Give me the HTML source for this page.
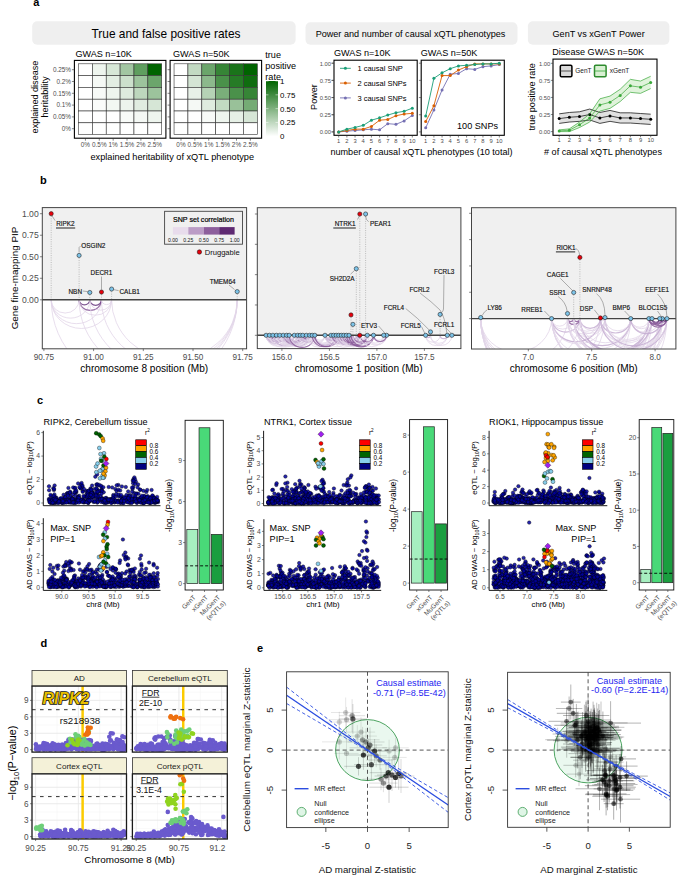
<!DOCTYPE html>
<html><head><meta charset="utf-8"><style>
html,body{margin:0;padding:0;background:#fff;}
svg{display:block;font-family:"Liberation Sans", sans-serif;}
</style></head><body>
<svg width="685" height="878" viewBox="0 0 685 878">
<rect width="685" height="878" fill="#fff"/>
<text x="33.20" y="6.30" font-size="11" font-weight="bold">a</text>
<rect x="32.20" y="21.20" width="263.40" height="23.60" fill="#efefef" stroke="none" stroke-width="1" rx="5"/>
<text x="166.00" y="37.60" font-size="11.9" text-anchor="middle">True and false positive rates</text>
<rect x="305.50" y="22.20" width="212.00" height="22.50" fill="#efefef" stroke="none" stroke-width="1" rx="5"/>
<text x="410.50" y="36.80" font-size="9.1" text-anchor="middle">Power and number of causal xQTL phenotypes</text>
<rect x="527.90" y="21.20" width="141.50" height="23.50" fill="#efefef" stroke="none" stroke-width="1" rx="5"/>
<text x="598.60" y="36.80" font-size="9.1" text-anchor="middle">GenT vs xGenT Power</text>
<rect x="78.50" y="63.80" width="13.87" height="11.80" fill="#ffffff" stroke="#333" stroke-width="0.6"/>
<rect x="92.37" y="63.80" width="13.87" height="11.80" fill="#eef5ee" stroke="#333" stroke-width="0.6"/>
<rect x="106.23" y="63.80" width="13.87" height="11.80" fill="#d7e7d7" stroke="#333" stroke-width="0.6"/>
<rect x="120.10" y="63.80" width="13.87" height="11.80" fill="#a2c6a2" stroke="#333" stroke-width="0.6"/>
<rect x="133.97" y="63.80" width="13.87" height="11.80" fill="#5f9e5f" stroke="#333" stroke-width="0.6"/>
<rect x="147.83" y="63.80" width="13.87" height="11.80" fill="#006400" stroke="#333" stroke-width="0.6"/>
<rect x="78.50" y="75.60" width="13.87" height="11.80" fill="#ffffff" stroke="#333" stroke-width="0.6"/>
<rect x="92.37" y="75.60" width="13.87" height="11.80" fill="#f5f9f5" stroke="#333" stroke-width="0.6"/>
<rect x="106.23" y="75.60" width="13.87" height="11.80" fill="#e3eee3" stroke="#333" stroke-width="0.6"/>
<rect x="120.10" y="75.60" width="13.87" height="11.80" fill="#cce0cc" stroke="#333" stroke-width="0.6"/>
<rect x="133.97" y="75.60" width="13.87" height="11.80" fill="#9cc39c" stroke="#333" stroke-width="0.6"/>
<rect x="147.83" y="75.60" width="13.87" height="11.80" fill="#6ba56b" stroke="#333" stroke-width="0.6"/>
<rect x="78.50" y="87.40" width="13.87" height="11.80" fill="#ffffff" stroke="#333" stroke-width="0.6"/>
<rect x="92.37" y="87.40" width="13.87" height="11.80" fill="#f7faf7" stroke="#333" stroke-width="0.6"/>
<rect x="106.23" y="87.40" width="13.87" height="11.80" fill="#eef5ee" stroke="#333" stroke-width="0.6"/>
<rect x="120.10" y="87.40" width="13.87" height="11.80" fill="#deebde" stroke="#333" stroke-width="0.6"/>
<rect x="133.97" y="87.40" width="13.87" height="11.80" fill="#bdd7bd" stroke="#333" stroke-width="0.6"/>
<rect x="147.83" y="87.40" width="13.87" height="11.80" fill="#9cc39c" stroke="#333" stroke-width="0.6"/>
<rect x="78.50" y="99.20" width="13.87" height="11.80" fill="#ffffff" stroke="#333" stroke-width="0.6"/>
<rect x="92.37" y="99.20" width="13.87" height="11.80" fill="#fafcfa" stroke="#333" stroke-width="0.6"/>
<rect x="106.23" y="99.20" width="13.87" height="11.80" fill="#f3f8f3" stroke="#333" stroke-width="0.6"/>
<rect x="120.10" y="99.20" width="13.87" height="11.80" fill="#edf4ed" stroke="#333" stroke-width="0.6"/>
<rect x="133.97" y="99.20" width="13.87" height="11.80" fill="#e0ece0" stroke="#333" stroke-width="0.6"/>
<rect x="147.83" y="99.20" width="13.87" height="11.80" fill="#d6e6d6" stroke="#333" stroke-width="0.6"/>
<rect x="78.50" y="111.00" width="13.87" height="11.80" fill="#ffffff" stroke="#333" stroke-width="0.6"/>
<rect x="92.37" y="111.00" width="13.87" height="11.80" fill="#ffffff" stroke="#333" stroke-width="0.6"/>
<rect x="106.23" y="111.00" width="13.87" height="11.80" fill="#fefefe" stroke="#333" stroke-width="0.6"/>
<rect x="120.10" y="111.00" width="13.87" height="11.80" fill="#f8fbf8" stroke="#333" stroke-width="0.6"/>
<rect x="133.97" y="111.00" width="13.87" height="11.80" fill="#f4f8f4" stroke="#333" stroke-width="0.6"/>
<rect x="147.83" y="111.00" width="13.87" height="11.80" fill="#eef5ee" stroke="#333" stroke-width="0.6"/>
<rect x="78.50" y="122.80" width="13.87" height="11.80" fill="#ffffff" stroke="#333" stroke-width="0.6"/>
<rect x="92.37" y="122.80" width="13.87" height="11.80" fill="#ffffff" stroke="#333" stroke-width="0.6"/>
<rect x="106.23" y="122.80" width="13.87" height="11.80" fill="#ffffff" stroke="#333" stroke-width="0.6"/>
<rect x="120.10" y="122.80" width="13.87" height="11.80" fill="#ffffff" stroke="#333" stroke-width="0.6"/>
<rect x="133.97" y="122.80" width="13.87" height="11.80" fill="#ffffff" stroke="#333" stroke-width="0.6"/>
<rect x="147.83" y="122.80" width="13.87" height="11.80" fill="#ffffff" stroke="#333" stroke-width="0.6"/>
<rect x="74.40" y="60.40" width="91.50" height="77.80" fill="none" stroke="#000" stroke-width="1.1"/>
<text x="75.40" y="56.60" font-size="9.1">GWAS n=10K</text>
<line x1="71.90" y1="69.70" x2="74.40" y2="69.70" stroke="#333" stroke-width="0.6"/>
<line x1="71.90" y1="81.50" x2="74.40" y2="81.50" stroke="#333" stroke-width="0.6"/>
<line x1="71.90" y1="93.30" x2="74.40" y2="93.30" stroke="#333" stroke-width="0.6"/>
<line x1="71.90" y1="105.10" x2="74.40" y2="105.10" stroke="#333" stroke-width="0.6"/>
<line x1="71.90" y1="116.90" x2="74.40" y2="116.90" stroke="#333" stroke-width="0.6"/>
<line x1="71.90" y1="128.70" x2="74.40" y2="128.70" stroke="#333" stroke-width="0.6"/>
<line x1="85.43" y1="138.20" x2="85.43" y2="140.70" stroke="#333" stroke-width="0.6"/>
<text x="85.43" y="146.80" font-size="6.4" text-anchor="middle" fill="#4d4d4d">0%</text>
<line x1="99.30" y1="138.20" x2="99.30" y2="140.70" stroke="#333" stroke-width="0.6"/>
<text x="99.30" y="146.80" font-size="6.4" text-anchor="middle" fill="#4d4d4d">0.5%</text>
<line x1="113.17" y1="138.20" x2="113.17" y2="140.70" stroke="#333" stroke-width="0.6"/>
<text x="113.17" y="146.80" font-size="6.4" text-anchor="middle" fill="#4d4d4d">1%</text>
<line x1="127.03" y1="138.20" x2="127.03" y2="140.70" stroke="#333" stroke-width="0.6"/>
<text x="127.03" y="146.80" font-size="6.4" text-anchor="middle" fill="#4d4d4d">1.5%</text>
<line x1="140.90" y1="138.20" x2="140.90" y2="140.70" stroke="#333" stroke-width="0.6"/>
<text x="140.90" y="146.80" font-size="6.4" text-anchor="middle" fill="#4d4d4d">2%</text>
<line x1="154.77" y1="138.20" x2="154.77" y2="140.70" stroke="#333" stroke-width="0.6"/>
<text x="154.77" y="146.80" font-size="6.4" text-anchor="middle" fill="#4d4d4d">2.5%</text>
<rect x="174.05" y="63.80" width="13.88" height="11.80" fill="#ffffff" stroke="#333" stroke-width="0.6"/>
<rect x="187.93" y="63.80" width="13.88" height="11.80" fill="#c2dac2" stroke="#333" stroke-width="0.6"/>
<rect x="201.80" y="63.80" width="13.88" height="11.80" fill="#6ba56b" stroke="#333" stroke-width="0.6"/>
<rect x="215.68" y="63.80" width="13.88" height="11.80" fill="#368536" stroke="#333" stroke-width="0.6"/>
<rect x="229.55" y="63.80" width="13.88" height="11.80" fill="#1a741a" stroke="#333" stroke-width="0.6"/>
<rect x="243.43" y="63.80" width="13.88" height="11.80" fill="#006400" stroke="#333" stroke-width="0.6"/>
<rect x="174.05" y="75.60" width="13.88" height="11.80" fill="#ffffff" stroke="#333" stroke-width="0.6"/>
<rect x="187.93" y="75.60" width="13.88" height="11.80" fill="#d4e5d4" stroke="#333" stroke-width="0.6"/>
<rect x="201.80" y="75.60" width="13.88" height="11.80" fill="#8cb98c" stroke="#333" stroke-width="0.6"/>
<rect x="215.68" y="75.60" width="13.88" height="11.80" fill="#4a914a" stroke="#333" stroke-width="0.6"/>
<rect x="229.55" y="75.60" width="13.88" height="11.80" fill="#267b26" stroke="#333" stroke-width="0.6"/>
<rect x="243.43" y="75.60" width="13.88" height="11.80" fill="#0f6d0f" stroke="#333" stroke-width="0.6"/>
<rect x="174.05" y="87.40" width="13.88" height="11.80" fill="#ffffff" stroke="#333" stroke-width="0.6"/>
<rect x="187.93" y="87.40" width="13.88" height="11.80" fill="#e8f1e8" stroke="#333" stroke-width="0.6"/>
<rect x="201.80" y="87.40" width="13.88" height="11.80" fill="#b5d2b5" stroke="#333" stroke-width="0.6"/>
<rect x="215.68" y="87.40" width="13.88" height="11.80" fill="#7aae7a" stroke="#333" stroke-width="0.6"/>
<rect x="229.55" y="87.40" width="13.88" height="11.80" fill="#4a914a" stroke="#333" stroke-width="0.6"/>
<rect x="243.43" y="87.40" width="13.88" height="11.80" fill="#368536" stroke="#333" stroke-width="0.6"/>
<rect x="174.05" y="99.20" width="13.88" height="11.80" fill="#ffffff" stroke="#333" stroke-width="0.6"/>
<rect x="187.93" y="99.20" width="13.88" height="11.80" fill="#f5f9f5" stroke="#333" stroke-width="0.6"/>
<rect x="201.80" y="99.20" width="13.88" height="11.80" fill="#dfecdf" stroke="#333" stroke-width="0.6"/>
<rect x="215.68" y="99.20" width="13.88" height="11.80" fill="#c2dac2" stroke="#333" stroke-width="0.6"/>
<rect x="229.55" y="99.20" width="13.88" height="11.80" fill="#99c199" stroke="#333" stroke-width="0.6"/>
<rect x="243.43" y="99.20" width="13.88" height="11.80" fill="#75ab75" stroke="#333" stroke-width="0.6"/>
<rect x="174.05" y="111.00" width="13.88" height="11.80" fill="#ffffff" stroke="#333" stroke-width="0.6"/>
<rect x="187.93" y="111.00" width="13.88" height="11.80" fill="#fefefe" stroke="#333" stroke-width="0.6"/>
<rect x="201.80" y="111.00" width="13.88" height="11.80" fill="#f7faf7" stroke="#333" stroke-width="0.6"/>
<rect x="215.68" y="111.00" width="13.88" height="11.80" fill="#eef5ee" stroke="#333" stroke-width="0.6"/>
<rect x="229.55" y="111.00" width="13.88" height="11.80" fill="#e6f0e6" stroke="#333" stroke-width="0.6"/>
<rect x="243.43" y="111.00" width="13.88" height="11.80" fill="#d6e6d6" stroke="#333" stroke-width="0.6"/>
<rect x="174.05" y="122.80" width="13.88" height="11.80" fill="#ffffff" stroke="#333" stroke-width="0.6"/>
<rect x="187.93" y="122.80" width="13.88" height="11.80" fill="#ffffff" stroke="#333" stroke-width="0.6"/>
<rect x="201.80" y="122.80" width="13.88" height="11.80" fill="#ffffff" stroke="#333" stroke-width="0.6"/>
<rect x="215.68" y="122.80" width="13.88" height="11.80" fill="#ffffff" stroke="#333" stroke-width="0.6"/>
<rect x="229.55" y="122.80" width="13.88" height="11.80" fill="#ffffff" stroke="#333" stroke-width="0.6"/>
<rect x="243.43" y="122.80" width="13.88" height="11.80" fill="#ffffff" stroke="#333" stroke-width="0.6"/>
<rect x="170.10" y="60.40" width="91.50" height="77.80" fill="none" stroke="#000" stroke-width="1.1"/>
<text x="173.00" y="56.60" font-size="9.1">GWAS n=50K</text>
<line x1="167.60" y1="69.70" x2="170.10" y2="69.70" stroke="#333" stroke-width="0.6"/>
<line x1="167.60" y1="81.50" x2="170.10" y2="81.50" stroke="#333" stroke-width="0.6"/>
<line x1="167.60" y1="93.30" x2="170.10" y2="93.30" stroke="#333" stroke-width="0.6"/>
<line x1="167.60" y1="105.10" x2="170.10" y2="105.10" stroke="#333" stroke-width="0.6"/>
<line x1="167.60" y1="116.90" x2="170.10" y2="116.90" stroke="#333" stroke-width="0.6"/>
<line x1="167.60" y1="128.70" x2="170.10" y2="128.70" stroke="#333" stroke-width="0.6"/>
<line x1="180.99" y1="138.20" x2="180.99" y2="140.70" stroke="#333" stroke-width="0.6"/>
<text x="180.99" y="146.80" font-size="6.4" text-anchor="middle" fill="#4d4d4d">0%</text>
<line x1="194.86" y1="138.20" x2="194.86" y2="140.70" stroke="#333" stroke-width="0.6"/>
<text x="194.86" y="146.80" font-size="6.4" text-anchor="middle" fill="#4d4d4d">0.5%</text>
<line x1="208.74" y1="138.20" x2="208.74" y2="140.70" stroke="#333" stroke-width="0.6"/>
<text x="208.74" y="146.80" font-size="6.4" text-anchor="middle" fill="#4d4d4d">1%</text>
<line x1="222.61" y1="138.20" x2="222.61" y2="140.70" stroke="#333" stroke-width="0.6"/>
<text x="222.61" y="146.80" font-size="6.4" text-anchor="middle" fill="#4d4d4d">1.5%</text>
<line x1="236.49" y1="138.20" x2="236.49" y2="140.70" stroke="#333" stroke-width="0.6"/>
<text x="236.49" y="146.80" font-size="6.4" text-anchor="middle" fill="#4d4d4d">2%</text>
<line x1="250.36" y1="138.20" x2="250.36" y2="140.70" stroke="#333" stroke-width="0.6"/>
<text x="250.36" y="146.80" font-size="6.4" text-anchor="middle" fill="#4d4d4d">2.5%</text>
<text x="71.00" y="72.00" font-size="6.4" text-anchor="end" fill="#4d4d4d">0.25%</text>
<text x="71.00" y="83.80" font-size="6.4" text-anchor="end" fill="#4d4d4d">0.2%</text>
<text x="71.00" y="95.60" font-size="6.4" text-anchor="end" fill="#4d4d4d">0.15%</text>
<text x="71.00" y="107.40" font-size="6.4" text-anchor="end" fill="#4d4d4d">0.1%</text>
<text x="71.00" y="119.20" font-size="6.4" text-anchor="end" fill="#4d4d4d">0.05%</text>
<text x="71.00" y="131.00" font-size="6.4" text-anchor="end" fill="#4d4d4d">0%</text>
<text x="37.70" y="97.00" font-size="9.1" text-anchor="middle" transform="rotate(-90 37.70 97.00)">explained disease</text>
<text x="48.20" y="97.00" font-size="9.1" text-anchor="middle" transform="rotate(-90 48.20 97.00)">heritability</text>
<text x="172.30" y="159.60" font-size="9.2" text-anchor="middle">explained heritability of xQTL phenotype</text>
<text x="265.30" y="58.00" font-size="9.1">true</text>
<text x="265.30" y="68.80" font-size="9.1">positive</text>
<text x="265.30" y="79.50" font-size="9.1">rate</text>
<defs><linearGradient id="tpr" x1="0" y1="1" x2="0" y2="0"><stop offset="0" stop-color="#fff"/><stop offset="1" stop-color="#006400"/></linearGradient></defs>
<rect x="266.00" y="81.00" width="12.00" height="55.30" fill="url(#tpr)" stroke="none" stroke-width="1"/>
<line x1="266.00" y1="136.30" x2="268.50" y2="136.30" stroke="#fff" stroke-width="0.5"/>
<line x1="275.50" y1="136.30" x2="278.00" y2="136.30" stroke="#fff" stroke-width="0.5"/>
<text x="280.00" y="139.30" font-size="7.9">0</text>
<line x1="266.00" y1="122.48" x2="268.50" y2="122.48" stroke="#fff" stroke-width="0.5"/>
<line x1="275.50" y1="122.48" x2="278.00" y2="122.48" stroke="#fff" stroke-width="0.5"/>
<text x="280.00" y="125.48" font-size="7.9">0.25</text>
<line x1="266.00" y1="108.65" x2="268.50" y2="108.65" stroke="#fff" stroke-width="0.5"/>
<line x1="275.50" y1="108.65" x2="278.00" y2="108.65" stroke="#fff" stroke-width="0.5"/>
<text x="280.00" y="111.65" font-size="7.9">0.50</text>
<line x1="266.00" y1="94.83" x2="268.50" y2="94.83" stroke="#fff" stroke-width="0.5"/>
<line x1="275.50" y1="94.83" x2="278.00" y2="94.83" stroke="#fff" stroke-width="0.5"/>
<text x="280.00" y="97.83" font-size="7.9">0.75</text>
<line x1="266.00" y1="81.00" x2="268.50" y2="81.00" stroke="#fff" stroke-width="0.5"/>
<line x1="275.50" y1="81.00" x2="278.00" y2="81.00" stroke="#fff" stroke-width="0.5"/>
<text x="280.00" y="84.00" font-size="7.9">1</text>
<polyline points="338.70,131.90 346.88,131.21 355.06,130.53 363.23,129.84 371.41,129.15 379.59,129.84 387.77,123.66 395.94,124.34 404.12,120.91 412.30,115.41" fill="none" stroke="#7570b3" stroke-width="0.9"/>
<circle cx="338.70" cy="131.90" r="1.5" fill="#7570b3" stroke="none" stroke-width="0.5"/>
<circle cx="346.88" cy="131.21" r="1.5" fill="#7570b3" stroke="none" stroke-width="0.5"/>
<circle cx="355.06" cy="130.53" r="1.5" fill="#7570b3" stroke="none" stroke-width="0.5"/>
<circle cx="363.23" cy="129.84" r="1.5" fill="#7570b3" stroke="none" stroke-width="0.5"/>
<circle cx="371.41" cy="129.15" r="1.5" fill="#7570b3" stroke="none" stroke-width="0.5"/>
<circle cx="379.59" cy="129.84" r="1.5" fill="#7570b3" stroke="none" stroke-width="0.5"/>
<circle cx="387.77" cy="123.66" r="1.5" fill="#7570b3" stroke="none" stroke-width="0.5"/>
<circle cx="395.94" cy="124.34" r="1.5" fill="#7570b3" stroke="none" stroke-width="0.5"/>
<circle cx="404.12" cy="120.91" r="1.5" fill="#7570b3" stroke="none" stroke-width="0.5"/>
<circle cx="412.30" cy="115.41" r="1.5" fill="#7570b3" stroke="none" stroke-width="0.5"/>
<polyline points="338.70,131.90 346.88,130.53 355.06,129.15 363.23,129.15 371.41,126.40 379.59,120.22 387.77,119.53 395.94,115.76 404.12,114.04 412.30,113.35" fill="none" stroke="#d95f02" stroke-width="0.9"/>
<circle cx="338.70" cy="131.90" r="1.5" fill="#d95f02" stroke="none" stroke-width="0.5"/>
<circle cx="346.88" cy="130.53" r="1.5" fill="#d95f02" stroke="none" stroke-width="0.5"/>
<circle cx="355.06" cy="129.15" r="1.5" fill="#d95f02" stroke="none" stroke-width="0.5"/>
<circle cx="363.23" cy="129.15" r="1.5" fill="#d95f02" stroke="none" stroke-width="0.5"/>
<circle cx="371.41" cy="126.40" r="1.5" fill="#d95f02" stroke="none" stroke-width="0.5"/>
<circle cx="379.59" cy="120.22" r="1.5" fill="#d95f02" stroke="none" stroke-width="0.5"/>
<circle cx="387.77" cy="119.53" r="1.5" fill="#d95f02" stroke="none" stroke-width="0.5"/>
<circle cx="395.94" cy="115.76" r="1.5" fill="#d95f02" stroke="none" stroke-width="0.5"/>
<circle cx="404.12" cy="114.04" r="1.5" fill="#d95f02" stroke="none" stroke-width="0.5"/>
<circle cx="412.30" cy="113.35" r="1.5" fill="#d95f02" stroke="none" stroke-width="0.5"/>
<polyline points="338.70,131.90 346.88,129.15 355.06,127.43 363.23,125.37 371.41,120.22 379.59,117.82 387.77,115.07 395.94,112.66 404.12,111.29 412.30,108.20" fill="none" stroke="#1b9e77" stroke-width="0.9"/>
<circle cx="338.70" cy="131.90" r="1.5" fill="#1b9e77" stroke="none" stroke-width="0.5"/>
<circle cx="346.88" cy="129.15" r="1.5" fill="#1b9e77" stroke="none" stroke-width="0.5"/>
<circle cx="355.06" cy="127.43" r="1.5" fill="#1b9e77" stroke="none" stroke-width="0.5"/>
<circle cx="363.23" cy="125.37" r="1.5" fill="#1b9e77" stroke="none" stroke-width="0.5"/>
<circle cx="371.41" cy="120.22" r="1.5" fill="#1b9e77" stroke="none" stroke-width="0.5"/>
<circle cx="379.59" cy="117.82" r="1.5" fill="#1b9e77" stroke="none" stroke-width="0.5"/>
<circle cx="387.77" cy="115.07" r="1.5" fill="#1b9e77" stroke="none" stroke-width="0.5"/>
<circle cx="395.94" cy="112.66" r="1.5" fill="#1b9e77" stroke="none" stroke-width="0.5"/>
<circle cx="404.12" cy="111.29" r="1.5" fill="#1b9e77" stroke="none" stroke-width="0.5"/>
<circle cx="412.30" cy="108.20" r="1.5" fill="#1b9e77" stroke="none" stroke-width="0.5"/>
<rect x="334.00" y="60.20" width="83.20" height="75.10" fill="none" stroke="#000" stroke-width="1.1"/>
<text x="334.00" y="55.80" font-size="9.1">GWAS n=10K</text>
<line x1="331.70" y1="131.90" x2="334.00" y2="131.90" stroke="#333" stroke-width="0.6"/>
<line x1="331.70" y1="114.73" x2="334.00" y2="114.73" stroke="#333" stroke-width="0.6"/>
<line x1="331.70" y1="97.55" x2="334.00" y2="97.55" stroke="#333" stroke-width="0.6"/>
<line x1="331.70" y1="80.38" x2="334.00" y2="80.38" stroke="#333" stroke-width="0.6"/>
<line x1="331.70" y1="63.20" x2="334.00" y2="63.20" stroke="#333" stroke-width="0.6"/>
<line x1="338.70" y1="135.50" x2="338.70" y2="137.50" stroke="#333" stroke-width="0.6"/>
<text x="338.70" y="142.50" font-size="5.8" text-anchor="middle" fill="#4d4d4d">1</text>
<line x1="346.88" y1="135.50" x2="346.88" y2="137.50" stroke="#333" stroke-width="0.6"/>
<text x="346.88" y="142.50" font-size="5.8" text-anchor="middle" fill="#4d4d4d">2</text>
<line x1="355.06" y1="135.50" x2="355.06" y2="137.50" stroke="#333" stroke-width="0.6"/>
<text x="355.06" y="142.50" font-size="5.8" text-anchor="middle" fill="#4d4d4d">3</text>
<line x1="363.23" y1="135.50" x2="363.23" y2="137.50" stroke="#333" stroke-width="0.6"/>
<text x="363.23" y="142.50" font-size="5.8" text-anchor="middle" fill="#4d4d4d">4</text>
<line x1="371.41" y1="135.50" x2="371.41" y2="137.50" stroke="#333" stroke-width="0.6"/>
<text x="371.41" y="142.50" font-size="5.8" text-anchor="middle" fill="#4d4d4d">5</text>
<line x1="379.59" y1="135.50" x2="379.59" y2="137.50" stroke="#333" stroke-width="0.6"/>
<text x="379.59" y="142.50" font-size="5.8" text-anchor="middle" fill="#4d4d4d">6</text>
<line x1="387.77" y1="135.50" x2="387.77" y2="137.50" stroke="#333" stroke-width="0.6"/>
<text x="387.77" y="142.50" font-size="5.8" text-anchor="middle" fill="#4d4d4d">7</text>
<line x1="395.94" y1="135.50" x2="395.94" y2="137.50" stroke="#333" stroke-width="0.6"/>
<text x="395.94" y="142.50" font-size="5.8" text-anchor="middle" fill="#4d4d4d">8</text>
<line x1="404.12" y1="135.50" x2="404.12" y2="137.50" stroke="#333" stroke-width="0.6"/>
<text x="404.12" y="142.50" font-size="5.8" text-anchor="middle" fill="#4d4d4d">9</text>
<line x1="412.30" y1="135.50" x2="412.30" y2="137.50" stroke="#333" stroke-width="0.6"/>
<text x="412.30" y="142.50" font-size="5.8" text-anchor="middle" fill="#4d4d4d">10</text>
<polyline points="425.70,127.78 433.88,109.92 442.06,89.99 450.23,74.19 458.41,73.50 466.59,68.70 474.77,69.38 482.94,66.64 491.12,65.95 499.30,64.57" fill="none" stroke="#7570b3" stroke-width="0.9"/>
<circle cx="425.70" cy="127.78" r="1.5" fill="#7570b3" stroke="none" stroke-width="0.5"/>
<circle cx="433.88" cy="109.92" r="1.5" fill="#7570b3" stroke="none" stroke-width="0.5"/>
<circle cx="442.06" cy="89.99" r="1.5" fill="#7570b3" stroke="none" stroke-width="0.5"/>
<circle cx="450.23" cy="74.19" r="1.5" fill="#7570b3" stroke="none" stroke-width="0.5"/>
<circle cx="458.41" cy="73.50" r="1.5" fill="#7570b3" stroke="none" stroke-width="0.5"/>
<circle cx="466.59" cy="68.70" r="1.5" fill="#7570b3" stroke="none" stroke-width="0.5"/>
<circle cx="474.77" cy="69.38" r="1.5" fill="#7570b3" stroke="none" stroke-width="0.5"/>
<circle cx="482.94" cy="66.64" r="1.5" fill="#7570b3" stroke="none" stroke-width="0.5"/>
<circle cx="491.12" cy="65.95" r="1.5" fill="#7570b3" stroke="none" stroke-width="0.5"/>
<circle cx="499.30" cy="64.57" r="1.5" fill="#7570b3" stroke="none" stroke-width="0.5"/>
<polyline points="425.70,121.59 433.88,105.79 442.06,75.57 450.23,75.57 458.41,70.07 466.59,66.64 474.77,63.89 482.94,63.89 491.12,63.89 499.30,63.89" fill="none" stroke="#d95f02" stroke-width="0.9"/>
<circle cx="425.70" cy="121.59" r="1.5" fill="#d95f02" stroke="none" stroke-width="0.5"/>
<circle cx="433.88" cy="105.79" r="1.5" fill="#d95f02" stroke="none" stroke-width="0.5"/>
<circle cx="442.06" cy="75.57" r="1.5" fill="#d95f02" stroke="none" stroke-width="0.5"/>
<circle cx="450.23" cy="75.57" r="1.5" fill="#d95f02" stroke="none" stroke-width="0.5"/>
<circle cx="458.41" cy="70.07" r="1.5" fill="#d95f02" stroke="none" stroke-width="0.5"/>
<circle cx="466.59" cy="66.64" r="1.5" fill="#d95f02" stroke="none" stroke-width="0.5"/>
<circle cx="474.77" cy="63.89" r="1.5" fill="#d95f02" stroke="none" stroke-width="0.5"/>
<circle cx="482.94" cy="63.89" r="1.5" fill="#d95f02" stroke="none" stroke-width="0.5"/>
<circle cx="491.12" cy="63.89" r="1.5" fill="#d95f02" stroke="none" stroke-width="0.5"/>
<circle cx="499.30" cy="63.89" r="1.5" fill="#d95f02" stroke="none" stroke-width="0.5"/>
<polyline points="425.70,116.10 433.88,78.31 442.06,72.82 450.23,68.70 458.41,65.95 466.59,65.26 474.77,64.57 482.94,63.89 491.12,63.89 499.30,63.20" fill="none" stroke="#1b9e77" stroke-width="0.9"/>
<circle cx="425.70" cy="116.10" r="1.5" fill="#1b9e77" stroke="none" stroke-width="0.5"/>
<circle cx="433.88" cy="78.31" r="1.5" fill="#1b9e77" stroke="none" stroke-width="0.5"/>
<circle cx="442.06" cy="72.82" r="1.5" fill="#1b9e77" stroke="none" stroke-width="0.5"/>
<circle cx="450.23" cy="68.70" r="1.5" fill="#1b9e77" stroke="none" stroke-width="0.5"/>
<circle cx="458.41" cy="65.95" r="1.5" fill="#1b9e77" stroke="none" stroke-width="0.5"/>
<circle cx="466.59" cy="65.26" r="1.5" fill="#1b9e77" stroke="none" stroke-width="0.5"/>
<circle cx="474.77" cy="64.57" r="1.5" fill="#1b9e77" stroke="none" stroke-width="0.5"/>
<circle cx="482.94" cy="63.89" r="1.5" fill="#1b9e77" stroke="none" stroke-width="0.5"/>
<circle cx="491.12" cy="63.89" r="1.5" fill="#1b9e77" stroke="none" stroke-width="0.5"/>
<circle cx="499.30" cy="63.20" r="1.5" fill="#1b9e77" stroke="none" stroke-width="0.5"/>
<rect x="421.20" y="60.20" width="83.10" height="75.10" fill="none" stroke="#000" stroke-width="1.1"/>
<text x="420.80" y="55.80" font-size="9.1">GWAS n=50K</text>
<line x1="418.90" y1="131.90" x2="421.20" y2="131.90" stroke="#333" stroke-width="0.6"/>
<line x1="418.90" y1="114.73" x2="421.20" y2="114.73" stroke="#333" stroke-width="0.6"/>
<line x1="418.90" y1="97.55" x2="421.20" y2="97.55" stroke="#333" stroke-width="0.6"/>
<line x1="418.90" y1="80.38" x2="421.20" y2="80.38" stroke="#333" stroke-width="0.6"/>
<line x1="418.90" y1="63.20" x2="421.20" y2="63.20" stroke="#333" stroke-width="0.6"/>
<line x1="425.70" y1="135.50" x2="425.70" y2="137.50" stroke="#333" stroke-width="0.6"/>
<text x="425.70" y="142.50" font-size="5.8" text-anchor="middle" fill="#4d4d4d">1</text>
<line x1="433.88" y1="135.50" x2="433.88" y2="137.50" stroke="#333" stroke-width="0.6"/>
<text x="433.88" y="142.50" font-size="5.8" text-anchor="middle" fill="#4d4d4d">2</text>
<line x1="442.06" y1="135.50" x2="442.06" y2="137.50" stroke="#333" stroke-width="0.6"/>
<text x="442.06" y="142.50" font-size="5.8" text-anchor="middle" fill="#4d4d4d">3</text>
<line x1="450.23" y1="135.50" x2="450.23" y2="137.50" stroke="#333" stroke-width="0.6"/>
<text x="450.23" y="142.50" font-size="5.8" text-anchor="middle" fill="#4d4d4d">4</text>
<line x1="458.41" y1="135.50" x2="458.41" y2="137.50" stroke="#333" stroke-width="0.6"/>
<text x="458.41" y="142.50" font-size="5.8" text-anchor="middle" fill="#4d4d4d">5</text>
<line x1="466.59" y1="135.50" x2="466.59" y2="137.50" stroke="#333" stroke-width="0.6"/>
<text x="466.59" y="142.50" font-size="5.8" text-anchor="middle" fill="#4d4d4d">6</text>
<line x1="474.77" y1="135.50" x2="474.77" y2="137.50" stroke="#333" stroke-width="0.6"/>
<text x="474.77" y="142.50" font-size="5.8" text-anchor="middle" fill="#4d4d4d">7</text>
<line x1="482.94" y1="135.50" x2="482.94" y2="137.50" stroke="#333" stroke-width="0.6"/>
<text x="482.94" y="142.50" font-size="5.8" text-anchor="middle" fill="#4d4d4d">8</text>
<line x1="491.12" y1="135.50" x2="491.12" y2="137.50" stroke="#333" stroke-width="0.6"/>
<text x="491.12" y="142.50" font-size="5.8" text-anchor="middle" fill="#4d4d4d">9</text>
<line x1="499.30" y1="135.50" x2="499.30" y2="137.50" stroke="#333" stroke-width="0.6"/>
<text x="499.30" y="142.50" font-size="5.8" text-anchor="middle" fill="#4d4d4d">10</text>
<line x1="331.50" y1="131.90" x2="333.80" y2="131.90" stroke="#333" stroke-width="0.6"/>
<text x="331.00" y="134.40" font-size="5.8" text-anchor="end" fill="#4d4d4d">0.00</text>
<line x1="331.50" y1="114.73" x2="333.80" y2="114.73" stroke="#333" stroke-width="0.6"/>
<text x="331.00" y="117.23" font-size="5.8" text-anchor="end" fill="#4d4d4d">0.25</text>
<line x1="331.50" y1="97.55" x2="333.80" y2="97.55" stroke="#333" stroke-width="0.6"/>
<text x="331.00" y="100.05" font-size="5.8" text-anchor="end" fill="#4d4d4d">0.50</text>
<line x1="331.50" y1="80.38" x2="333.80" y2="80.38" stroke="#333" stroke-width="0.6"/>
<text x="331.00" y="82.88" font-size="5.8" text-anchor="end" fill="#4d4d4d">0.75</text>
<line x1="331.50" y1="63.20" x2="333.80" y2="63.20" stroke="#333" stroke-width="0.6"/>
<text x="331.00" y="65.70" font-size="5.8" text-anchor="end" fill="#4d4d4d">1.00</text>
<text x="316.80" y="97.00" font-size="9.1" text-anchor="middle" transform="rotate(-90 316.80 97.00)">Power</text>
<text x="421.50" y="155.30" font-size="9.1" text-anchor="middle">number of causal xQTL phenotypes (10 total)</text>
<line x1="340.00" y1="68.30" x2="350.80" y2="68.30" stroke="#1b9e77" stroke-width="0.9"/>
<circle cx="345.40" cy="68.30" r="1.5" fill="#1b9e77" stroke="none" stroke-width="0.5"/>
<text x="357.40" y="71.30" font-size="7.5">1 causal SNP</text>
<line x1="340.00" y1="83.10" x2="350.80" y2="83.10" stroke="#d95f02" stroke-width="0.9"/>
<circle cx="345.40" cy="83.10" r="1.5" fill="#d95f02" stroke="none" stroke-width="0.5"/>
<text x="357.40" y="86.10" font-size="7.5">2 causal SNPs</text>
<line x1="340.00" y1="97.90" x2="350.80" y2="97.90" stroke="#7570b3" stroke-width="0.9"/>
<circle cx="345.40" cy="97.90" r="1.5" fill="#7570b3" stroke="none" stroke-width="0.5"/>
<text x="357.40" y="100.90" font-size="7.5">3 causal SNPs</text>
<text x="498.00" y="128.80" font-size="9.1" text-anchor="end">100 SNPs</text>
<path d="M559.20,113.84 L569.37,112.48 L579.53,111.79 L589.70,109.06 L599.87,112.48 L610.03,110.43 L620.20,112.82 L630.37,112.82 L640.53,113.50 L650.70,114.18 L650.70,124.43 L640.53,123.75 L630.37,123.06 L620.20,123.06 L610.03,121.35 L599.87,123.40 L589.70,119.99 L579.53,121.35 L569.37,122.04 L559.20,123.40Z" fill="#d9d9d9" stroke="none" stroke-width="1" fill-opacity="0.8"/>
<path d="M559.20,129.89 L569.37,128.87 L579.53,122.04 L589.70,113.84 L599.87,98.82 L610.03,96.08 L620.20,89.25 L630.37,79.35 L640.53,81.06 L650.70,76.28 L650.70,88.57 L640.53,93.35 L630.37,92.33 L620.20,101.55 L610.03,108.38 L599.87,111.11 L589.70,122.04 L579.53,127.50 L569.37,131.60 L559.20,131.60Z" fill="#d8f0d2" stroke="none" stroke-width="1" fill-opacity="0.8"/>
<polyline points="559.20,113.84 569.37,112.48 579.53,111.79 589.70,109.06 599.87,112.48 610.03,110.43 620.20,112.82 630.37,112.82 640.53,113.50 650.70,114.18" fill="none" stroke="#000" stroke-width="0.7"/>
<polyline points="559.20,123.40 569.37,122.04 579.53,121.35 589.70,119.99 599.87,123.40 610.03,121.35 620.20,123.06 630.37,123.06 640.53,123.75 650.70,124.43" fill="none" stroke="#000" stroke-width="0.7"/>
<polyline points="559.20,118.62 569.37,117.26 579.53,116.57 589.70,114.52 599.87,117.94 610.03,115.89 620.20,117.94 630.37,117.94 640.53,118.62 650.70,119.31" fill="none" stroke="#000" stroke-width="0.7"/>
<circle cx="559.20" cy="118.62" r="1.5" fill="#000" stroke="none" stroke-width="0.5"/>
<circle cx="569.37" cy="117.26" r="1.5" fill="#000" stroke="none" stroke-width="0.5"/>
<circle cx="579.53" cy="116.57" r="1.5" fill="#000" stroke="none" stroke-width="0.5"/>
<circle cx="589.70" cy="114.52" r="1.5" fill="#000" stroke="none" stroke-width="0.5"/>
<circle cx="599.87" cy="117.94" r="1.5" fill="#000" stroke="none" stroke-width="0.5"/>
<circle cx="610.03" cy="115.89" r="1.5" fill="#000" stroke="none" stroke-width="0.5"/>
<circle cx="620.20" cy="117.94" r="1.5" fill="#000" stroke="none" stroke-width="0.5"/>
<circle cx="630.37" cy="117.94" r="1.5" fill="#000" stroke="none" stroke-width="0.5"/>
<circle cx="640.53" cy="118.62" r="1.5" fill="#000" stroke="none" stroke-width="0.5"/>
<circle cx="650.70" cy="119.31" r="1.5" fill="#000" stroke="none" stroke-width="0.5"/>
<polyline points="559.20,129.89 569.37,128.87 579.53,122.04 589.70,113.84 599.87,98.82 610.03,96.08 620.20,89.25 630.37,79.35 640.53,81.06 650.70,76.28" fill="none" stroke="#3aa83a" stroke-width="0.7"/>
<polyline points="559.20,131.60 569.37,131.60 579.53,127.50 589.70,122.04 599.87,111.11 610.03,108.38 620.20,101.55 630.37,92.33 640.53,93.35 650.70,88.57" fill="none" stroke="#3aa83a" stroke-width="0.7"/>
<polyline points="559.20,130.92 569.37,130.23 579.53,124.77 589.70,117.94 599.87,104.96 610.03,102.23 620.20,95.40 630.37,85.84 640.53,87.20 650.70,82.42" fill="none" stroke="#3aa83a" stroke-width="0.7"/>
<circle cx="559.20" cy="130.92" r="1.5" fill="#3aa83a" stroke="none" stroke-width="0.5"/>
<circle cx="569.37" cy="130.23" r="1.5" fill="#3aa83a" stroke="none" stroke-width="0.5"/>
<circle cx="579.53" cy="124.77" r="1.5" fill="#3aa83a" stroke="none" stroke-width="0.5"/>
<circle cx="589.70" cy="117.94" r="1.5" fill="#3aa83a" stroke="none" stroke-width="0.5"/>
<circle cx="599.87" cy="104.96" r="1.5" fill="#3aa83a" stroke="none" stroke-width="0.5"/>
<circle cx="610.03" cy="102.23" r="1.5" fill="#3aa83a" stroke="none" stroke-width="0.5"/>
<circle cx="620.20" cy="95.40" r="1.5" fill="#3aa83a" stroke="none" stroke-width="0.5"/>
<circle cx="630.37" cy="85.84" r="1.5" fill="#3aa83a" stroke="none" stroke-width="0.5"/>
<circle cx="640.53" cy="87.20" r="1.5" fill="#3aa83a" stroke="none" stroke-width="0.5"/>
<circle cx="650.70" cy="82.42" r="1.5" fill="#3aa83a" stroke="none" stroke-width="0.5"/>
<rect x="553.00" y="59.10" width="104.00" height="76.20" fill="none" stroke="#000" stroke-width="1.1"/>
<text x="552.20" y="55.00" font-size="9.1">Disease GWAS n=50K</text>
<line x1="559.20" y1="135.30" x2="559.20" y2="137.30" stroke="#333" stroke-width="0.6"/>
<text x="559.20" y="142.40" font-size="5.8" text-anchor="middle" fill="#4d4d4d">1</text>
<line x1="569.37" y1="135.30" x2="569.37" y2="137.30" stroke="#333" stroke-width="0.6"/>
<text x="569.37" y="142.40" font-size="5.8" text-anchor="middle" fill="#4d4d4d">2</text>
<line x1="579.53" y1="135.30" x2="579.53" y2="137.30" stroke="#333" stroke-width="0.6"/>
<text x="579.53" y="142.40" font-size="5.8" text-anchor="middle" fill="#4d4d4d">3</text>
<line x1="589.70" y1="135.30" x2="589.70" y2="137.30" stroke="#333" stroke-width="0.6"/>
<text x="589.70" y="142.40" font-size="5.8" text-anchor="middle" fill="#4d4d4d">4</text>
<line x1="599.87" y1="135.30" x2="599.87" y2="137.30" stroke="#333" stroke-width="0.6"/>
<text x="599.87" y="142.40" font-size="5.8" text-anchor="middle" fill="#4d4d4d">5</text>
<line x1="610.03" y1="135.30" x2="610.03" y2="137.30" stroke="#333" stroke-width="0.6"/>
<text x="610.03" y="142.40" font-size="5.8" text-anchor="middle" fill="#4d4d4d">6</text>
<line x1="620.20" y1="135.30" x2="620.20" y2="137.30" stroke="#333" stroke-width="0.6"/>
<text x="620.20" y="142.40" font-size="5.8" text-anchor="middle" fill="#4d4d4d">7</text>
<line x1="630.37" y1="135.30" x2="630.37" y2="137.30" stroke="#333" stroke-width="0.6"/>
<text x="630.37" y="142.40" font-size="5.8" text-anchor="middle" fill="#4d4d4d">8</text>
<line x1="640.53" y1="135.30" x2="640.53" y2="137.30" stroke="#333" stroke-width="0.6"/>
<text x="640.53" y="142.40" font-size="5.8" text-anchor="middle" fill="#4d4d4d">9</text>
<line x1="650.70" y1="135.30" x2="650.70" y2="137.30" stroke="#333" stroke-width="0.6"/>
<text x="650.70" y="142.40" font-size="5.8" text-anchor="middle" fill="#4d4d4d">10</text>
<line x1="550.80" y1="131.60" x2="553.00" y2="131.60" stroke="#333" stroke-width="0.6"/>
<text x="550.30" y="134.40" font-size="5.8" text-anchor="end" fill="#4d4d4d">0.00</text>
<line x1="550.80" y1="114.52" x2="553.00" y2="114.52" stroke="#333" stroke-width="0.6"/>
<text x="550.30" y="117.32" font-size="5.8" text-anchor="end" fill="#4d4d4d">0.25</text>
<line x1="550.80" y1="97.45" x2="553.00" y2="97.45" stroke="#333" stroke-width="0.6"/>
<text x="550.30" y="100.25" font-size="5.8" text-anchor="end" fill="#4d4d4d">0.50</text>
<line x1="550.80" y1="80.38" x2="553.00" y2="80.38" stroke="#333" stroke-width="0.6"/>
<text x="550.30" y="83.17" font-size="5.8" text-anchor="end" fill="#4d4d4d">0.75</text>
<line x1="550.80" y1="63.30" x2="553.00" y2="63.30" stroke="#333" stroke-width="0.6"/>
<text x="550.30" y="66.10" font-size="5.8" text-anchor="end" fill="#4d4d4d">1.00</text>
<text x="535.00" y="96.80" font-size="9.1" text-anchor="middle" transform="rotate(-90 535.00 96.80)">true positive rate</text>
<text x="603.00" y="154.60" font-size="9.1" text-anchor="middle"># of causal xQTL phenotypes</text>
<rect x="560.30" y="65.20" width="11.60" height="11.60" fill="#d9d9d9" stroke="#000" stroke-width="1.5" rx="1.2"/>
<line x1="560.30" y1="71.00" x2="571.90" y2="71.00" stroke="#333" stroke-width="0.8"/>
<text x="575.30" y="73.40" font-size="6.5" fill="#1a1a1a">GenT</text>
<rect x="594.50" y="65.20" width="11.60" height="11.60" fill="#d8f0d2" stroke="#2e8b2e" stroke-width="1.5" rx="1.2"/>
<line x1="594.50" y1="71.00" x2="606.10" y2="71.00" stroke="#3aa83a" stroke-width="0.8"/>
<text x="609.80" y="73.40" font-size="6.5" fill="#1a1a1a">xGenT</text>
<text x="40.00" y="184.00" font-size="11" font-weight="bold">b</text>
<rect x="42.30" y="207.60" width="204.30" height="92.20" fill="#f0f0f0" stroke="none" stroke-width="1"/>
<clipPath id="cb1"><rect x="42.3" y="299.8" width="204.3" height="49.0"/></clipPath>
<g clip-path="url(#cb1)" fill="none">
<path d="M51.20,299.80 A13.95,13.25 0 0 0 79.10,299.80" stroke="#e2d6e8" stroke-width="1.0" stroke-opacity="0.8"/>
<path d="M51.20,299.80 A19.30,18.33 0 0 0 89.80,299.80" stroke="#e2d6e8" stroke-width="1.0" stroke-opacity="0.8"/>
<path d="M51.20,299.80 A25.15,23.89 0 0 0 101.50,299.80" stroke="#e2d6e8" stroke-width="1.0" stroke-opacity="0.8"/>
<path d="M51.20,299.80 A30.20,28.69 0 0 0 111.60,299.80" stroke="#e2d6e8" stroke-width="1.0" stroke-opacity="0.8"/>
<path d="M51.20,299.80 A93.00,88.35 0 0 0 237.20,299.80" stroke="#e2d6e8" stroke-width="1.0" stroke-opacity="0.8"/>
<path d="M79.10,299.80 A5.35,5.08 0 0 0 89.80,299.80" stroke="#6a3a80" stroke-width="1.2" stroke-opacity="0.85"/>
<path d="M79.10,299.80 A11.20,10.64 0 0 0 101.50,299.80" stroke="#8a5a9a" stroke-width="1.2" stroke-opacity="0.85"/>
<path d="M79.10,299.80 A16.25,15.44 0 0 0 111.60,299.80" stroke="#e2d6e8" stroke-width="1.0" stroke-opacity="0.8"/>
<path d="M79.10,299.80 A79.05,75.10 0 0 0 237.20,299.80" stroke="#e2d6e8" stroke-width="1.0" stroke-opacity="0.8"/>
<path d="M89.80,299.80 A5.85,5.56 0 0 0 101.50,299.80" stroke="#6a3a80" stroke-width="1.2" stroke-opacity="0.85"/>
<path d="M89.80,299.80 A10.90,10.35 0 0 0 111.60,299.80" stroke="#e2d6e8" stroke-width="1.0" stroke-opacity="0.8"/>
<path d="M89.80,299.80 A73.70,70.01 0 0 0 237.20,299.80" stroke="#e2d6e8" stroke-width="1.0" stroke-opacity="0.8"/>
<path d="M101.50,299.80 A5.05,4.80 0 0 0 111.60,299.80" stroke="#e2d6e8" stroke-width="1.0" stroke-opacity="0.8"/>
<path d="M101.50,299.80 A67.85,64.46 0 0 0 237.20,299.80" stroke="#e2d6e8" stroke-width="1.0" stroke-opacity="0.8"/>
<path d="M111.60,299.80 A62.80,59.66 0 0 0 237.20,299.80" stroke="#e2d6e8" stroke-width="1.0" stroke-opacity="0.8"/>
</g>
<line x1="51.20" y1="213.70" x2="51.20" y2="299.80" stroke="#999" stroke-width="0.6" stroke-dasharray="1,1.3"/>
<line x1="79.10" y1="255.46" x2="79.10" y2="299.80" stroke="#999" stroke-width="0.6" stroke-dasharray="1,1.3"/>
<line x1="89.80" y1="292.48" x2="89.80" y2="299.80" stroke="#999" stroke-width="0.6" stroke-dasharray="1,1.3"/>
<line x1="101.50" y1="292.05" x2="101.50" y2="299.80" stroke="#999" stroke-width="0.6" stroke-dasharray="1,1.3"/>
<line x1="111.60" y1="289.04" x2="111.60" y2="299.80" stroke="#999" stroke-width="0.6" stroke-dasharray="1,1.3"/>
<line x1="237.20" y1="291.62" x2="237.20" y2="299.80" stroke="#999" stroke-width="0.6" stroke-dasharray="1,1.3"/>
<line x1="42.30" y1="299.80" x2="246.60" y2="299.80" stroke="#444" stroke-width="1.4"/>
<path d="M51.8,215.5 L55,220.5" fill="none" stroke="#666" stroke-width="0.5"/>
<text x="56.20" y="225.80" font-size="6.4" fill="#111" stroke="#111" stroke-width="0.15">RIPK2</text>
<line x1="56.00" y1="228.00" x2="75.20" y2="228.00" stroke="#222" stroke-width="1.0"/>
<path d="M79.1,252.5 L79.1,247.5 L80.6,246" fill="none" stroke="#666" stroke-width="0.5"/>
<text x="81.20" y="247.70" font-size="6.4" fill="#111" stroke="#111" stroke-width="0.15">OSGIN2</text>
<path d="M82.8,291 L87.6,291.6" fill="none" stroke="#666" stroke-width="0.5"/>
<text x="82.00" y="293.60" font-size="6.4" text-anchor="end" fill="#111" stroke="#111" stroke-width="0.15">NBN</text>
<path d="M101.5,276.5 L101.5,289.6" fill="none" stroke="#666" stroke-width="0.5"/>
<text x="101.40" y="275.20" font-size="6.4" text-anchor="middle" fill="#111" stroke="#111" stroke-width="0.15">DECR1</text>
<path d="M113.6,289.6 L118.6,290.6" fill="none" stroke="#666" stroke-width="0.5"/>
<text x="119.50" y="293.60" font-size="6.4" fill="#111" stroke="#111" stroke-width="0.15">CALB1</text>
<path d="M229,285 L234.5,289.5" fill="none" stroke="#666" stroke-width="0.5"/>
<text x="222.60" y="284.40" font-size="6.4" text-anchor="middle" fill="#111" stroke="#111" stroke-width="0.15">TMEM64</text>
<circle cx="51.20" cy="213.70" r="2.1" fill="#e8000b" stroke="#1a1a1a" stroke-width="0.55"/>
<circle cx="79.10" cy="255.46" r="2.1" fill="#7cc3e8" stroke="#1a1a1a" stroke-width="0.55"/>
<circle cx="89.80" cy="292.48" r="2.1" fill="#7cc3e8" stroke="#1a1a1a" stroke-width="0.55"/>
<circle cx="101.50" cy="292.05" r="2.1" fill="#e8000b" stroke="#1a1a1a" stroke-width="0.55"/>
<circle cx="111.60" cy="289.04" r="2.1" fill="#7cc3e8" stroke="#1a1a1a" stroke-width="0.55"/>
<circle cx="237.20" cy="291.62" r="2.1" fill="#7cc3e8" stroke="#1a1a1a" stroke-width="0.55"/>
<rect x="42.30" y="207.60" width="204.30" height="141.20" fill="none" stroke="#444" stroke-width="1"/>
<line x1="39.90" y1="299.80" x2="42.30" y2="299.80" stroke="#333" stroke-width="0.6"/>
<text x="38.70" y="302.80" font-size="8.6" text-anchor="end" fill="#4d4d4d">0.00</text>
<line x1="39.90" y1="278.27" x2="42.30" y2="278.27" stroke="#333" stroke-width="0.6"/>
<text x="38.70" y="281.27" font-size="8.6" text-anchor="end" fill="#4d4d4d">0.25</text>
<line x1="39.90" y1="256.75" x2="42.30" y2="256.75" stroke="#333" stroke-width="0.6"/>
<text x="38.70" y="259.75" font-size="8.6" text-anchor="end" fill="#4d4d4d">0.50</text>
<line x1="39.90" y1="235.22" x2="42.30" y2="235.22" stroke="#333" stroke-width="0.6"/>
<text x="38.70" y="238.22" font-size="8.6" text-anchor="end" fill="#4d4d4d">0.75</text>
<line x1="39.90" y1="213.70" x2="42.30" y2="213.70" stroke="#333" stroke-width="0.6"/>
<text x="38.70" y="216.70" font-size="8.6" text-anchor="end" fill="#4d4d4d">1.00</text>
<line x1="43.90" y1="348.80" x2="43.90" y2="351.10" stroke="#333" stroke-width="0.6"/>
<text x="43.90" y="360.40" font-size="8.2" text-anchor="middle" fill="#4d4d4d">90.75</text>
<line x1="93.60" y1="348.80" x2="93.60" y2="351.10" stroke="#333" stroke-width="0.6"/>
<text x="93.60" y="360.40" font-size="8.2" text-anchor="middle" fill="#4d4d4d">91.00</text>
<line x1="143.30" y1="348.80" x2="143.30" y2="351.10" stroke="#333" stroke-width="0.6"/>
<text x="143.30" y="360.40" font-size="8.2" text-anchor="middle" fill="#4d4d4d">91.25</text>
<line x1="193.00" y1="348.80" x2="193.00" y2="351.10" stroke="#333" stroke-width="0.6"/>
<text x="193.00" y="360.40" font-size="8.2" text-anchor="middle" fill="#4d4d4d">91.50</text>
<line x1="242.70" y1="348.80" x2="242.70" y2="351.10" stroke="#333" stroke-width="0.6"/>
<text x="242.70" y="360.40" font-size="8.2" text-anchor="middle" fill="#4d4d4d">91.75</text>
<text x="144.20" y="371.80" font-size="10.1" text-anchor="middle">chromosome 8 position (Mb)</text>
<text x="17.80" y="278.00" font-size="9.9" text-anchor="middle" transform="rotate(-90 17.80 278.00)">Gene fine-mapping PIP</text>
<rect x="164.60" y="211.30" width="77.90" height="32.90" fill="#f0f0f0" stroke="#444" stroke-width="0.9"/>
<text x="203.50" y="222.00" font-size="7.1" text-anchor="middle" stroke="#000" stroke-width="0.2">SNP set correlation</text>
<rect x="172.90" y="227.10" width="15.43" height="7.50" fill="#e8dcec" stroke="none" stroke-width="1"/>
<rect x="188.33" y="227.10" width="15.43" height="7.50" fill="#bb9cc6" stroke="none" stroke-width="1"/>
<rect x="203.76" y="227.10" width="15.43" height="7.50" fill="#8d5f9c" stroke="none" stroke-width="1"/>
<rect x="219.19" y="227.10" width="15.43" height="7.50" fill="#5e2a72" stroke="none" stroke-width="1"/>
<text x="172.90" y="241.60" font-size="5.1" text-anchor="middle" fill="#111">0.00</text>
<text x="188.33" y="241.60" font-size="5.1" text-anchor="middle" fill="#111">0.25</text>
<text x="203.76" y="241.60" font-size="5.1" text-anchor="middle" fill="#111">0.50</text>
<text x="219.19" y="241.60" font-size="5.1" text-anchor="middle" fill="#111">0.75</text>
<text x="234.62" y="241.60" font-size="5.1" text-anchor="middle" fill="#111">1.00</text>
<circle cx="199.40" cy="252.00" r="2.2" fill="#e8000b" stroke="#1a1a1a" stroke-width="0.55"/>
<text x="204.70" y="254.70" font-size="7.6" fill="#111">Druggable</text>
<rect x="257.30" y="207.70" width="203.60" height="127.60" fill="#f0f0f0" stroke="none" stroke-width="1"/>
<clipPath id="cb2"><rect x="257.3" y="335.3" width="203.59999999999997" height="13.300000000000011"/></clipPath>
<g clip-path="url(#cb2)" fill="none">
<path d="M266.10,335.30 A1.70,1.61 0 0 0 269.50,335.30" stroke="#e2d6e8" stroke-width="1.0" stroke-opacity="0.8"/>
<path d="M266.10,335.30 A3.40,3.23 0 0 0 272.90,335.30" stroke="#e2d6e8" stroke-width="1.0" stroke-opacity="0.8"/>
<path d="M266.10,335.30 A5.15,4.89 0 0 0 276.40,335.30" stroke="#c6aed2" stroke-width="1.2" stroke-opacity="0.85"/>
<path d="M266.10,335.30 A6.85,6.51 0 0 0 279.80,335.30" stroke="#c6aed2" stroke-width="1.2" stroke-opacity="0.85"/>
<path d="M266.10,335.30 A8.55,8.12 0 0 0 283.20,335.30" stroke="#c6aed2" stroke-width="1.2" stroke-opacity="0.85"/>
<path d="M266.10,335.30 A10.25,9.74 0 0 0 286.60,335.30" stroke="#e2d6e8" stroke-width="1.0" stroke-opacity="0.8"/>
<path d="M266.10,335.30 A11.55,10.97 0 0 0 289.20,335.30" stroke="#e2d6e8" stroke-width="1.0" stroke-opacity="0.8"/>
<path d="M269.50,335.30 A1.70,1.61 0 0 0 272.90,335.30" stroke="#c6aed2" stroke-width="1.2" stroke-opacity="0.85"/>
<path d="M269.50,335.30 A3.45,3.28 0 0 0 276.40,335.30" stroke="#8a5a9a" stroke-width="1.2" stroke-opacity="0.85"/>
<path d="M269.50,335.30 A5.15,4.89 0 0 0 279.80,335.30" stroke="#e2d6e8" stroke-width="1.0" stroke-opacity="0.8"/>
<path d="M269.50,335.30 A6.85,6.51 0 0 0 283.20,335.30" stroke="#c6aed2" stroke-width="1.2" stroke-opacity="0.85"/>
<path d="M269.50,335.30 A9.85,9.36 0 0 0 289.20,335.30" stroke="#e2d6e8" stroke-width="1.0" stroke-opacity="0.8"/>
<path d="M269.50,335.30 A12.40,11.78 0 0 0 294.30,335.30" stroke="#e2d6e8" stroke-width="1.0" stroke-opacity="0.8"/>
<path d="M272.90,335.30 A1.75,1.66 0 0 0 276.40,335.30" stroke="#8a5a9a" stroke-width="1.2" stroke-opacity="0.85"/>
<path d="M272.90,335.30 A3.45,3.28 0 0 0 279.80,335.30" stroke="#e2d6e8" stroke-width="1.0" stroke-opacity="0.8"/>
<path d="M272.90,335.30 A5.15,4.89 0 0 0 283.20,335.30" stroke="#e2d6e8" stroke-width="1.0" stroke-opacity="0.8"/>
<path d="M272.90,335.30 A6.85,6.51 0 0 0 286.60,335.30" stroke="#c6aed2" stroke-width="1.2" stroke-opacity="0.85"/>
<path d="M272.90,335.30 A10.70,10.17 0 0 0 294.30,335.30" stroke="#c6aed2" stroke-width="1.2" stroke-opacity="0.85"/>
<path d="M272.90,335.30 A12.40,11.78 0 0 0 297.70,335.30" stroke="#e2d6e8" stroke-width="1.0" stroke-opacity="0.8"/>
<path d="M276.40,335.30 A1.70,1.62 0 0 0 279.80,335.30" stroke="#c6aed2" stroke-width="1.2" stroke-opacity="0.85"/>
<path d="M276.40,335.30 A3.40,3.23 0 0 0 283.20,335.30" stroke="#c6aed2" stroke-width="1.2" stroke-opacity="0.85"/>
<path d="M276.40,335.30 A5.10,4.85 0 0 0 286.60,335.30" stroke="#e2d6e8" stroke-width="1.0" stroke-opacity="0.8"/>
<path d="M276.40,335.30 A6.40,6.08 0 0 0 289.20,335.30" stroke="#c6aed2" stroke-width="1.2" stroke-opacity="0.85"/>
<path d="M276.40,335.30 A8.95,8.50 0 0 0 294.30,335.30" stroke="#e2d6e8" stroke-width="1.0" stroke-opacity="0.8"/>
<path d="M276.40,335.30 A10.65,10.12 0 0 0 297.70,335.30" stroke="#e2d6e8" stroke-width="1.0" stroke-opacity="0.8"/>
<path d="M276.40,335.30 A11.95,11.35 0 0 0 300.30,335.30" stroke="#e2d6e8" stroke-width="1.0" stroke-opacity="0.8"/>
<path d="M279.80,335.30 A3.40,3.23 0 0 0 286.60,335.30" stroke="#e2d6e8" stroke-width="1.0" stroke-opacity="0.8"/>
<path d="M279.80,335.30 A4.70,4.46 0 0 0 289.20,335.30" stroke="#e2d6e8" stroke-width="1.0" stroke-opacity="0.8"/>
<path d="M279.80,335.30 A7.25,6.89 0 0 0 294.30,335.30" stroke="#e2d6e8" stroke-width="1.0" stroke-opacity="0.8"/>
<path d="M279.80,335.30 A8.95,8.50 0 0 0 297.70,335.30" stroke="#e2d6e8" stroke-width="1.0" stroke-opacity="0.8"/>
<path d="M279.80,335.30 A10.25,9.74 0 0 0 300.30,335.30" stroke="#e2d6e8" stroke-width="1.0" stroke-opacity="0.8"/>
<path d="M279.80,335.30 A11.50,10.92 0 0 0 302.80,335.30" stroke="#e2d6e8" stroke-width="1.0" stroke-opacity="0.8"/>
<path d="M283.20,335.30 A1.70,1.62 0 0 0 286.60,335.30" stroke="#e2d6e8" stroke-width="1.0" stroke-opacity="0.8"/>
<path d="M283.20,335.30 A3.00,2.85 0 0 0 289.20,335.30" stroke="#e2d6e8" stroke-width="1.0" stroke-opacity="0.8"/>
<path d="M283.20,335.30 A5.55,5.27 0 0 0 294.30,335.30" stroke="#c6aed2" stroke-width="1.2" stroke-opacity="0.85"/>
<path d="M283.20,335.30 A7.25,6.89 0 0 0 297.70,335.30" stroke="#c6aed2" stroke-width="1.2" stroke-opacity="0.85"/>
<path d="M283.20,335.30 A8.55,8.12 0 0 0 300.30,335.30" stroke="#8a5a9a" stroke-width="1.2" stroke-opacity="0.85"/>
<path d="M283.20,335.30 A9.80,9.31 0 0 0 302.80,335.30" stroke="#c6aed2" stroke-width="1.2" stroke-opacity="0.85"/>
<path d="M283.20,335.30 A11.55,10.97 0 0 0 306.30,335.30" stroke="#e2d6e8" stroke-width="1.0" stroke-opacity="0.8"/>
<path d="M286.60,335.30 A1.30,1.23 0 0 0 289.20,335.30" stroke="#e2d6e8" stroke-width="1.0" stroke-opacity="0.8"/>
<path d="M286.60,335.30 A3.85,3.66 0 0 0 294.30,335.30" stroke="#e2d6e8" stroke-width="1.0" stroke-opacity="0.8"/>
<path d="M286.60,335.30 A6.85,6.51 0 0 0 300.30,335.30" stroke="#c6aed2" stroke-width="1.2" stroke-opacity="0.85"/>
<path d="M286.60,335.30 A8.10,7.69 0 0 0 302.80,335.30" stroke="#c6aed2" stroke-width="1.2" stroke-opacity="0.85"/>
<path d="M286.60,335.30 A9.85,9.36 0 0 0 306.30,335.30" stroke="#c6aed2" stroke-width="1.2" stroke-opacity="0.85"/>
<path d="M286.60,335.30 A11.55,10.97 0 0 0 309.70,335.30" stroke="#c6aed2" stroke-width="1.2" stroke-opacity="0.85"/>
<path d="M289.20,335.30 A2.55,2.42 0 0 0 294.30,335.30" stroke="#e2d6e8" stroke-width="1.0" stroke-opacity="0.8"/>
<path d="M289.20,335.30 A5.55,5.27 0 0 0 300.30,335.30" stroke="#e2d6e8" stroke-width="1.0" stroke-opacity="0.8"/>
<path d="M289.20,335.30 A6.80,6.46 0 0 0 302.80,335.30" stroke="#c6aed2" stroke-width="1.2" stroke-opacity="0.85"/>
<path d="M289.20,335.30 A8.55,8.12 0 0 0 306.30,335.30" stroke="#e2d6e8" stroke-width="1.0" stroke-opacity="0.8"/>
<path d="M289.20,335.30 A10.25,9.74 0 0 0 309.70,335.30" stroke="#e2d6e8" stroke-width="1.0" stroke-opacity="0.8"/>
<path d="M289.20,335.30 A11.50,10.92 0 0 0 312.20,335.30" stroke="#e2d6e8" stroke-width="1.0" stroke-opacity="0.8"/>
<path d="M289.20,335.30 A12.80,12.16 0 0 0 314.80,335.30" stroke="#8a5a9a" stroke-width="1.2" stroke-opacity="0.85"/>
<path d="M294.30,335.30 A1.70,1.61 0 0 0 297.70,335.30" stroke="#e2d6e8" stroke-width="1.0" stroke-opacity="0.8"/>
<path d="M294.30,335.30 A3.00,2.85 0 0 0 300.30,335.30" stroke="#c6aed2" stroke-width="1.2" stroke-opacity="0.85"/>
<path d="M294.30,335.30 A4.25,4.04 0 0 0 302.80,335.30" stroke="#e2d6e8" stroke-width="1.0" stroke-opacity="0.8"/>
<path d="M294.30,335.30 A8.95,8.50 0 0 0 312.20,335.30" stroke="#e2d6e8" stroke-width="1.0" stroke-opacity="0.8"/>
<path d="M297.70,335.30 A1.30,1.24 0 0 0 300.30,335.30" stroke="#e2d6e8" stroke-width="1.0" stroke-opacity="0.8"/>
<path d="M297.70,335.30 A4.30,4.09 0 0 0 306.30,335.30" stroke="#e2d6e8" stroke-width="1.0" stroke-opacity="0.8"/>
<path d="M297.70,335.30 A6.00,5.70 0 0 0 309.70,335.30" stroke="#c6aed2" stroke-width="1.2" stroke-opacity="0.85"/>
<path d="M297.70,335.30 A7.25,6.89 0 0 0 312.20,335.30" stroke="#e2d6e8" stroke-width="1.0" stroke-opacity="0.8"/>
<path d="M300.30,335.30 A1.25,1.19 0 0 0 302.80,335.30" stroke="#e2d6e8" stroke-width="1.0" stroke-opacity="0.8"/>
<path d="M300.30,335.30 A3.00,2.85 0 0 0 306.30,335.30" stroke="#e2d6e8" stroke-width="1.0" stroke-opacity="0.8"/>
<path d="M300.30,335.30 A4.70,4.46 0 0 0 309.70,335.30" stroke="#c6aed2" stroke-width="1.2" stroke-opacity="0.85"/>
<path d="M300.30,335.30 A5.95,5.65 0 0 0 312.20,335.30" stroke="#e2d6e8" stroke-width="1.0" stroke-opacity="0.8"/>
<path d="M300.30,335.30 A7.25,6.89 0 0 0 314.80,335.30" stroke="#c6aed2" stroke-width="1.2" stroke-opacity="0.85"/>
<path d="M302.80,335.30 A1.75,1.66 0 0 0 306.30,335.30" stroke="#c6aed2" stroke-width="1.2" stroke-opacity="0.85"/>
<path d="M302.80,335.30 A3.45,3.28 0 0 0 309.70,335.30" stroke="#8a5a9a" stroke-width="1.2" stroke-opacity="0.85"/>
<path d="M306.30,335.30 A1.70,1.61 0 0 0 309.70,335.30" stroke="#e2d6e8" stroke-width="1.0" stroke-opacity="0.8"/>
<path d="M306.30,335.30 A2.95,2.80 0 0 0 312.20,335.30" stroke="#e2d6e8" stroke-width="1.0" stroke-opacity="0.8"/>
<path d="M306.30,335.30 A4.25,4.04 0 0 0 314.80,335.30" stroke="#e2d6e8" stroke-width="1.0" stroke-opacity="0.8"/>
<path d="M306.30,335.30 A9.35,8.88 0 0 0 325.00,335.30" stroke="#e2d6e8" stroke-width="1.0" stroke-opacity="0.8"/>
<path d="M306.30,335.30 A12.35,11.73 0 0 0 331.00,335.30" stroke="#e2d6e8" stroke-width="1.0" stroke-opacity="0.8"/>
<path d="M309.70,335.30 A1.25,1.19 0 0 0 312.20,335.30" stroke="#e2d6e8" stroke-width="1.0" stroke-opacity="0.8"/>
<path d="M309.70,335.30 A2.55,2.42 0 0 0 314.80,335.30" stroke="#c6aed2" stroke-width="1.2" stroke-opacity="0.85"/>
<path d="M309.70,335.30 A7.65,7.27 0 0 0 325.00,335.30" stroke="#e2d6e8" stroke-width="1.0" stroke-opacity="0.8"/>
<path d="M309.70,335.30 A11.95,11.35 0 0 0 333.60,335.30" stroke="#e2d6e8" stroke-width="1.0" stroke-opacity="0.8"/>
<path d="M312.20,335.30 A6.40,6.08 0 0 0 325.00,335.30" stroke="#e2d6e8" stroke-width="1.0" stroke-opacity="0.8"/>
<path d="M312.20,335.30 A9.40,8.93 0 0 0 331.00,335.30" stroke="#e2d6e8" stroke-width="1.0" stroke-opacity="0.8"/>
<path d="M312.20,335.30 A10.70,10.17 0 0 0 333.60,335.30" stroke="#e2d6e8" stroke-width="1.0" stroke-opacity="0.8"/>
<path d="M312.20,335.30 A12.00,11.40 0 0 0 336.20,335.30" stroke="#8a5a9a" stroke-width="1.2" stroke-opacity="0.85"/>
<path d="M314.80,335.30 A5.10,4.84 0 0 0 325.00,335.30" stroke="#e2d6e8" stroke-width="1.0" stroke-opacity="0.8"/>
<path d="M314.80,335.30 A8.10,7.69 0 0 0 331.00,335.30" stroke="#e2d6e8" stroke-width="1.0" stroke-opacity="0.8"/>
<path d="M314.80,335.30 A9.40,8.93 0 0 0 333.60,335.30" stroke="#e2d6e8" stroke-width="1.0" stroke-opacity="0.8"/>
<path d="M314.80,335.30 A10.70,10.16 0 0 0 336.20,335.30" stroke="#c6aed2" stroke-width="1.2" stroke-opacity="0.85"/>
<path d="M314.80,335.30 A11.95,11.35 0 0 0 338.70,335.30" stroke="#8a5a9a" stroke-width="1.2" stroke-opacity="0.85"/>
<path d="M325.00,335.30 A3.00,2.85 0 0 0 331.00,335.30" stroke="#c6aed2" stroke-width="1.2" stroke-opacity="0.85"/>
<path d="M325.00,335.30 A4.30,4.09 0 0 0 333.60,335.30" stroke="#c6aed2" stroke-width="1.2" stroke-opacity="0.85"/>
<path d="M325.00,335.30 A5.60,5.32 0 0 0 336.20,335.30" stroke="#c6aed2" stroke-width="1.2" stroke-opacity="0.85"/>
<path d="M325.00,335.30 A6.85,6.51 0 0 0 338.70,335.30" stroke="#e2d6e8" stroke-width="1.0" stroke-opacity="0.8"/>
<path d="M325.00,335.30 A9.40,8.93 0 0 0 343.80,335.30" stroke="#c6aed2" stroke-width="1.2" stroke-opacity="0.85"/>
<path d="M325.00,335.30 A12.00,11.40 0 0 0 349.00,335.30" stroke="#e2d6e8" stroke-width="1.0" stroke-opacity="0.8"/>
<path d="M331.00,335.30 A1.30,1.24 0 0 0 333.60,335.30" stroke="#e2d6e8" stroke-width="1.0" stroke-opacity="0.8"/>
<path d="M331.00,335.30 A2.60,2.47 0 0 0 336.20,335.30" stroke="#e2d6e8" stroke-width="1.0" stroke-opacity="0.8"/>
<path d="M331.00,335.30 A3.85,3.66 0 0 0 338.70,335.30" stroke="#8a5a9a" stroke-width="1.2" stroke-opacity="0.85"/>
<path d="M331.00,335.30 A5.15,4.89 0 0 0 341.30,335.30" stroke="#c6aed2" stroke-width="1.2" stroke-opacity="0.85"/>
<path d="M331.00,335.30 A6.40,6.08 0 0 0 343.80,335.30" stroke="#8a5a9a" stroke-width="1.2" stroke-opacity="0.85"/>
<path d="M331.00,335.30 A10.00,9.50 0 0 0 351.00,335.30" stroke="#e2d6e8" stroke-width="1.0" stroke-opacity="0.8"/>
<path d="M331.00,335.30 A12.65,12.02 0 0 0 356.30,335.30" stroke="#e2d6e8" stroke-width="1.0" stroke-opacity="0.8"/>
<path d="M333.60,335.30 A1.30,1.23 0 0 0 336.20,335.30" stroke="#e2d6e8" stroke-width="1.0" stroke-opacity="0.8"/>
<path d="M333.60,335.30 A2.55,2.42 0 0 0 338.70,335.30" stroke="#e2d6e8" stroke-width="1.0" stroke-opacity="0.8"/>
<path d="M333.60,335.30 A6.40,6.08 0 0 0 346.40,335.30" stroke="#e2d6e8" stroke-width="1.0" stroke-opacity="0.8"/>
<path d="M333.60,335.30 A7.70,7.31 0 0 0 349.00,335.30" stroke="#e2d6e8" stroke-width="1.0" stroke-opacity="0.8"/>
<path d="M333.60,335.30 A8.70,8.26 0 0 0 351.00,335.30" stroke="#c6aed2" stroke-width="1.2" stroke-opacity="0.85"/>
<path d="M336.20,335.30 A1.25,1.19 0 0 0 338.70,335.30" stroke="#e2d6e8" stroke-width="1.0" stroke-opacity="0.8"/>
<path d="M336.20,335.30 A2.55,2.42 0 0 0 341.30,335.30" stroke="#e2d6e8" stroke-width="1.0" stroke-opacity="0.8"/>
<path d="M336.20,335.30 A3.80,3.61 0 0 0 343.80,335.30" stroke="#e2d6e8" stroke-width="1.0" stroke-opacity="0.8"/>
<path d="M336.20,335.30 A5.10,4.84 0 0 0 346.40,335.30" stroke="#c6aed2" stroke-width="1.2" stroke-opacity="0.85"/>
<path d="M336.20,335.30 A7.40,7.03 0 0 0 351.00,335.30" stroke="#c6aed2" stroke-width="1.2" stroke-opacity="0.85"/>
<path d="M336.20,335.30 A8.35,7.93 0 0 0 352.90,335.30" stroke="#c6aed2" stroke-width="1.2" stroke-opacity="0.85"/>
<path d="M336.20,335.30 A10.05,9.55 0 0 0 356.30,335.30" stroke="#c6aed2" stroke-width="1.2" stroke-opacity="0.85"/>
<path d="M336.20,335.30 A11.80,11.21 0 0 0 359.80,335.30" stroke="#e2d6e8" stroke-width="1.0" stroke-opacity="0.8"/>
<path d="M338.70,335.30 A3.85,3.66 0 0 0 346.40,335.30" stroke="#e2d6e8" stroke-width="1.0" stroke-opacity="0.8"/>
<path d="M338.70,335.30 A5.15,4.89 0 0 0 349.00,335.30" stroke="#c6aed2" stroke-width="1.2" stroke-opacity="0.85"/>
<path d="M338.70,335.30 A6.15,5.84 0 0 0 351.00,335.30" stroke="#8a5a9a" stroke-width="1.2" stroke-opacity="0.85"/>
<path d="M338.70,335.30 A8.80,8.36 0 0 0 356.30,335.30" stroke="#e2d6e8" stroke-width="1.0" stroke-opacity="0.8"/>
<path d="M338.70,335.30 A10.55,10.02 0 0 0 359.80,335.30" stroke="#e2d6e8" stroke-width="1.0" stroke-opacity="0.8"/>
<path d="M341.30,335.30 A1.25,1.19 0 0 0 343.80,335.30" stroke="#e2d6e8" stroke-width="1.0" stroke-opacity="0.8"/>
<path d="M341.30,335.30 A3.85,3.66 0 0 0 349.00,335.30" stroke="#c6aed2" stroke-width="1.2" stroke-opacity="0.85"/>
<path d="M341.30,335.30 A7.50,7.12 0 0 0 356.30,335.30" stroke="#8a5a9a" stroke-width="1.2" stroke-opacity="0.85"/>
<path d="M341.30,335.30 A9.25,8.79 0 0 0 359.80,335.30" stroke="#e2d6e8" stroke-width="1.0" stroke-opacity="0.8"/>
<path d="M341.30,335.30 A12.15,11.54 0 0 0 365.60,335.30" stroke="#e2d6e8" stroke-width="1.0" stroke-opacity="0.8"/>
<path d="M343.80,335.30 A1.30,1.23 0 0 0 346.40,335.30" stroke="#c6aed2" stroke-width="1.2" stroke-opacity="0.85"/>
<path d="M343.80,335.30 A2.60,2.47 0 0 0 349.00,335.30" stroke="#e2d6e8" stroke-width="1.0" stroke-opacity="0.8"/>
<path d="M343.80,335.30 A4.55,4.32 0 0 0 352.90,335.30" stroke="#e2d6e8" stroke-width="1.0" stroke-opacity="0.8"/>
<path d="M343.80,335.30 A6.25,5.94 0 0 0 356.30,335.30" stroke="#e2d6e8" stroke-width="1.0" stroke-opacity="0.8"/>
<path d="M343.80,335.30 A8.00,7.60 0 0 0 359.80,335.30" stroke="#8a5a9a" stroke-width="1.2" stroke-opacity="0.85"/>
<path d="M343.80,335.30 A10.90,10.36 0 0 0 365.60,335.30" stroke="#8a5a9a" stroke-width="1.2" stroke-opacity="0.85"/>
<path d="M343.80,335.30 A11.75,11.16 0 0 0 367.30,335.30" stroke="#e2d6e8" stroke-width="1.0" stroke-opacity="0.8"/>
<path d="M346.40,335.30 A1.30,1.24 0 0 0 349.00,335.30" stroke="#c6aed2" stroke-width="1.2" stroke-opacity="0.85"/>
<path d="M346.40,335.30 A2.30,2.19 0 0 0 351.00,335.30" stroke="#c6aed2" stroke-width="1.2" stroke-opacity="0.85"/>
<path d="M346.40,335.30 A3.25,3.09 0 0 0 352.90,335.30" stroke="#c6aed2" stroke-width="1.2" stroke-opacity="0.85"/>
<path d="M346.40,335.30 A4.95,4.70 0 0 0 356.30,335.30" stroke="#e2d6e8" stroke-width="1.0" stroke-opacity="0.8"/>
<path d="M346.40,335.30 A6.70,6.37 0 0 0 359.80,335.30" stroke="#c6aed2" stroke-width="1.2" stroke-opacity="0.85"/>
<path d="M346.40,335.30 A9.60,9.12 0 0 0 365.60,335.30" stroke="#e2d6e8" stroke-width="1.0" stroke-opacity="0.8"/>
<path d="M346.40,335.30 A10.45,9.93 0 0 0 367.30,335.30" stroke="#8a5a9a" stroke-width="1.2" stroke-opacity="0.85"/>
<path d="M349.00,335.30 A1.95,1.85 0 0 0 352.90,335.30" stroke="#c6aed2" stroke-width="1.2" stroke-opacity="0.85"/>
<path d="M349.00,335.30 A3.65,3.47 0 0 0 356.30,335.30" stroke="#e2d6e8" stroke-width="1.0" stroke-opacity="0.8"/>
<path d="M349.00,335.30 A5.40,5.13 0 0 0 359.80,335.30" stroke="#e2d6e8" stroke-width="1.0" stroke-opacity="0.8"/>
<path d="M349.00,335.30 A12.25,11.64 0 0 0 373.50,335.30" stroke="#8a5a9a" stroke-width="1.2" stroke-opacity="0.85"/>
<path d="M351.00,335.30 A2.65,2.52 0 0 0 356.30,335.30" stroke="#e2d6e8" stroke-width="1.0" stroke-opacity="0.8"/>
<path d="M351.00,335.30 A4.40,4.18 0 0 0 359.80,335.30" stroke="#e2d6e8" stroke-width="1.0" stroke-opacity="0.8"/>
<path d="M351.00,335.30 A7.30,6.94 0 0 0 365.60,335.30" stroke="#e2d6e8" stroke-width="1.0" stroke-opacity="0.8"/>
<path d="M351.00,335.30 A8.15,7.74 0 0 0 367.30,335.30" stroke="#c6aed2" stroke-width="1.2" stroke-opacity="0.85"/>
<path d="M351.00,335.30 A11.25,10.69 0 0 0 373.50,335.30" stroke="#8a5a9a" stroke-width="1.2" stroke-opacity="0.85"/>
<path d="M352.90,335.30 A6.35,6.03 0 0 0 365.60,335.30" stroke="#e2d6e8" stroke-width="1.0" stroke-opacity="0.8"/>
<path d="M352.90,335.30 A7.20,6.84 0 0 0 367.30,335.30" stroke="#8a5a9a" stroke-width="1.2" stroke-opacity="0.85"/>
<path d="M352.90,335.30 A10.30,9.79 0 0 0 373.50,335.30" stroke="#e2d6e8" stroke-width="1.0" stroke-opacity="0.8"/>
<path d="M356.30,335.30 A1.75,1.66 0 0 0 359.80,335.30" stroke="#8a5a9a" stroke-width="1.2" stroke-opacity="0.85"/>
<path d="M356.30,335.30 A5.50,5.22 0 0 0 367.30,335.30" stroke="#e2d6e8" stroke-width="1.0" stroke-opacity="0.8"/>
<path d="M356.30,335.30 A8.60,8.17 0 0 0 373.50,335.30" stroke="#c6aed2" stroke-width="1.2" stroke-opacity="0.85"/>
<path d="M359.80,335.30 A2.90,2.76 0 0 0 365.60,335.30" stroke="#e2d6e8" stroke-width="1.0" stroke-opacity="0.8"/>
<path d="M359.80,335.30 A3.75,3.56 0 0 0 367.30,335.30" stroke="#e2d6e8" stroke-width="1.0" stroke-opacity="0.8"/>
<path d="M359.80,335.30 A6.85,6.51 0 0 0 373.50,335.30" stroke="#8a5a9a" stroke-width="1.2" stroke-opacity="0.85"/>
<path d="M359.80,335.30 A11.95,11.35 0 0 0 383.70,335.30" stroke="#e2d6e8" stroke-width="1.0" stroke-opacity="0.8"/>
<path d="M365.60,335.30 A0.85,0.81 0 0 0 367.30,335.30" stroke="#e2d6e8" stroke-width="1.0" stroke-opacity="0.8"/>
<path d="M365.60,335.30 A10.50,9.97 0 0 0 386.60,335.30" stroke="#e2d6e8" stroke-width="1.0" stroke-opacity="0.8"/>
<path d="M367.30,335.30 A3.10,2.94 0 0 0 373.50,335.30" stroke="#e2d6e8" stroke-width="1.0" stroke-opacity="0.8"/>
<path d="M367.30,335.30 A8.20,7.79 0 0 0 383.70,335.30" stroke="#e2d6e8" stroke-width="1.0" stroke-opacity="0.8"/>
<path d="M367.30,335.30 A9.65,9.17 0 0 0 386.60,335.30" stroke="#e2d6e8" stroke-width="1.0" stroke-opacity="0.8"/>
<path d="M373.50,335.30 A5.10,4.84 0 0 0 383.70,335.30" stroke="#e2d6e8" stroke-width="1.0" stroke-opacity="0.8"/>
<path d="M373.50,335.30 A6.55,6.22 0 0 0 386.60,335.30" stroke="#8a5a9a" stroke-width="1.2" stroke-opacity="0.85"/>
<path d="M383.70,335.30 A1.45,1.38 0 0 0 386.60,335.30" stroke="#8a5a9a" stroke-width="1.2" stroke-opacity="0.85"/>
<path d="M425.60,335.30 A2.45,2.33 0 0 0 430.50,335.30" stroke="#c6aed2" stroke-width="1.2" stroke-opacity="0.85"/>
<path d="M425.60,335.30 A7.25,6.89 0 0 0 440.10,335.30" stroke="#e2d6e8" stroke-width="1.0" stroke-opacity="0.8"/>
<path d="M425.60,335.30 A10.85,10.31 0 0 0 447.30,335.30" stroke="#e2d6e8" stroke-width="1.0" stroke-opacity="0.8"/>
<path d="M430.50,335.30 A8.40,7.98 0 0 0 447.30,335.30" stroke="#e2d6e8" stroke-width="1.0" stroke-opacity="0.8"/>
<path d="M430.50,335.30 A10.70,10.16 0 0 0 451.90,335.30" stroke="#e2d6e8" stroke-width="1.0" stroke-opacity="0.8"/>
<path d="M440.10,335.30 A3.60,3.42 0 0 0 447.30,335.30" stroke="#c6aed2" stroke-width="1.2" stroke-opacity="0.85"/>
<path d="M447.30,335.30 A2.30,2.18 0 0 0 451.90,335.30" stroke="#e2d6e8" stroke-width="1.0" stroke-opacity="0.8"/>
</g>
<line x1="359.80" y1="214.00" x2="359.80" y2="335.30" stroke="#999" stroke-width="0.6" stroke-dasharray="1,1.3"/>
<line x1="365.60" y1="214.00" x2="365.60" y2="335.30" stroke="#999" stroke-width="0.6" stroke-dasharray="1,1.3"/>
<line x1="356.30" y1="268.71" x2="356.30" y2="335.30" stroke="#999" stroke-width="0.6" stroke-dasharray="1,1.3"/>
<line x1="351.00" y1="314.92" x2="351.00" y2="335.30" stroke="#999" stroke-width="0.6" stroke-dasharray="1,1.3"/>
<line x1="352.90" y1="324.38" x2="352.90" y2="335.30" stroke="#999" stroke-width="0.6" stroke-dasharray="1,1.3"/>
<line x1="440.10" y1="314.44" x2="440.10" y2="335.30" stroke="#999" stroke-width="0.6" stroke-dasharray="1,1.3"/>
<line x1="430.50" y1="331.90" x2="430.50" y2="335.30" stroke="#999" stroke-width="0.6" stroke-dasharray="1,1.3"/>
<line x1="257.30" y1="335.30" x2="460.90" y2="335.30" stroke="#444" stroke-width="1.4"/>
<path d="M359.3,216 L357.5,219.5" fill="none" stroke="#666" stroke-width="0.5"/>
<text x="355.60" y="225.80" font-size="6.4" text-anchor="end" fill="#111" stroke="#111" stroke-width="0.15">NTRK1</text>
<line x1="333.30" y1="228.00" x2="355.80" y2="228.00" stroke="#222" stroke-width="1.0"/>
<path d="M365.6,216.2 Q366,220 368.6,221.8" fill="none" stroke="#666" stroke-width="0.5"/>
<text x="370.00" y="225.80" font-size="6.4" fill="#111" stroke="#111" stroke-width="0.15">PEAR1</text>
<path d="M354.6,270.4 L350.5,274.2" fill="none" stroke="#666" stroke-width="0.5"/>
<text x="342.20" y="280.80" font-size="6.4" text-anchor="middle" fill="#111" stroke="#111" stroke-width="0.15">SH2D2A</text>
<path d="M378.6,326 L385.4,333.6" fill="none" stroke="#666" stroke-width="0.5"/>
<text x="369.10" y="327.80" font-size="6.4" text-anchor="middle" fill="#111" stroke="#111" stroke-width="0.15">ETV3</text>
<path d="M444,275 L443.5,309 Q443.2,311.5 441.6,312.6" fill="none" stroke="#666" stroke-width="0.5"/>
<text x="444.20" y="274.00" font-size="6.4" text-anchor="middle" fill="#111" stroke="#111" stroke-width="0.15">FCRL3</text>
<path d="M420,293 Q432,302 440,310 Q445,317 446.8,333" fill="none" stroke="#666" stroke-width="0.5"/>
<text x="419.50" y="291.60" font-size="6.4" text-anchor="middle" fill="#111" stroke="#111" stroke-width="0.15">FCRL2</text>
<path d="M405.7,308.5 Q418,318 429.4,330.2" fill="none" stroke="#666" stroke-width="0.5"/>
<text x="393.90" y="309.80" font-size="6.4" text-anchor="middle" fill="#111" stroke="#111" stroke-width="0.15">FCRL4</text>
<path d="M421.5,326.5 L424.8,333.4" fill="none" stroke="#666" stroke-width="0.5"/>
<text x="410.80" y="327.80" font-size="6.4" text-anchor="middle" fill="#111" stroke="#111" stroke-width="0.15">FCRL5</text>
<path d="M446,328 L451.2,333.4" fill="none" stroke="#666" stroke-width="0.5"/>
<text x="444.10" y="326.90" font-size="6.4" text-anchor="middle" fill="#111" stroke="#111" stroke-width="0.15">FCRL1</text>
<circle cx="359.80" cy="214.00" r="2.1" fill="#e8000b" stroke="#1a1a1a" stroke-width="0.55"/>
<circle cx="365.60" cy="214.00" r="2.1" fill="#7cc3e8" stroke="#1a1a1a" stroke-width="0.55"/>
<circle cx="356.30" cy="268.71" r="2.1" fill="#7cc3e8" stroke="#1a1a1a" stroke-width="0.55"/>
<circle cx="351.00" cy="314.92" r="2.1" fill="#e8000b" stroke="#1a1a1a" stroke-width="0.55"/>
<circle cx="352.90" cy="324.38" r="2.1" fill="#7cc3e8" stroke="#1a1a1a" stroke-width="0.55"/>
<circle cx="386.60" cy="335.30" r="2.1" fill="#7cc3e8" stroke="#1a1a1a" stroke-width="0.55"/>
<circle cx="440.10" cy="314.44" r="2.1" fill="#7cc3e8" stroke="#1a1a1a" stroke-width="0.55"/>
<circle cx="447.30" cy="335.30" r="2.1" fill="#7cc3e8" stroke="#1a1a1a" stroke-width="0.55"/>
<circle cx="430.50" cy="331.90" r="2.1" fill="#7cc3e8" stroke="#1a1a1a" stroke-width="0.55"/>
<circle cx="425.60" cy="335.30" r="2.1" fill="#7cc3e8" stroke="#1a1a1a" stroke-width="0.55"/>
<circle cx="451.90" cy="335.30" r="2.1" fill="#7cc3e8" stroke="#1a1a1a" stroke-width="0.55"/>
<circle cx="266.10" cy="335.30" r="2.1" fill="#7cc3e8" stroke="#1a1a1a" stroke-width="0.55"/>
<circle cx="269.50" cy="335.30" r="2.1" fill="#7cc3e8" stroke="#1a1a1a" stroke-width="0.55"/>
<circle cx="272.90" cy="335.30" r="2.1" fill="#7cc3e8" stroke="#1a1a1a" stroke-width="0.55"/>
<circle cx="276.40" cy="335.30" r="2.1" fill="#7cc3e8" stroke="#1a1a1a" stroke-width="0.55"/>
<circle cx="279.80" cy="335.30" r="2.1" fill="#7cc3e8" stroke="#1a1a1a" stroke-width="0.55"/>
<circle cx="283.20" cy="335.30" r="2.1" fill="#7cc3e8" stroke="#1a1a1a" stroke-width="0.55"/>
<circle cx="286.60" cy="335.30" r="2.1" fill="#7cc3e8" stroke="#1a1a1a" stroke-width="0.55"/>
<circle cx="289.20" cy="335.30" r="2.1" fill="#7cc3e8" stroke="#1a1a1a" stroke-width="0.55"/>
<circle cx="294.30" cy="335.30" r="2.1" fill="#7cc3e8" stroke="#1a1a1a" stroke-width="0.55"/>
<circle cx="297.70" cy="335.30" r="2.1" fill="#7cc3e8" stroke="#1a1a1a" stroke-width="0.55"/>
<circle cx="300.30" cy="335.30" r="2.1" fill="#7cc3e8" stroke="#1a1a1a" stroke-width="0.55"/>
<circle cx="302.80" cy="335.30" r="2.1" fill="#7cc3e8" stroke="#1a1a1a" stroke-width="0.55"/>
<circle cx="306.30" cy="335.30" r="2.1" fill="#7cc3e8" stroke="#1a1a1a" stroke-width="0.55"/>
<circle cx="309.70" cy="335.30" r="2.1" fill="#7cc3e8" stroke="#1a1a1a" stroke-width="0.55"/>
<circle cx="312.20" cy="335.30" r="2.1" fill="#7cc3e8" stroke="#1a1a1a" stroke-width="0.55"/>
<circle cx="314.80" cy="335.30" r="2.1" fill="#7cc3e8" stroke="#1a1a1a" stroke-width="0.55"/>
<circle cx="325.00" cy="335.30" r="2.1" fill="#7cc3e8" stroke="#1a1a1a" stroke-width="0.55"/>
<circle cx="331.00" cy="335.30" r="2.1" fill="#7cc3e8" stroke="#1a1a1a" stroke-width="0.55"/>
<circle cx="333.60" cy="335.30" r="2.1" fill="#7cc3e8" stroke="#1a1a1a" stroke-width="0.55"/>
<circle cx="336.20" cy="335.30" r="2.1" fill="#7cc3e8" stroke="#1a1a1a" stroke-width="0.55"/>
<circle cx="338.70" cy="335.30" r="2.1" fill="#7cc3e8" stroke="#1a1a1a" stroke-width="0.55"/>
<circle cx="341.30" cy="335.30" r="2.1" fill="#7cc3e8" stroke="#1a1a1a" stroke-width="0.55"/>
<circle cx="343.80" cy="335.30" r="2.1" fill="#7cc3e8" stroke="#1a1a1a" stroke-width="0.55"/>
<circle cx="346.40" cy="335.30" r="2.1" fill="#7cc3e8" stroke="#1a1a1a" stroke-width="0.55"/>
<circle cx="349.00" cy="335.30" r="2.1" fill="#7cc3e8" stroke="#1a1a1a" stroke-width="0.55"/>
<circle cx="359.80" cy="335.30" r="2.1" fill="#e8000b" stroke="#1a1a1a" stroke-width="0.55"/>
<circle cx="367.30" cy="335.30" r="2.1" fill="#7cc3e8" stroke="#1a1a1a" stroke-width="0.55"/>
<circle cx="373.50" cy="335.30" r="2.1" fill="#7cc3e8" stroke="#1a1a1a" stroke-width="0.55"/>
<circle cx="383.70" cy="335.30" r="2.1" fill="#7cc3e8" stroke="#1a1a1a" stroke-width="0.55"/>
<rect x="257.30" y="207.70" width="203.60" height="140.90" fill="none" stroke="#444" stroke-width="1"/>
<line x1="254.90" y1="335.30" x2="257.30" y2="335.30" stroke="#333" stroke-width="0.6"/>
<line x1="254.90" y1="304.98" x2="257.30" y2="304.98" stroke="#333" stroke-width="0.6"/>
<line x1="254.90" y1="274.65" x2="257.30" y2="274.65" stroke="#333" stroke-width="0.6"/>
<line x1="254.90" y1="244.32" x2="257.30" y2="244.32" stroke="#333" stroke-width="0.6"/>
<line x1="254.90" y1="214.00" x2="257.30" y2="214.00" stroke="#333" stroke-width="0.6"/>
<line x1="281.90" y1="348.60" x2="281.90" y2="350.90" stroke="#333" stroke-width="0.6"/>
<text x="281.90" y="360.40" font-size="8.2" text-anchor="middle" fill="#4d4d4d">156.0</text>
<line x1="329.40" y1="348.60" x2="329.40" y2="350.90" stroke="#333" stroke-width="0.6"/>
<text x="329.40" y="360.40" font-size="8.2" text-anchor="middle" fill="#4d4d4d">156.5</text>
<line x1="376.90" y1="348.60" x2="376.90" y2="350.90" stroke="#333" stroke-width="0.6"/>
<text x="376.90" y="360.40" font-size="8.2" text-anchor="middle" fill="#4d4d4d">157.0</text>
<line x1="424.40" y1="348.60" x2="424.40" y2="350.90" stroke="#333" stroke-width="0.6"/>
<text x="424.40" y="360.40" font-size="8.2" text-anchor="middle" fill="#4d4d4d">157.5</text>
<text x="358.60" y="371.80" font-size="10.1" text-anchor="middle">chromosome 1 position (Mb)</text>
<rect x="471.50" y="207.70" width="204.40" height="110.90" fill="#f0f0f0" stroke="none" stroke-width="1"/>
<clipPath id="cb3"><rect x="471.5" y="318.6" width="204.39999999999998" height="30.399999999999977"/></clipPath>
<g clip-path="url(#cb3)" fill="none">
<path d="M480.70,318.60 A35.45,33.68 0 0 0 551.60,318.60" stroke="#e2d6e8" stroke-width="1.0" stroke-opacity="0.8"/>
<path d="M480.70,318.60 A43.40,41.23 0 0 0 567.50,318.60" stroke="#e2d6e8" stroke-width="1.0" stroke-opacity="0.8"/>
<path d="M480.70,318.60 A49.60,47.12 0 0 0 579.90,318.60" stroke="#e2d6e8" stroke-width="1.0" stroke-opacity="0.8"/>
<path d="M480.70,318.60 A59.85,56.86 0 0 0 600.40,318.60" stroke="#e2d6e8" stroke-width="1.0" stroke-opacity="0.8"/>
<path d="M480.70,318.60 A62.15,59.04 0 0 0 605.00,318.60" stroke="#e2d6e8" stroke-width="1.0" stroke-opacity="0.8"/>
<path d="M480.70,318.60 A75.00,71.25 0 0 0 630.70,318.60" stroke="#e2d6e8" stroke-width="1.0" stroke-opacity="0.8"/>
<path d="M480.70,318.60 A84.10,79.89 0 0 0 648.90,318.60" stroke="#e2d6e8" stroke-width="1.0" stroke-opacity="0.8"/>
<path d="M480.70,318.60 A85.65,81.37 0 0 0 652.00,318.60" stroke="#e2d6e8" stroke-width="1.0" stroke-opacity="0.8"/>
<path d="M480.70,318.60 A89.50,85.03 0 0 0 659.70,318.60" stroke="#e2d6e8" stroke-width="1.0" stroke-opacity="0.8"/>
<path d="M480.70,318.60 A90.80,86.26 0 0 0 662.30,318.60" stroke="#e2d6e8" stroke-width="1.0" stroke-opacity="0.8"/>
<path d="M480.70,318.60 A93.10,88.44 0 0 0 666.90,318.60" stroke="#e2d6e8" stroke-width="1.0" stroke-opacity="0.8"/>
<path d="M551.60,318.60 A7.95,7.55 0 0 0 567.50,318.60" stroke="#e2d6e8" stroke-width="1.0" stroke-opacity="0.8"/>
<path d="M551.60,318.60 A11.05,10.50 0 0 0 573.70,318.60" stroke="#e2d6e8" stroke-width="1.0" stroke-opacity="0.8"/>
<path d="M551.60,318.60 A14.15,13.44 0 0 0 579.90,318.60" stroke="#c6aed2" stroke-width="1.2" stroke-opacity="0.85"/>
<path d="M551.60,318.60 A24.40,23.18 0 0 0 600.40,318.60" stroke="#c6aed2" stroke-width="1.2" stroke-opacity="0.85"/>
<path d="M551.60,318.60 A26.70,25.36 0 0 0 605.00,318.60" stroke="#e2d6e8" stroke-width="1.0" stroke-opacity="0.8"/>
<path d="M551.60,318.60 A39.55,37.57 0 0 0 630.70,318.60" stroke="#e2d6e8" stroke-width="1.0" stroke-opacity="0.8"/>
<path d="M551.60,318.60 A50.20,47.69 0 0 0 652.00,318.60" stroke="#e2d6e8" stroke-width="1.0" stroke-opacity="0.8"/>
<path d="M551.60,318.60 A54.05,51.35 0 0 0 659.70,318.60" stroke="#e2d6e8" stroke-width="1.0" stroke-opacity="0.8"/>
<path d="M551.60,318.60 A55.35,52.58 0 0 0 662.30,318.60" stroke="#e2d6e8" stroke-width="1.0" stroke-opacity="0.8"/>
<path d="M551.60,318.60 A57.65,54.77 0 0 0 666.90,318.60" stroke="#e2d6e8" stroke-width="1.0" stroke-opacity="0.8"/>
<path d="M567.50,318.60 A3.10,2.95 0 0 0 573.70,318.60" stroke="#8a5a9a" stroke-width="1.2" stroke-opacity="0.85"/>
<path d="M567.50,318.60 A6.20,5.89 0 0 0 579.90,318.60" stroke="#8a5a9a" stroke-width="1.2" stroke-opacity="0.85"/>
<path d="M567.50,318.60 A16.45,15.63 0 0 0 600.40,318.60" stroke="#e2d6e8" stroke-width="1.0" stroke-opacity="0.8"/>
<path d="M567.50,318.60 A18.75,17.81 0 0 0 605.00,318.60" stroke="#e2d6e8" stroke-width="1.0" stroke-opacity="0.8"/>
<path d="M567.50,318.60 A31.60,30.02 0 0 0 630.70,318.60" stroke="#e2d6e8" stroke-width="1.0" stroke-opacity="0.8"/>
<path d="M567.50,318.60 A40.70,38.66 0 0 0 648.90,318.60" stroke="#e2d6e8" stroke-width="1.0" stroke-opacity="0.8"/>
<path d="M567.50,318.60 A42.25,40.14 0 0 0 652.00,318.60" stroke="#e2d6e8" stroke-width="1.0" stroke-opacity="0.8"/>
<path d="M567.50,318.60 A46.10,43.80 0 0 0 659.70,318.60" stroke="#e2d6e8" stroke-width="1.0" stroke-opacity="0.8"/>
<path d="M567.50,318.60 A47.40,45.03 0 0 0 662.30,318.60" stroke="#e2d6e8" stroke-width="1.0" stroke-opacity="0.8"/>
<path d="M573.70,318.60 A3.10,2.94 0 0 0 579.90,318.60" stroke="#8a5a9a" stroke-width="1.2" stroke-opacity="0.85"/>
<path d="M573.70,318.60 A13.35,12.68 0 0 0 600.40,318.60" stroke="#e2d6e8" stroke-width="1.0" stroke-opacity="0.8"/>
<path d="M573.70,318.60 A15.65,14.87 0 0 0 605.00,318.60" stroke="#e2d6e8" stroke-width="1.0" stroke-opacity="0.8"/>
<path d="M573.70,318.60 A28.50,27.07 0 0 0 630.70,318.60" stroke="#c6aed2" stroke-width="1.2" stroke-opacity="0.85"/>
<path d="M573.70,318.60 A37.60,35.72 0 0 0 648.90,318.60" stroke="#c6aed2" stroke-width="1.2" stroke-opacity="0.85"/>
<path d="M573.70,318.60 A39.15,37.19 0 0 0 652.00,318.60" stroke="#e2d6e8" stroke-width="1.0" stroke-opacity="0.8"/>
<path d="M573.70,318.60 A43.00,40.85 0 0 0 659.70,318.60" stroke="#e2d6e8" stroke-width="1.0" stroke-opacity="0.8"/>
<path d="M573.70,318.60 A44.30,42.08 0 0 0 662.30,318.60" stroke="#e2d6e8" stroke-width="1.0" stroke-opacity="0.8"/>
<path d="M573.70,318.60 A46.60,44.27 0 0 0 666.90,318.60" stroke="#e2d6e8" stroke-width="1.0" stroke-opacity="0.8"/>
<path d="M579.90,318.60 A10.25,9.74 0 0 0 600.40,318.60" stroke="#c6aed2" stroke-width="1.2" stroke-opacity="0.85"/>
<path d="M579.90,318.60 A12.55,11.92 0 0 0 605.00,318.60" stroke="#e2d6e8" stroke-width="1.0" stroke-opacity="0.8"/>
<path d="M579.90,318.60 A25.40,24.13 0 0 0 630.70,318.60" stroke="#e2d6e8" stroke-width="1.0" stroke-opacity="0.8"/>
<path d="M579.90,318.60 A34.50,32.77 0 0 0 648.90,318.60" stroke="#c6aed2" stroke-width="1.2" stroke-opacity="0.85"/>
<path d="M579.90,318.60 A36.05,34.25 0 0 0 652.00,318.60" stroke="#c6aed2" stroke-width="1.2" stroke-opacity="0.85"/>
<path d="M579.90,318.60 A39.90,37.91 0 0 0 659.70,318.60" stroke="#e2d6e8" stroke-width="1.0" stroke-opacity="0.8"/>
<path d="M579.90,318.60 A41.20,39.14 0 0 0 662.30,318.60" stroke="#e2d6e8" stroke-width="1.0" stroke-opacity="0.8"/>
<path d="M600.40,318.60 A2.30,2.19 0 0 0 605.00,318.60" stroke="#e2d6e8" stroke-width="1.0" stroke-opacity="0.8"/>
<path d="M600.40,318.60 A15.15,14.39 0 0 0 630.70,318.60" stroke="#c6aed2" stroke-width="1.2" stroke-opacity="0.85"/>
<path d="M600.40,318.60 A24.25,23.04 0 0 0 648.90,318.60" stroke="#e2d6e8" stroke-width="1.0" stroke-opacity="0.8"/>
<path d="M600.40,318.60 A25.80,24.51 0 0 0 652.00,318.60" stroke="#e2d6e8" stroke-width="1.0" stroke-opacity="0.8"/>
<path d="M600.40,318.60 A30.95,29.40 0 0 0 662.30,318.60" stroke="#e2d6e8" stroke-width="1.0" stroke-opacity="0.8"/>
<path d="M600.40,318.60 A33.25,31.59 0 0 0 666.90,318.60" stroke="#c6aed2" stroke-width="1.2" stroke-opacity="0.85"/>
<path d="M605.00,318.60 A12.85,12.21 0 0 0 630.70,318.60" stroke="#e2d6e8" stroke-width="1.0" stroke-opacity="0.8"/>
<path d="M605.00,318.60 A21.95,20.85 0 0 0 648.90,318.60" stroke="#e2d6e8" stroke-width="1.0" stroke-opacity="0.8"/>
<path d="M605.00,318.60 A23.50,22.32 0 0 0 652.00,318.60" stroke="#e2d6e8" stroke-width="1.0" stroke-opacity="0.8"/>
<path d="M605.00,318.60 A28.65,27.22 0 0 0 662.30,318.60" stroke="#c6aed2" stroke-width="1.2" stroke-opacity="0.85"/>
<path d="M605.00,318.60 A30.95,29.40 0 0 0 666.90,318.60" stroke="#e2d6e8" stroke-width="1.0" stroke-opacity="0.8"/>
<path d="M630.70,318.60 A9.10,8.64 0 0 0 648.90,318.60" stroke="#e2d6e8" stroke-width="1.0" stroke-opacity="0.8"/>
<path d="M630.70,318.60 A10.65,10.12 0 0 0 652.00,318.60" stroke="#e2d6e8" stroke-width="1.0" stroke-opacity="0.8"/>
<path d="M630.70,318.60 A14.50,13.77 0 0 0 659.70,318.60" stroke="#e2d6e8" stroke-width="1.0" stroke-opacity="0.8"/>
<path d="M630.70,318.60 A15.80,15.01 0 0 0 662.30,318.60" stroke="#c6aed2" stroke-width="1.2" stroke-opacity="0.85"/>
<path d="M648.90,318.60 A1.55,1.47 0 0 0 652.00,318.60" stroke="#6a3a80" stroke-width="1.2" stroke-opacity="0.85"/>
<path d="M648.90,318.60 A5.40,5.13 0 0 0 659.70,318.60" stroke="#8a5a9a" stroke-width="1.2" stroke-opacity="0.85"/>
<path d="M648.90,318.60 A6.70,6.36 0 0 0 662.30,318.60" stroke="#8a5a9a" stroke-width="1.2" stroke-opacity="0.85"/>
<path d="M648.90,318.60 A9.00,8.55 0 0 0 666.90,318.60" stroke="#8a5a9a" stroke-width="1.2" stroke-opacity="0.85"/>
<path d="M652.00,318.60 A3.85,3.66 0 0 0 659.70,318.60" stroke="#6a3a80" stroke-width="1.2" stroke-opacity="0.85"/>
<path d="M652.00,318.60 A5.15,4.89 0 0 0 662.30,318.60" stroke="#8a5a9a" stroke-width="1.2" stroke-opacity="0.85"/>
<path d="M652.00,318.60 A7.45,7.08 0 0 0 666.90,318.60" stroke="#8a5a9a" stroke-width="1.2" stroke-opacity="0.85"/>
<path d="M659.70,318.60 A1.30,1.23 0 0 0 662.30,318.60" stroke="#6a3a80" stroke-width="1.2" stroke-opacity="0.85"/>
<path d="M659.70,318.60 A3.60,3.42 0 0 0 666.90,318.60" stroke="#6a3a80" stroke-width="1.2" stroke-opacity="0.85"/>
<path d="M662.30,318.60 A2.30,2.19 0 0 0 666.90,318.60" stroke="#6a3a80" stroke-width="1.2" stroke-opacity="0.85"/>
</g>
<line x1="567.50" y1="313.55" x2="567.50" y2="318.60" stroke="#999" stroke-width="0.6" stroke-dasharray="1,1.3"/>
<line x1="573.70" y1="292.49" x2="573.70" y2="318.60" stroke="#999" stroke-width="0.6" stroke-dasharray="1,1.3"/>
<line x1="579.90" y1="257.42" x2="579.90" y2="318.60" stroke="#999" stroke-width="0.6" stroke-dasharray="1,1.3"/>
<line x1="471.50" y1="318.60" x2="675.90" y2="318.60" stroke="#444" stroke-width="1.4"/>
<path d="M482.2,315.5 Q484,311.5 487,310" fill="none" stroke="#666" stroke-width="0.5"/>
<text x="494.70" y="310.20" font-size="6.4" text-anchor="middle" fill="#111" stroke="#111" stroke-width="0.15">LY86</text>
<path d="M544.4,311 L549.9,316.7" fill="none" stroke="#666" stroke-width="0.5"/>
<text x="532.00" y="312.40" font-size="6.4" text-anchor="middle" fill="#111" stroke="#111" stroke-width="0.15">RREB1</text>
<path d="M558.1,296.5 Q566,302 567.2,311.4" fill="none" stroke="#666" stroke-width="0.5"/>
<text x="557.50" y="294.80" font-size="6.4" text-anchor="middle" fill="#111" stroke="#111" stroke-width="0.15">SSR1</text>
<path d="M560.3,278.3 L572.8,290.8" fill="none" stroke="#666" stroke-width="0.5"/>
<text x="557.70" y="276.90" font-size="6.4" text-anchor="middle" fill="#111" stroke="#111" stroke-width="0.15">CAGE1</text>
<path d="M575.5,248.5 Q579,249.5 579.6,255" fill="none" stroke="#666" stroke-width="0.5"/>
<text x="566.00" y="249.70" font-size="6.4" text-anchor="middle" fill="#111" stroke="#111" stroke-width="0.15">RIOK1</text>
<line x1="555.90" y1="251.90" x2="575.20" y2="251.90" stroke="#222" stroke-width="1.0"/>
<path d="M594.3,309.8 L598.8,315.6" fill="none" stroke="#666" stroke-width="0.5"/>
<text x="586.40" y="310.70" font-size="6.4" text-anchor="middle" fill="#111" stroke="#111" stroke-width="0.15">DSP</text>
<path d="M596.5,293.6 Q604.8,300 605,315.2" fill="none" stroke="#666" stroke-width="0.5"/>
<text x="597.00" y="292.20" font-size="6.4" text-anchor="middle" fill="#111" stroke="#111" stroke-width="0.15">SNRNP48</text>
<path d="M624.6,311 L629.6,316.3" fill="none" stroke="#666" stroke-width="0.5"/>
<text x="621.30" y="310.20" font-size="6.4" text-anchor="middle" fill="#111" stroke="#111" stroke-width="0.15">BMP6</text>
<path d="M657.5,311 L661.3,316.4" fill="none" stroke="#666" stroke-width="0.5"/>
<text x="653.00" y="310.20" font-size="6.4" text-anchor="middle" fill="#111" stroke="#111" stroke-width="0.15">BLOC1S5</text>
<path d="M657.5,294 Q666.5,303 666.9,316.2" fill="none" stroke="#666" stroke-width="0.5"/>
<text x="657.20" y="292.20" font-size="6.4" text-anchor="middle" fill="#111" stroke="#111" stroke-width="0.15">EEF1E1</text>
<circle cx="480.70" cy="317.55" r="2.1" fill="#7cc3e8" stroke="#1a1a1a" stroke-width="0.55"/>
<circle cx="551.60" cy="318.60" r="2.1" fill="#7cc3e8" stroke="#1a1a1a" stroke-width="0.55"/>
<circle cx="567.50" cy="313.55" r="2.1" fill="#7cc3e8" stroke="#1a1a1a" stroke-width="0.55"/>
<circle cx="573.70" cy="292.49" r="2.1" fill="#7cc3e8" stroke="#1a1a1a" stroke-width="0.55"/>
<circle cx="579.90" cy="257.42" r="2.1" fill="#e8000b" stroke="#1a1a1a" stroke-width="0.55"/>
<circle cx="600.40" cy="317.97" r="2.1" fill="#e8000b" stroke="#1a1a1a" stroke-width="0.55"/>
<circle cx="605.00" cy="317.55" r="2.1" fill="#7cc3e8" stroke="#1a1a1a" stroke-width="0.55"/>
<circle cx="630.70" cy="318.60" r="2.1" fill="#7cc3e8" stroke="#1a1a1a" stroke-width="0.55"/>
<circle cx="662.30" cy="318.60" r="2.1" fill="#7cc3e8" stroke="#1a1a1a" stroke-width="0.55"/>
<circle cx="666.90" cy="318.60" r="2.1" fill="#7cc3e8" stroke="#1a1a1a" stroke-width="0.55"/>
<circle cx="648.90" cy="318.60" r="2.1" fill="#7cc3e8" stroke="#1a1a1a" stroke-width="0.55"/>
<circle cx="652.00" cy="318.60" r="2.1" fill="#7cc3e8" stroke="#1a1a1a" stroke-width="0.55"/>
<circle cx="659.70" cy="318.60" r="2.1" fill="#7cc3e8" stroke="#1a1a1a" stroke-width="0.55"/>
<rect x="471.50" y="207.70" width="204.40" height="141.30" fill="none" stroke="#444" stroke-width="1"/>
<line x1="469.10" y1="318.60" x2="471.50" y2="318.60" stroke="#333" stroke-width="0.6"/>
<line x1="469.10" y1="292.28" x2="471.50" y2="292.28" stroke="#333" stroke-width="0.6"/>
<line x1="469.10" y1="265.95" x2="471.50" y2="265.95" stroke="#333" stroke-width="0.6"/>
<line x1="469.10" y1="239.62" x2="471.50" y2="239.62" stroke="#333" stroke-width="0.6"/>
<line x1="469.10" y1="213.30" x2="471.50" y2="213.30" stroke="#333" stroke-width="0.6"/>
<line x1="528.30" y1="349.00" x2="528.30" y2="351.30" stroke="#333" stroke-width="0.6"/>
<text x="528.30" y="360.40" font-size="8.2" text-anchor="middle" fill="#4d4d4d">7.0</text>
<line x1="591.70" y1="349.00" x2="591.70" y2="351.30" stroke="#333" stroke-width="0.6"/>
<text x="591.70" y="360.40" font-size="8.2" text-anchor="middle" fill="#4d4d4d">7.5</text>
<line x1="655.10" y1="349.00" x2="655.10" y2="351.30" stroke="#333" stroke-width="0.6"/>
<text x="655.10" y="360.40" font-size="8.2" text-anchor="middle" fill="#4d4d4d">8.0</text>
<text x="573.70" y="371.80" font-size="10.1" text-anchor="middle">chromosome 6 position (Mb)</text>
<text x="37.00" y="404.00" font-size="11" font-weight="bold">c</text>
<text x="95.60" y="424.60" font-size="9.1" text-anchor="middle">RIPK2, Cerebellum tissue</text>
<defs><marker id="mn" markerWidth="1" markerHeight="1" refX="0" refY="0" markerUnits="userSpaceOnUse" overflow="visible" orient="0"><circle cx="0" cy="0" r="1.75" fill="#0000a0" stroke="#000" stroke-width="0.4" fill-opacity="0.85"/></marker></defs>
<path d="M114.6,502.6 50.4,502.4 73.9,500.4 136.9,503.0 91.2,494.5 96.4,484.5 113.3,495.0 120.6,502.1 86.5,490.8 68.7,502.4 90.3,490.7 93.5,498.0 87.8,492.5 97.9,498.6 60.0,499.6 155.7,501.0 132.6,489.0 130.0,501.4 155.7,498.4 148.1,502.0 116.9,501.4 112.8,501.6 131.2,500.2 147.3,496.8 52.8,501.5 70.2,491.7 65.1,500.7 135.3,497.3 102.5,498.4 93.5,501.9 152.8,496.0 123.4,497.1 137.0,500.2 82.6,500.2 53.9,490.1 69.3,501.7 90.4,494.4 154.8,501.3 80.1,501.7 67.6,500.1 130.0,502.6 153.6,501.0 93.1,496.5 105.1,501.2 106.0,500.5 52.6,502.5 135.1,498.3 75.5,501.3 78.3,496.4 57.6,501.4 58.7,502.4 88.4,502.9 75.8,501.8 155.1,501.1 51.6,500.6 94.6,488.9 140.5,497.3 115.3,489.1 151.9,500.7 79.4,500.1 72.4,498.2 90.8,489.2 63.7,502.1 82.5,499.4 89.2,492.8 97.2,489.4 131.1,498.1 115.2,501.1 148.1,501.1 133.4,486.9 74.2,501.5 69.7,501.8 129.0,502.5 157.7,500.1 90.2,495.8 72.8,494.4 111.5,501.6 110.6,500.3 54.6,485.5 97.1,502.6 92.4,492.6 102.2,499.5 50.9,495.7 63.9,501.9 49.9,502.0 101.7,489.9 118.3,501.2 133.5,479.1 63.6,494.8 101.3,499.2 146.6,499.6 101.1,502.0 90.5,488.4 142.6,497.6 136.8,493.6 134.6,501.6 133.3,499.5 88.2,502.5 144.8,497.9 89.6,501.0 112.2,487.4 92.1,485.6 84.1,502.5 146.4,499.5 62.2,501.3 92.1,492.3 89.0,493.1 138.4,493.7 108.5,502.0 103.5,502.1 58.9,501.3 130.3,501.3 158.0,502.2 108.9,499.9 156.9,501.8 108.7,487.0 151.5,501.3 99.7,499.2 157.1,501.1 138.5,498.6 61.8,502.7 128.4,495.7 121.7,501.8 79.1,495.8 108.2,500.9 132.8,480.6 76.4,492.0 50.4,500.2 156.0,502.1 56.8,502.0 57.4,502.4 72.0,499.0 143.4,490.8 55.2,499.0 126.4,495.1 126.6,498.9 118.6,496.2 121.7,498.8 140.2,489.8 65.8,501.6 130.5,502.6 142.4,502.6 125.8,487.0 157.8,500.8 120.0,502.8 85.4,501.6 155.4,500.4 91.0,495.4 80.9,500.7 118.4,500.4 90.0,492.2 90.2,497.4 88.5,491.1 101.0,491.0 135.9,481.8 99.3,500.3 100.2,499.3 55.4,500.1 122.9,502.9 74.5,488.1 88.1,496.6 88.3,500.8 143.1,498.1 121.5,502.8 64.3,501.9 111.1,499.7 150.2,502.2 143.0,502.8 126.0,497.9 106.3,498.0 80.7,488.3 63.9,501.0 80.8,499.3 127.2,502.0 130.6,499.6 50.9,502.4 97.2,485.9 96.8,499.1 66.9,493.6 107.2,502.0 116.2,494.0 107.4,499.4 157.1,496.9 144.1,499.0 48.9,499.0 120.5,496.4 107.4,501.3 54.4,501.4 153.2,502.3 137.0,500.1 110.9,499.5 97.4,484.3 56.8,500.1 49.5,499.3 154.1,497.6 92.2,496.6 91.5,490.9 153.1,501.7 53.5,501.4 70.7,499.6 102.1,498.3 97.2,500.8 53.3,502.2 84.7,501.1 88.1,497.8 70.7,500.7 53.0,499.9 146.1,499.7 128.2,491.4 53.3,488.2 73.2,487.4 68.4,501.6 74.8,502.3 96.3,488.7 61.6,502.4 54.2,501.9 60.8,499.1 86.7,497.3 137.1,502.2 114.0,498.8 155.1,503.0 107.5,502.5 150.8,498.8 55.9,502.5 74.9,499.3 91.0,497.5 129.9,494.9 155.0,501.7 115.0,501.7 121.7,500.3 54.4,503.0 144.8,497.7 143.9,503.0 141.2,497.3 116.6,490.8 74.7,502.9 131.0,501.5 55.4,502.0 60.6,499.5 56.2,497.4 110.1,500.0 91.3,492.0 49.1,500.5 87.4,500.7 150.3,497.2 145.0,499.2 98.6,491.7 155.0,502.3 121.9,486.5 77.6,498.3 68.4,487.9 132.7,502.1 134.4,477.4 67.5,498.7 70.9,502.8 54.5,502.4 134.1,493.0 89.5,500.9 155.3,501.3 146.3,492.1 75.7,501.0 147.1,498.5 132.7,501.0 140.3,500.5 60.1,498.5 73.4,500.9 153.1,502.2 152.9,497.6 110.0,499.1 54.8,501.8 144.4,502.0 97.7,502.2 145.0,497.9 86.9,501.4 71.3,500.0 94.6,501.6 104.3,502.8 118.4,485.0 56.0,499.5 76.8,500.0 83.3,500.8 83.5,502.1 118.7,494.6 116.5,501.0 144.7,496.5 140.2,489.7 61.9,501.9 131.6,501.6 152.4,495.4 147.2,490.0 144.0,495.8 65.6,499.3 156.5,500.7 69.7,500.4 144.0,499.0 64.0,498.5 149.7,502.7 86.5,494.1 101.5,487.0 111.9,502.7 105.5,498.1 96.6,493.4 115.4,496.6 84.6,496.7 132.1,501.1 81.0,484.5 75.4,487.9 146.7,500.0 135.0,479.4 101.8,490.1 142.8,500.1 71.6,499.7 145.1,501.4 153.8,500.6 59.8,501.5 138.1,484.4 99.2,484.9 89.1,496.7 120.5,502.4 84.3,497.0 64.9,499.3 110.2,500.4 67.5,493.5 146.0,501.7 75.5,492.9 94.7,495.7 87.5,501.3 82.6,486.9 75.4,491.7 147.5,501.6 93.2,494.3 67.7,493.1 112.4,501.0 123.4,499.4 106.8,500.1 133.1,483.2 117.7,500.9 135.2,484.1 71.2,497.5 75.4,496.0 135.9,493.9 153.9,498.4 103.3,499.3 60.4,502.2 96.5,493.6 105.0,501.7 131.0,499.7 69.3,502.2 107.4,499.2 62.8,500.3 132.1,487.6 98.1,495.7 140.4,501.7 142.3,502.7 76.7,501.7 103.7,492.2 115.6,500.5 137.5,499.3 63.1,498.7 140.5,502.1 150.4,502.9 113.4,496.2 151.0,497.7 123.8,503.0 101.7,491.2 67.5,501.1 134.9,499.1 65.2,496.8 87.0,496.5 66.9,499.5 135.3,496.5 61.7,498.0 65.4,497.2 75.4,502.2 155.5,500.4 76.4,502.7 87.6,491.9 66.5,501.2 111.1,502.9 149.9,499.8 97.0,496.8 136.4,500.4 99.0,490.8 78.3,500.6 156.0,499.7 88.1,502.5 82.4,485.4 126.2,500.2 66.2,500.3 111.9,499.1 73.2,499.8 98.2,496.1 129.4,502.4 49.0,486.3 81.6,483.0 101.7,499.1 92.8,495.3 53.1,502.1 132.2,496.1 74.5,492.1 65.9,502.1 78.9,502.6 95.8,492.5 63.2,503.0 50.7,502.7 72.2,498.4 53.9,498.0 69.8,496.3 150.6,501.3 88.0,500.4 137.7,487.5 131.6,499.0 56.3,502.4 65.6,500.8 156.0,501.3 97.6,491.8 68.1,494.5 67.7,500.5 141.7,501.3 73.9,502.2 76.2,490.6 138.3,501.0 55.5,502.1 69.1,501.3 112.3,500.6 122.0,499.2 51.9,498.8 72.8,502.7 72.3,500.5 108.0,500.3 101.0,485.8 54.4,494.4 88.7,490.9 121.4,501.1 53.3,498.3 61.7,502.4 140.5,502.6 54.1,489.0 142.6,501.2 138.3,501.0 121.1,495.0 58.4,502.9 118.5,489.7 144.0,503.0 87.7,493.7 113.0,498.2 150.4,502.5 129.5,496.2 151.2,501.3 128.7,499.6 81.3,500.3 143.4,501.0 100.5,495.7 86.4,502.3 55.3,497.7 112.3,501.4 78.3,497.6 62.6,502.4 141.9,495.7 148.2,500.5 123.1,499.2 146.2,499.0 129.1,499.9 105.4,500.2 65.6,502.2 91.5,500.4 70.3,492.9 151.6,490.0 78.1,497.5 116.7,485.3 124.7,497.6 91.2,489.7 95.3,476.7 62.3,500.6 94.7,501.6 103.8,501.2 131.7,502.9 55.6,497.8 147.8,496.2 135.1,499.3 154.5,500.9 55.4,501.1 103.3,487.2 91.6,493.2 78.9,497.9 49.1,490.2 95.9,495.4 78.1,500.3 64.6,502.4 120.2,490.4 97.1,474.4 50.5,502.3 149.2,502.5 63.5,500.5 121.4,500.7 80.4,488.3 151.4,502.6 83.2,501.3 112.2,499.9 56.3,499.7 138.9,500.0 92.5,496.5 128.3,498.1 124.1,501.1 88.1,495.2 105.8,502.9 62.2,500.3 78.1,483.4 53.7,496.1 105.1,501.6 83.5,496.1 82.9,491.2 90.2,494.9 53.2,502.1 53.6,502.6 52.0,500.8 52.0,500.8 105.8,502.5 147.2,502.2 103.3,502.3 133.5,480.9 117.8,501.7 62.9,501.2 148.6,502.4 72.5,499.1 54.4,498.9 49.7,502.2 50.5,494.9 150.3,498.3 146.9,497.2 104.8,501.6 127.6,502.2 144.9,500.1 69.9,492.5 135.9,501.4 156.7,500.0 157.6,500.6 73.6,502.0 117.7,502.6 139.7,500.2 67.9,495.7 66.6,502.6 110.7,500.3 54.1,501.4 55.4,500.0 90.9,495.1 58.9,501.4 132.1,491.7 82.7,491.8 104.6,500.4 84.0,489.0 108.6,499.6 79.5,487.1 73.1,502.5 52.3,502.9 82.3,502.1 89.5,500.6 52.7,502.7 101.5,493.8" fill="none" stroke="none" marker-start="url(#mn)" marker-mid="url(#mn)" marker-end="url(#mn)"/>
<circle cx="96.06" cy="466.52" r="1.95" fill="#87ceeb" stroke="#000" stroke-width="0.35"/>
<circle cx="101.36" cy="470.20" r="1.95" fill="#87ceeb" stroke="#000" stroke-width="0.35"/>
<circle cx="102.37" cy="460.63" r="1.95" fill="#87ceeb" stroke="#000" stroke-width="0.35"/>
<circle cx="101.57" cy="460.30" r="1.95" fill="#87ceeb" stroke="#000" stroke-width="0.35"/>
<circle cx="103.86" cy="477.54" r="1.95" fill="#87ceeb" stroke="#000" stroke-width="0.35"/>
<circle cx="96.36" cy="472.14" r="1.95" fill="#87ceeb" stroke="#000" stroke-width="0.35"/>
<circle cx="101.06" cy="458.86" r="1.95" fill="#87ceeb" stroke="#000" stroke-width="0.35"/>
<circle cx="102.99" cy="468.51" r="1.95" fill="#87ceeb" stroke="#000" stroke-width="0.35"/>
<circle cx="97.52" cy="463.55" r="1.95" fill="#87ceeb" stroke="#000" stroke-width="0.35"/>
<circle cx="102.68" cy="475.51" r="1.95" fill="#87ceeb" stroke="#000" stroke-width="0.35"/>
<circle cx="103.99" cy="453.29" r="1.95" fill="#87ceeb" stroke="#000" stroke-width="0.35"/>
<circle cx="99.32" cy="447.99" r="1.95" fill="#87ceeb" stroke="#000" stroke-width="0.35"/>
<circle cx="100.52" cy="454.08" r="1.95" fill="#87ceeb" stroke="#000" stroke-width="0.35"/>
<circle cx="99.91" cy="470.77" r="1.95" fill="#87ceeb" stroke="#000" stroke-width="0.35"/>
<circle cx="96.20" cy="433.21" r="1.95" fill="#006400" stroke="#000" stroke-width="0.35"/>
<circle cx="99.20" cy="434.38" r="1.95" fill="#006400" stroke="#000" stroke-width="0.35"/>
<circle cx="100.80" cy="436.14" r="1.95" fill="#006400" stroke="#000" stroke-width="0.35"/>
<circle cx="102.60" cy="438.49" r="1.95" fill="#ffa500" stroke="#000" stroke-width="0.35"/>
<circle cx="103.20" cy="440.83" r="1.95" fill="#ffa500" stroke="#000" stroke-width="0.35"/>
<circle cx="104.30" cy="456.67" r="1.95" fill="#006400" stroke="#000" stroke-width="0.35"/>
<circle cx="101.20" cy="460.77" r="1.95" fill="#006400" stroke="#000" stroke-width="0.35"/>
<circle cx="103.50" cy="465.46" r="1.95" fill="#006400" stroke="#000" stroke-width="0.35"/>
<circle cx="106.40" cy="459.01" r="1.95" fill="#ff0000" stroke="#000" stroke-width="0.35"/>
<circle cx="106.00" cy="467.81" r="1.95" fill="#ffa500" stroke="#000" stroke-width="0.35"/>
<circle cx="105.40" cy="471.33" r="1.95" fill="#ffa500" stroke="#000" stroke-width="0.35"/>
<circle cx="104.60" cy="475.43" r="1.95" fill="#ffa500" stroke="#000" stroke-width="0.35"/>
<circle cx="103.50" cy="473.68" r="1.95" fill="#ffa500" stroke="#000" stroke-width="0.35"/>
<circle cx="100.00" cy="478.37" r="1.95" fill="#87ceeb" stroke="#000" stroke-width="0.35"/>
<circle cx="103.00" cy="477.78" r="1.95" fill="#87ceeb" stroke="#000" stroke-width="0.35"/>
<path d="M106.00,460.47 L109.00,463.47 L106.00,466.47 L103.00,463.47Z" fill="#a020f0" stroke="#000" stroke-width="0.35"/>
<line x1="43.30" y1="430.80" x2="43.30" y2="505.70" stroke="#000" stroke-width="0.9"/>
<line x1="43.30" y1="505.70" x2="160.50" y2="505.70" stroke="#000" stroke-width="0.9"/>
<line x1="41.30" y1="503.00" x2="43.30" y2="503.00" stroke="#333" stroke-width="0.6"/>
<text x="40.10" y="505.40" font-size="6.8" text-anchor="end" fill="#4d4d4d">0</text>
<line x1="41.30" y1="479.54" x2="43.30" y2="479.54" stroke="#333" stroke-width="0.6"/>
<text x="40.10" y="481.94" font-size="6.8" text-anchor="end" fill="#4d4d4d">2</text>
<line x1="41.30" y1="456.08" x2="43.30" y2="456.08" stroke="#333" stroke-width="0.6"/>
<text x="40.10" y="458.48" font-size="6.8" text-anchor="end" fill="#4d4d4d">4</text>
<line x1="41.30" y1="432.62" x2="43.30" y2="432.62" stroke="#333" stroke-width="0.6"/>
<text x="40.10" y="435.02" font-size="6.8" text-anchor="end" fill="#4d4d4d">6</text>
<rect x="135.70" y="439.80" width="10.60" height="5.90" fill="#ff0000" stroke="#000" stroke-width="0.6"/>
<rect x="135.70" y="445.70" width="10.60" height="5.90" fill="#ffa500" stroke="#000" stroke-width="0.6"/>
<rect x="135.70" y="451.60" width="10.60" height="5.90" fill="#006400" stroke="#000" stroke-width="0.6"/>
<rect x="135.70" y="457.50" width="10.60" height="5.90" fill="#87ceeb" stroke="#000" stroke-width="0.6"/>
<rect x="135.70" y="463.40" width="10.60" height="5.90" fill="#00007f" stroke="#000" stroke-width="0.6"/>
<text x="149.60" y="448.00" font-size="6.3">0.8</text>
<text x="149.60" y="453.90" font-size="6.3">0.6</text>
<text x="149.60" y="459.80" font-size="6.3">0.4</text>
<text x="149.60" y="465.70" font-size="6.3">0.2</text>
<text x="145.00" y="434.60" font-size="6.5">r<tspan font-size="4.6" dy="-2.6">2</tspan></text>
<text x="31.60" y="467.90" font-size="7.6" text-anchor="middle" transform="rotate(-90 31.60 467.90)">eQTL − log<tspan font-size="5.32" dy="1.90">10</tspan><tspan dy="-1.90">(P)</tspan></text>
<path d="M59.3,586.6 67.8,584.4 156.7,582.8 104.7,585.2 133.2,570.7 67.9,583.6 98.9,576.1 114.3,578.5 50.7,586.5 56.2,586.0 151.5,580.7 114.0,586.4 68.3,584.7 146.0,584.8 81.8,578.3 64.2,570.7 75.2,587.2 122.5,586.3 141.5,565.8 63.4,566.6 91.5,569.7 127.4,585.9 144.1,587.0 133.8,585.8 52.6,583.6 102.3,575.0 120.1,560.4 149.7,580.7 93.8,585.0 71.0,568.6 84.0,576.0 54.8,585.6 94.7,585.8 48.6,583.2 123.3,586.8 75.2,587.0 55.1,586.0 100.9,564.9 110.9,581.2 49.7,581.9 153.6,564.0 66.9,578.7 99.6,579.8 56.3,584.0 113.2,583.6 104.4,586.7 95.2,585.5 140.7,582.9 96.3,583.5 134.8,583.7 130.6,571.6 105.2,587.2 96.0,585.0 119.0,582.8 84.1,578.7 60.0,580.6 97.5,577.1 64.0,579.6 128.2,558.4 154.7,585.6 140.4,581.2 65.2,578.4 71.2,584.8 82.1,581.2 57.8,568.8 144.2,578.9 91.8,578.3 141.3,585.0 49.9,580.6 60.4,586.4 88.0,569.9 154.7,586.0 60.8,585.8 139.3,579.4 114.5,580.3 113.9,585.6 149.3,586.3 139.8,571.9 147.6,583.5 98.4,586.2 120.6,577.9 122.0,573.2 151.2,586.3 118.3,584.2 50.2,584.2 135.8,577.1 133.1,581.5 143.0,577.1 51.1,586.8 149.2,582.1 115.6,568.8 140.5,580.5 143.5,583.8 126.6,571.5 153.7,565.3 142.2,582.4 157.1,567.7 152.9,580.3 147.4,586.2 148.9,582.4 49.1,582.8 121.1,576.1 95.1,583.3 99.4,566.6 150.3,584.2 94.6,582.1 137.6,587.2 60.8,581.7 112.4,585.6 145.7,572.4 92.4,578.1 150.2,583.5 74.9,575.4 99.6,580.3 73.6,570.0 61.4,581.0 150.5,585.6 134.4,577.8 115.9,580.6 114.2,586.4 95.3,571.9 150.3,574.9 139.0,583.0 48.7,584.7 134.8,575.6 154.3,586.1 85.4,583.9 98.7,584.5 87.7,584.3 89.9,585.3 80.0,585.2 68.4,571.1 89.9,581.7 74.2,580.1 125.2,573.6 80.9,586.6 124.8,585.1 77.4,581.1 125.1,584.6 131.3,575.9 106.8,572.1 65.3,584.8 141.3,563.9 130.3,580.2 128.5,585.7 112.9,570.6 89.1,582.6 119.6,563.0 65.7,582.4 54.6,574.0 63.2,578.7 153.1,585.1 106.1,584.6 151.3,585.5 156.6,582.0 99.3,585.5 52.6,578.8 65.3,564.6 85.4,576.2 65.0,585.0 121.9,584.8 140.1,581.8 62.8,584.7 49.0,585.1 154.7,580.7 110.5,586.2 129.5,576.8 104.1,581.2 70.4,562.7 150.2,582.0 139.6,580.1 65.4,579.4 126.6,557.7 118.6,573.5 145.6,584.3 139.9,558.8 89.7,579.1 132.2,579.0 84.3,583.8 78.2,578.4 72.5,582.8 121.6,583.6 64.6,576.6 96.1,583.5 129.4,585.8 144.4,579.9 58.7,586.1 91.6,580.6 105.8,587.0 96.8,573.6 157.8,586.5 114.3,585.6 88.5,579.8 56.4,585.4 143.1,580.9 104.4,583.0 79.9,584.9 69.8,585.4 104.1,584.6 48.8,582.0 61.5,586.2 110.9,581.3 139.0,574.6 85.0,585.8 133.1,584.8 143.2,587.1 146.1,568.8 63.0,585.0 102.8,586.7 95.6,582.1 139.6,585.4 65.3,581.5 65.8,584.8 126.0,581.4 104.6,586.3 133.6,581.8 102.7,579.2 71.7,562.3 65.6,566.1 63.1,576.5 96.9,581.0 58.9,580.8 56.2,584.2 97.6,583.3 79.7,579.9 146.9,586.0 141.8,582.0 110.0,580.4 80.6,585.2 119.9,578.1 135.6,580.0 54.4,581.1 97.0,569.6 92.0,577.5 101.3,584.1 119.0,586.8 57.9,580.6 145.8,580.8 63.9,586.5 51.1,584.3 151.4,577.1 91.8,584.3 62.6,584.8 83.4,577.5 101.5,581.4 108.3,566.2 96.2,580.9 62.2,584.9 153.2,582.5 120.1,586.4 81.5,577.5 148.4,586.9 145.6,582.7 117.8,574.4 77.3,587.2 139.1,584.0 126.1,556.5 136.8,585.5 152.5,582.8 92.1,582.1 145.0,585.2 99.7,581.2 78.8,586.2 149.7,586.4 122.9,539.5 93.1,584.3 153.7,573.3 57.6,580.5 122.3,582.1 121.0,583.4 74.6,585.5 152.4,585.0 117.3,577.6 80.8,582.5 155.2,586.7 93.2,578.2 152.4,582.4 125.3,584.7 124.9,585.9 61.6,584.2 88.0,576.5 107.1,571.9 86.6,585.3 106.6,566.8 152.5,580.6 101.4,564.2 48.6,582.9 56.8,565.9 110.8,587.0 59.6,580.5 134.5,582.4 111.8,578.8 53.4,584.7 54.1,586.8 115.6,572.7 141.7,585.3 132.7,584.1 50.4,587.2 157.7,573.1 57.3,581.7 62.1,587.3 113.8,582.9 86.4,583.8 154.9,577.3 101.0,582.0 149.0,577.4 50.3,585.3 136.6,587.0 86.0,577.8 66.7,579.4 59.5,582.1 90.8,581.8 74.1,577.8 59.6,584.0 90.2,570.2 113.2,567.7 92.8,576.0 76.2,581.8 72.6,581.6 128.1,565.3 95.9,583.9 63.6,584.8 62.1,578.5 99.4,569.8 129.6,570.0 83.9,571.2 134.7,585.9 115.9,585.1 64.0,575.3 66.2,585.1 117.7,582.7 137.1,584.0 97.0,581.2 107.6,581.5 143.6,585.2 77.8,585.4 52.4,579.7 106.0,586.5 54.6,584.7 143.3,584.0 111.2,583.4 124.6,584.3 76.9,581.4 130.9,570.5 126.3,584.2 65.9,586.4 88.1,578.8 56.7,585.6 52.9,584.4 61.0,577.8 94.1,583.7 113.5,580.8 52.4,585.0 64.4,583.1 120.0,575.0 113.4,582.9 94.0,578.8 140.1,575.6 123.5,583.6 136.0,586.1 152.1,579.8 132.5,569.5 66.3,579.7 140.4,583.2 80.3,583.9 142.3,581.8 118.9,583.8 84.8,584.0 133.4,582.4 75.4,583.7 109.7,583.3 63.9,586.5 142.4,580.1 112.6,567.3 91.3,583.9 155.9,583.5 119.1,581.0 129.6,582.6 151.6,577.2 74.1,576.2 132.2,586.4 65.7,582.8 80.6,582.9 57.4,584.6 92.2,585.1 52.4,571.6 78.9,563.5 66.2,562.0 100.3,564.9 144.7,587.3 89.1,564.0 111.5,577.9 126.8,579.3 157.9,579.1 149.1,562.6 119.9,585.1 83.0,571.6 102.3,569.1 69.6,586.5 85.6,569.0 116.1,569.5 50.5,583.2 131.3,581.6 104.2,586.3 92.2,573.2 80.0,569.7 62.9,572.8 67.1,584.6 125.3,586.1 69.0,565.8 62.8,586.1 50.4,582.8 112.0,586.5 151.5,583.5 141.4,585.0 70.0,569.1 120.8,585.1 149.1,574.8 87.7,578.3 87.7,583.9 108.5,575.7 137.2,587.0 68.8,587.3 87.5,566.3 57.0,586.8 83.4,581.9 111.4,580.2 70.6,585.0 106.5,587.0 65.9,586.5 89.5,574.5 88.4,577.8 135.4,584.2 144.3,572.9 75.2,584.2 156.8,582.2 100.9,583.9 57.2,585.9 89.1,586.8 108.5,585.3 127.0,581.5 99.6,584.3 133.6,571.9 99.9,566.0 142.7,579.0 57.8,586.7 50.3,565.1 92.8,586.8 141.5,586.5 146.7,586.6 127.8,564.5 95.4,586.2 116.0,587.1 69.8,561.2 141.1,575.2 125.3,584.1 95.2,577.7 134.6,586.1 129.4,576.4 114.1,584.7 68.2,585.1 122.2,582.4 131.7,586.6 75.2,584.6 70.6,584.0 109.7,584.3 112.6,576.4 60.7,583.6 145.2,581.2 121.0,584.8 54.0,583.5 94.4,583.2 102.1,569.9 149.4,579.3 146.0,577.2 115.7,568.8 146.3,582.7 125.3,552.5 82.2,585.3 82.9,577.6 97.1,582.0 121.5,585.3 125.1,557.8 68.8,582.2 93.0,572.2 53.1,586.9 90.9,586.1 113.6,586.1 68.4,563.4 143.8,578.5 123.7,555.1 148.4,582.9 81.2,582.8 56.9,586.7 82.1,575.0 99.9,586.4 101.8,576.4 53.6,584.5 151.5,583.9 141.0,586.7 157.9,584.2 124.9,579.5 108.1,575.5 100.6,581.3 110.4,586.2 110.5,569.0 52.3,577.0 72.8,580.9 152.8,583.3 49.7,568.9 78.2,582.6 103.0,586.2 86.5,585.9 153.9,577.1 53.4,582.2 141.7,569.5 146.5,584.8 88.4,584.0 80.2,580.8 74.2,578.3 48.5,581.0 75.4,584.5 61.2,585.9 63.3,587.0 62.5,587.0 150.2,577.5 50.6,578.7 153.4,587.0 71.1,570.4 73.8,585.7 141.5,585.4 149.1,586.3 94.2,583.9 106.3,586.3 152.8,586.1 50.5,584.7 69.2,586.5 130.2,572.9 142.0,582.5 152.4,585.2 133.4,587.2 125.4,583.0 49.0,587.0 87.0,569.2 88.1,579.6 66.3,580.3 54.8,579.8 54.9,586.3 133.8,582.4 139.9,579.6 119.2,584.4 96.6,587.3 78.3,584.1 111.1,585.6 118.5,576.7 82.7,583.1 81.2,584.6 71.1,581.4 156.2,580.0 146.6,578.8 125.5,559.4 60.6,584.5 114.6,585.3 140.6,585.0 68.9,587.1 109.7,576.3 101.8,582.7 150.1,585.1 134.9,568.5 89.0,583.4 85.3,583.3 56.5,584.9 84.9,586.6 74.3,584.9 90.1,587.0 56.1,587.1 93.2,583.9 65.0,565.7 55.5,583.6 94.4,584.1 72.6,580.1 128.9,580.1 141.0,555.4 111.3,586.5 109.7,586.6 75.5,586.1 131.6,569.9 81.0,585.4 134.3,577.2 134.2,578.8 111.2,583.0 51.2,581.7 53.3,567.8 133.5,587.1 58.4,565.5 157.3,575.6 120.3,580.5 59.8,582.8 122.3,579.6 126.7,582.2 150.8,586.4 134.7,579.2 88.2,581.4 60.3,584.7 85.3,572.6 112.6,579.5 91.9,583.6 66.5,579.7 100.1,577.8 109.0,583.5 103.8,586.6 71.7,582.8 117.6,583.6" fill="none" stroke="none" marker-start="url(#mn)" marker-mid="url(#mn)" marker-end="url(#mn)"/>
<circle cx="108.00" cy="521.99" r="1.95" fill="#ff0000" stroke="#000" stroke-width="0.35"/>
<circle cx="107.50" cy="524.70" r="1.95" fill="#ffa500" stroke="#000" stroke-width="0.35"/>
<circle cx="104.76" cy="532.34" r="1.95" fill="#87ceeb" stroke="#000" stroke-width="0.35"/>
<circle cx="103.17" cy="534.73" r="1.95" fill="#006400" stroke="#000" stroke-width="0.35"/>
<circle cx="106.92" cy="537.12" r="1.95" fill="#006400" stroke="#000" stroke-width="0.35"/>
<circle cx="104.94" cy="538.71" r="1.95" fill="#87ceeb" stroke="#000" stroke-width="0.35"/>
<circle cx="103.41" cy="541.10" r="1.95" fill="#ffa500" stroke="#000" stroke-width="0.35"/>
<circle cx="107.48" cy="544.29" r="1.95" fill="#006400" stroke="#000" stroke-width="0.35"/>
<circle cx="106.56" cy="546.68" r="1.95" fill="#006400" stroke="#000" stroke-width="0.35"/>
<circle cx="106.76" cy="549.07" r="1.95" fill="#006400" stroke="#000" stroke-width="0.35"/>
<circle cx="103.28" cy="552.25" r="1.95" fill="#ffa500" stroke="#000" stroke-width="0.35"/>
<circle cx="107.16" cy="553.85" r="1.95" fill="#87ceeb" stroke="#000" stroke-width="0.35"/>
<circle cx="104.32" cy="555.44" r="1.95" fill="#006400" stroke="#000" stroke-width="0.35"/>
<circle cx="108.21" cy="557.03" r="1.95" fill="#006400" stroke="#000" stroke-width="0.35"/>
<circle cx="104.91" cy="560.22" r="1.95" fill="#87ceeb" stroke="#000" stroke-width="0.35"/>
<circle cx="106.09" cy="563.40" r="1.95" fill="#006400" stroke="#000" stroke-width="0.35"/>
<circle cx="108.12" cy="565.79" r="1.95" fill="#87ceeb" stroke="#000" stroke-width="0.35"/>
<circle cx="103.36" cy="568.18" r="1.95" fill="#ffa500" stroke="#000" stroke-width="0.35"/>
<circle cx="99.00" cy="557.03" r="1.95" fill="#87ceeb" stroke="#000" stroke-width="0.35"/>
<circle cx="101.00" cy="556.24" r="1.95" fill="#ffa500" stroke="#000" stroke-width="0.35"/>
<circle cx="102.00" cy="555.44" r="1.95" fill="#ffa500" stroke="#000" stroke-width="0.35"/>
<circle cx="100.00" cy="566.59" r="1.95" fill="#87ceeb" stroke="#000" stroke-width="0.35"/>
<circle cx="101.50" cy="564.20" r="1.95" fill="#87ceeb" stroke="#000" stroke-width="0.35"/>
<circle cx="103.40" cy="561.81" r="1.95" fill="#006400" stroke="#000" stroke-width="0.35"/>
<circle cx="101.00" cy="570.57" r="1.95" fill="#87ceeb" stroke="#000" stroke-width="0.35"/>
<path d="M106.20,525.36 L109.20,528.36 L106.20,531.36 L103.20,528.36Z" fill="#a020f0" stroke="#000" stroke-width="0.35"/>
<line x1="43.30" y1="518.20" x2="43.30" y2="590.40" stroke="#000" stroke-width="0.9"/>
<line x1="43.30" y1="590.40" x2="160.50" y2="590.40" stroke="#000" stroke-width="0.9"/>
<line x1="41.30" y1="587.30" x2="43.30" y2="587.30" stroke="#333" stroke-width="0.6"/>
<text x="40.10" y="589.70" font-size="6.8" text-anchor="end" fill="#4d4d4d">0</text>
<line x1="41.30" y1="571.37" x2="43.30" y2="571.37" stroke="#333" stroke-width="0.6"/>
<text x="40.10" y="573.77" font-size="6.8" text-anchor="end" fill="#4d4d4d">1</text>
<line x1="41.30" y1="555.44" x2="43.30" y2="555.44" stroke="#333" stroke-width="0.6"/>
<text x="40.10" y="557.84" font-size="6.8" text-anchor="end" fill="#4d4d4d">2</text>
<line x1="41.30" y1="539.51" x2="43.30" y2="539.51" stroke="#333" stroke-width="0.6"/>
<text x="40.10" y="541.91" font-size="6.8" text-anchor="end" fill="#4d4d4d">3</text>
<line x1="41.30" y1="523.58" x2="43.30" y2="523.58" stroke="#333" stroke-width="0.6"/>
<text x="40.10" y="525.98" font-size="6.8" text-anchor="end" fill="#4d4d4d">4</text>
<text x="31.60" y="554.60" font-size="7.6" text-anchor="middle" transform="rotate(-90 31.60 554.60)">AD GWAS − log<tspan font-size="5.32" dy="1.90">10</tspan><tspan dy="-1.90">(P)</tspan></text>
<text x="50.20" y="531.30" font-size="9.1">Max. SNP</text>
<text x="50.20" y="541.80" font-size="9.1">PIP=1</text>
<line x1="61.80" y1="590.40" x2="61.80" y2="592.40" stroke="#333" stroke-width="0.6"/>
<text x="61.80" y="598.90" font-size="6.8" text-anchor="middle" fill="#4d4d4d">90.0</text>
<line x1="88.80" y1="590.40" x2="88.80" y2="592.40" stroke="#333" stroke-width="0.6"/>
<text x="88.80" y="598.90" font-size="6.8" text-anchor="middle" fill="#4d4d4d">90.5</text>
<line x1="115.20" y1="590.40" x2="115.20" y2="592.40" stroke="#333" stroke-width="0.6"/>
<text x="115.20" y="598.90" font-size="6.8" text-anchor="middle" fill="#4d4d4d">91.0</text>
<line x1="142.60" y1="590.40" x2="142.60" y2="592.40" stroke="#333" stroke-width="0.6"/>
<text x="142.60" y="598.90" font-size="6.8" text-anchor="middle" fill="#4d4d4d">91.5</text>
<text x="103.00" y="607.20" font-size="7.8" text-anchor="middle">chr8 (Mb)</text>
<rect x="186.82" y="529.60" width="10.89" height="54.00" fill="#a6efc0" stroke="#222" stroke-width="0.7"/>
<rect x="199.04" y="427.76" width="10.89" height="155.84" fill="#49d978" stroke="#222" stroke-width="0.7"/>
<rect x="211.27" y="534.39" width="10.89" height="49.21" fill="#1a9e3f" stroke="#222" stroke-width="0.7"/>
<line x1="185.10" y1="565.83" x2="223.30" y2="565.83" stroke="#000" stroke-width="0.9" stroke-dasharray="3,2"/>
<rect x="185.10" y="420.30" width="38.20" height="169.70" fill="none" stroke="#111" stroke-width="0.9"/>
<line x1="183.10" y1="583.60" x2="185.10" y2="583.60" stroke="#333" stroke-width="0.6"/>
<text x="182.10" y="586.00" font-size="6.8" text-anchor="end" fill="#4d4d4d">0</text>
<line x1="183.10" y1="542.59" x2="185.10" y2="542.59" stroke="#333" stroke-width="0.6"/>
<text x="182.10" y="544.99" font-size="6.8" text-anchor="end" fill="#4d4d4d">3</text>
<line x1="183.10" y1="501.58" x2="185.10" y2="501.58" stroke="#333" stroke-width="0.6"/>
<text x="182.10" y="503.98" font-size="6.8" text-anchor="end" fill="#4d4d4d">6</text>
<line x1="183.10" y1="460.57" x2="185.10" y2="460.57" stroke="#333" stroke-width="0.6"/>
<text x="182.10" y="462.97" font-size="6.8" text-anchor="end" fill="#4d4d4d">9</text>
<line x1="192.26" y1="590.00" x2="192.26" y2="592.00" stroke="#333" stroke-width="0.6"/>
<text x="196.16" y="597.90" font-size="6.6" text-anchor="end" fill="#4d4d4d" transform="rotate(-45 196.16 597.90)">GenT</text>
<line x1="204.49" y1="590.00" x2="204.49" y2="592.00" stroke="#333" stroke-width="0.6"/>
<text x="208.39" y="597.90" font-size="6.6" text-anchor="end" fill="#4d4d4d" transform="rotate(-45 208.39 597.90)">xGenT</text>
<line x1="216.71" y1="590.00" x2="216.71" y2="592.00" stroke="#333" stroke-width="0.6"/>
<text x="220.61" y="597.90" font-size="6.6" text-anchor="end" fill="#4d4d4d" transform="rotate(-45 220.61 597.90)">MuGenT</text>
<text x="226.01" y="603.40" font-size="6.6" text-anchor="end" fill="#4d4d4d" transform="rotate(-45 226.01 603.40)">(eQTLs)</text>
<text x="171.50" y="505.5" font-size="8.2" text-anchor="middle" transform="rotate(-90 171.50 505.5)">-log<tspan font-size="5.7" dy="2.1">10</tspan><tspan dy="-2.1">(P-value)</tspan></text>
<text x="308.00" y="424.60" font-size="9.1" text-anchor="middle">NTRK1, Cortex tissue</text>
<path d="M294.3,501.3 314.9,499.0 307.4,502.1 289.1,500.8 283.1,500.7 326.1,501.8 366.6,487.3 312.9,497.4 313.3,500.7 326.7,495.3 347.4,495.5 295.1,502.5 296.0,501.1 286.1,490.1 375.3,499.7 286.2,499.0 343.5,502.0 363.7,498.8 308.3,503.2 326.6,502.6 344.1,503.2 290.3,499.2 304.2,495.2 283.2,495.4 370.4,501.4 371.0,502.5 284.1,503.0 292.3,497.0 322.5,501.6 298.8,493.3 335.3,502.4 276.2,498.8 353.3,492.8 301.6,503.2 346.8,484.5 356.0,502.3 372.2,490.7 346.4,497.6 337.8,502.8 356.2,500.1 334.1,499.6 372.9,503.0 322.7,502.1 309.7,499.4 337.8,498.8 311.2,499.4 307.6,503.1 304.8,487.7 343.5,499.4 330.4,497.1 299.2,502.6 328.7,498.6 282.9,489.0 292.0,502.2 305.5,500.4 288.4,503.3 333.8,499.8 332.9,501.1 295.1,495.2 324.1,499.8 279.7,502.3 300.2,484.1 309.6,498.7 374.7,501.9 309.0,496.1 284.5,503.4 342.4,500.6 317.6,498.6 287.2,487.1 349.5,503.4 279.2,500.8 341.5,490.6 339.1,500.1 310.2,498.7 319.2,487.2 349.9,492.4 301.3,484.5 329.2,492.1 311.7,502.8 323.2,491.1 298.3,496.2 311.3,493.9 365.3,497.4 306.0,492.3 330.3,503.0 316.5,498.3 309.7,498.1 269.4,501.5 304.1,492.3 305.1,499.9 357.8,503.1 270.8,503.1 320.5,498.2 294.7,502.1 319.3,497.9 303.7,503.5 323.2,499.4 322.0,485.3 370.8,502.2 277.5,501.7 367.2,503.0 372.5,487.0 349.9,493.8 334.3,500.9 368.1,490.5 279.3,495.4 296.2,492.4 350.5,495.2 358.2,499.6 305.6,502.6 296.2,490.8 332.1,500.7 301.5,502.7 307.8,491.5 317.8,499.1 294.0,499.8 294.0,498.6 377.2,495.7 366.4,501.1 272.5,501.4 325.1,497.3 366.4,486.2 324.0,491.9 270.0,502.1 275.9,502.7 302.6,497.8 361.6,496.2 366.7,503.0 339.8,494.7 376.0,502.4 271.7,499.3 363.8,501.1 359.8,500.1 366.3,497.0 308.8,502.7 322.7,496.8 317.2,503.1 276.3,484.9 280.6,499.2 307.7,500.5 330.9,501.6 295.8,492.3 347.4,491.0 328.6,499.3 303.3,495.9 283.6,503.2 303.9,500.3 299.8,500.9 317.8,502.1 359.1,501.2 289.6,500.5 372.9,490.7 372.2,497.8 320.2,501.1 293.5,494.8 323.5,502.2 293.1,500.6 292.3,499.0 315.6,500.2 333.9,488.5 378.8,499.3 318.3,501.0 323.9,483.6 329.2,496.5 298.2,502.8 345.7,501.0 301.8,491.6 278.9,503.0 354.7,500.4 318.9,500.7 324.9,494.1 348.3,500.9 373.3,501.2 361.2,498.2 343.2,503.0 301.2,503.4 323.6,482.0 328.0,496.3 325.2,499.2 361.1,501.4 303.3,497.2 305.0,497.1 375.8,495.4 319.2,502.4 300.1,485.9 304.0,487.3 308.4,485.0 304.8,498.5 365.3,498.6 332.1,499.6 365.7,491.8 280.7,501.8 271.4,500.5 325.5,502.6 357.4,502.8 320.6,501.6 272.0,502.2 344.5,500.2 323.3,483.5 378.7,495.5 376.5,501.2 294.1,490.5 338.2,503.0 285.4,476.5 342.2,498.4 315.5,486.8 292.3,496.5 337.1,501.9 286.2,501.6 339.0,500.5 364.9,498.0 361.8,501.9 369.8,492.3 323.8,503.4 269.4,500.2 327.9,500.4 367.6,502.9 275.3,502.0 371.1,502.9 338.8,499.3 328.0,502.3 272.9,497.2 354.4,499.5 276.6,483.3 374.0,502.5 273.2,501.1 278.3,494.2 271.8,502.2 308.6,494.3 271.7,497.4 361.7,502.8 295.3,498.2 366.0,502.4 278.4,498.0 363.6,501.2 322.5,479.8 321.9,502.3 291.7,501.4 288.1,501.6 344.9,503.1 289.2,499.4 337.7,503.1 333.1,497.7 321.0,499.1 272.0,499.0 287.7,491.0 369.6,487.8 306.9,500.0 296.4,488.4 348.6,499.0 325.4,496.2 316.9,497.5 295.3,503.1 291.4,499.5 339.3,502.1 288.7,501.7 269.1,503.0 374.7,498.7 329.8,500.9 312.5,503.0 274.4,493.6 336.3,501.9 277.3,501.8 272.9,489.8 319.9,500.5 350.6,496.2 377.0,503.2 278.7,498.5 293.6,502.1 342.5,501.2 304.5,501.3 343.8,500.6 339.0,502.1 328.3,499.0 295.3,502.3 305.0,500.0 301.7,492.2 358.1,502.5 332.6,502.2 295.9,498.0 316.7,495.6 344.6,498.6 293.7,500.7 347.4,498.9 315.0,503.1 280.4,501.9 269.5,502.2 308.2,501.0 289.2,501.9 333.4,492.9 309.0,502.1 350.3,490.5 330.3,498.4 269.0,501.7 375.9,498.2 286.2,502.4 335.0,502.7 369.4,501.7 329.1,500.7 337.0,498.5 329.7,501.4 362.3,499.5 330.7,501.5 306.0,497.8 281.6,489.1 328.5,500.5 359.4,498.9 268.3,503.1 303.1,501.3 269.2,502.2 306.1,493.9 316.7,499.8 357.9,497.5 376.6,502.7 300.7,497.0 372.5,502.3 306.4,496.6 293.2,499.0 337.5,498.1 288.4,499.9 349.3,503.1 304.2,503.0 342.9,500.8 331.9,497.9 287.5,482.7 285.5,502.8 377.5,503.2 305.4,496.8 273.6,501.7 343.7,485.1 333.6,495.0 276.4,500.0 289.3,503.0 273.8,502.2 276.3,501.8 292.7,502.9 276.6,502.3 367.7,497.7 293.7,492.3 299.1,503.2 376.2,498.4 366.2,492.5 319.6,488.1 340.8,500.8 273.6,498.4 370.4,500.8 349.5,489.9 376.2,502.8 323.4,488.2 321.6,502.6 373.3,500.4 310.2,493.4 342.0,503.2 367.4,498.4 329.4,499.2 285.1,496.8 303.3,498.8 287.6,502.5 324.9,500.3 372.3,494.5 366.0,497.5 268.7,497.2 351.2,495.9 273.0,501.9 366.9,491.8 353.5,501.2 339.4,500.4 304.6,488.7 344.0,495.3 321.8,500.1 320.7,502.8 373.9,500.0 369.3,500.0 280.4,499.8 291.8,489.2 343.5,501.6 365.1,500.3 369.7,496.1 310.2,501.9 288.3,499.7 288.6,495.6 277.8,499.8 359.5,501.9 356.1,488.4 375.6,499.7 336.2,501.5 367.2,502.4 303.3,498.9 351.3,475.4 303.6,503.0 304.2,490.5 297.4,487.4 333.4,500.2 272.4,503.3 347.9,499.7 300.0,499.5 308.2,499.9 274.7,497.3 363.9,495.5 353.2,502.8 355.2,496.2 352.8,502.8 321.1,489.2 371.2,496.4 308.4,499.1 351.2,503.2 286.4,499.5 361.2,502.9 306.4,498.6 319.4,502.2 292.6,502.9 272.5,501.1 353.2,501.2 308.0,495.9 321.0,497.3 341.8,502.3 359.5,497.2 369.0,493.6 301.9,503.1 332.5,502.4 359.4,498.6 296.7,500.8 344.8,501.1 350.4,477.4 379.0,502.1 296.1,488.7 283.2,498.0 375.4,500.3 371.4,499.2 364.5,502.7 373.6,497.7 319.8,500.1 347.8,479.3 348.9,485.6 335.8,502.2 283.6,502.8 294.0,502.5 350.3,501.6 317.9,498.0 345.4,493.2 326.6,499.3 315.7,502.3 365.2,487.7 312.0,500.8 294.9,500.4 275.9,501.5 368.7,488.8 272.6,499.7 366.1,500.7 298.7,501.6 374.9,499.2 316.2,488.7 285.3,483.4 338.2,496.4 341.6,499.5 282.8,493.7 280.0,503.3 370.6,503.2 333.3,501.3 318.7,495.2 341.1,500.9 356.4,502.4 348.1,499.7 306.5,499.0 368.5,497.4 365.6,499.8 277.8,500.7 343.9,501.1 296.0,503.4 295.1,503.3 365.6,486.3 369.7,492.7 377.6,498.7 304.6,500.0 305.8,492.1 373.6,502.6 269.7,498.0 281.0,500.9 337.2,499.7 336.5,496.3 347.7,493.0 309.0,494.3 329.3,501.2 292.1,502.0 373.4,501.5 328.2,501.8 356.2,494.0 369.7,487.9 268.6,502.9 302.7,501.1 348.4,503.0 342.5,502.7 328.5,496.5 372.9,494.4 301.3,488.5 332.6,500.8 292.5,501.3 343.1,497.7 346.6,485.7 295.6,498.3 278.8,502.9 289.4,501.0 345.0,501.2 356.3,500.9 313.8,502.5 346.8,499.6 321.5,481.1 289.3,500.6 371.2,503.4 314.7,496.9 297.6,496.2 281.7,498.8 336.2,499.3 303.5,498.8 289.1,492.6 323.0,487.8 320.7,500.8 305.6,502.0 313.5,499.6 287.3,494.5 295.5,503.3 368.9,484.6 310.7,503.3 360.9,493.9 339.9,500.8 292.7,491.8 357.1,502.5 369.6,502.0 343.9,497.5 268.6,503.5 342.0,501.6 274.3,503.3 352.9,501.9 324.6,502.2 374.4,502.6 299.0,498.2 361.4,498.1 277.3,495.4 340.2,501.2 340.2,495.5 319.1,499.8 345.1,498.4 268.1,501.9 314.5,500.6 336.8,503.1 357.8,501.4 308.0,500.2 302.5,501.0 327.6,502.3 361.8,501.0 300.1,502.1 310.1,493.0 275.0,503.1 286.0,503.1 338.9,501.5 370.2,502.7 319.8,497.8 365.5,497.6 357.6,503.1 373.5,496.8 297.1,500.4 310.1,500.3 275.4,498.3 329.9,495.0 359.2,502.4 315.7,502.2 332.3,501.4 280.4,502.7 318.1,503.1 355.2,494.3 376.4,499.7 335.8,500.4 319.0,495.6 335.1,502.5 268.2,502.2 374.1,495.5 299.5,480.8 329.9,499.8 297.5,500.9 283.9,491.6 290.8,500.9 273.0,503.4 318.6,496.2 364.8,487.8 292.4,500.7 336.8,499.5 297.8,502.3 375.9,488.5 272.0,501.4 288.3,498.3 321.6,490.8 300.2,493.1 289.5,495.1 298.6,498.3 361.5,501.5 301.4,503.0 349.2,495.9 368.6,503.2 347.3,482.6 360.7,502.6 360.2,500.6 299.4,501.5 341.0,501.5 339.6,501.4 365.9,502.6 272.3,490.1 288.3,497.7 295.2,484.2 331.3,499.0 350.5,502.1 364.0,492.4" fill="none" stroke="none" marker-start="url(#mn)" marker-mid="url(#mn)" marker-end="url(#mn)"/>
<circle cx="321.00" cy="443.44" r="1.95" fill="#ff0000" stroke="#000" stroke-width="0.35"/>
<circle cx="322.10" cy="450.04" r="1.95" fill="#ffa500" stroke="#000" stroke-width="0.35"/>
<circle cx="315.50" cy="459.94" r="1.95" fill="#006400" stroke="#000" stroke-width="0.35"/>
<circle cx="317.00" cy="461.92" r="1.95" fill="#ffa500" stroke="#000" stroke-width="0.35"/>
<circle cx="318.50" cy="464.56" r="1.95" fill="#ffa500" stroke="#000" stroke-width="0.35"/>
<circle cx="319.00" cy="466.54" r="1.95" fill="#87ceeb" stroke="#000" stroke-width="0.35"/>
<circle cx="320.00" cy="463.90" r="1.95" fill="#87ceeb" stroke="#000" stroke-width="0.35"/>
<circle cx="321.50" cy="461.26" r="1.95" fill="#87ceeb" stroke="#000" stroke-width="0.35"/>
<circle cx="323.50" cy="459.28" r="1.95" fill="#006400" stroke="#000" stroke-width="0.35"/>
<circle cx="323.50" cy="463.90" r="1.95" fill="#87ceeb" stroke="#000" stroke-width="0.35"/>
<circle cx="324.00" cy="468.52" r="1.95" fill="#006400" stroke="#000" stroke-width="0.35"/>
<circle cx="320.50" cy="486.34" r="1.95" fill="#87ceeb" stroke="#000" stroke-width="0.35"/>
<circle cx="318.00" cy="463.24" r="1.95" fill="#87ceeb" stroke="#000" stroke-width="0.35"/>
<path d="M321.00,431.20 L324.00,434.20 L321.00,437.20 L318.00,434.20Z" fill="#a020f0" stroke="#000" stroke-width="0.35"/>
<line x1="263.60" y1="430.80" x2="263.60" y2="505.70" stroke="#000" stroke-width="0.9"/>
<line x1="263.60" y1="505.70" x2="381.20" y2="505.70" stroke="#000" stroke-width="0.9"/>
<line x1="261.60" y1="503.50" x2="263.60" y2="503.50" stroke="#333" stroke-width="0.6"/>
<text x="260.40" y="505.90" font-size="6.8" text-anchor="end" fill="#4d4d4d">0</text>
<line x1="261.60" y1="490.30" x2="263.60" y2="490.30" stroke="#333" stroke-width="0.6"/>
<text x="260.40" y="492.70" font-size="6.8" text-anchor="end" fill="#4d4d4d">1</text>
<line x1="261.60" y1="477.10" x2="263.60" y2="477.10" stroke="#333" stroke-width="0.6"/>
<text x="260.40" y="479.50" font-size="6.8" text-anchor="end" fill="#4d4d4d">2</text>
<line x1="261.60" y1="463.90" x2="263.60" y2="463.90" stroke="#333" stroke-width="0.6"/>
<text x="260.40" y="466.30" font-size="6.8" text-anchor="end" fill="#4d4d4d">3</text>
<line x1="261.60" y1="450.70" x2="263.60" y2="450.70" stroke="#333" stroke-width="0.6"/>
<text x="260.40" y="453.10" font-size="6.8" text-anchor="end" fill="#4d4d4d">4</text>
<line x1="261.60" y1="437.50" x2="263.60" y2="437.50" stroke="#333" stroke-width="0.6"/>
<text x="260.40" y="439.90" font-size="6.8" text-anchor="end" fill="#4d4d4d">5</text>
<rect x="359.60" y="439.80" width="10.60" height="5.90" fill="#ff0000" stroke="#000" stroke-width="0.6"/>
<rect x="359.60" y="445.70" width="10.60" height="5.90" fill="#ffa500" stroke="#000" stroke-width="0.6"/>
<rect x="359.60" y="451.60" width="10.60" height="5.90" fill="#006400" stroke="#000" stroke-width="0.6"/>
<rect x="359.60" y="457.50" width="10.60" height="5.90" fill="#87ceeb" stroke="#000" stroke-width="0.6"/>
<rect x="359.60" y="463.40" width="10.60" height="5.90" fill="#00007f" stroke="#000" stroke-width="0.6"/>
<text x="373.50" y="448.00" font-size="6.3">0.8</text>
<text x="373.50" y="453.90" font-size="6.3">0.6</text>
<text x="373.50" y="459.80" font-size="6.3">0.4</text>
<text x="373.50" y="465.70" font-size="6.3">0.2</text>
<text x="368.90" y="434.60" font-size="6.5">r<tspan font-size="4.6" dy="-2.6">2</tspan></text>
<text x="251.60" y="467.90" font-size="7.6" text-anchor="middle" transform="rotate(-90 251.60 467.90)">eQTL − log<tspan font-size="5.32" dy="1.90">10</tspan><tspan dy="-1.90">(P)</tspan></text>
<path d="M334.1,584.6 360.3,587.7 285.7,586.8 316.0,587.6 354.3,583.6 373.4,569.0 277.4,587.2 288.1,582.5 313.2,580.6 278.8,584.2 299.2,586.7 279.1,584.1 310.1,585.0 341.4,579.2 276.7,586.0 365.1,584.8 359.0,586.1 363.4,570.7 339.9,585.4 369.3,581.8 377.4,581.6 369.5,581.0 301.8,581.3 363.5,569.1 318.3,579.1 366.4,537.1 366.9,549.8 366.5,557.4 349.9,576.4 287.9,587.7 315.6,587.6 268.5,583.4 331.7,584.1 335.6,584.7 377.7,577.8 308.9,585.7 367.7,580.3 309.8,576.7 371.1,585.2 322.0,581.8 271.3,586.6 324.8,578.8 346.4,579.5 354.1,582.4 299.1,582.5 362.5,581.1 324.0,585.4 376.4,585.8 268.2,584.5 367.0,532.8 344.5,568.6 306.8,586.4 357.7,561.5 294.6,585.2 276.5,586.8 309.0,568.6 366.8,575.6 372.3,581.9 280.3,575.8 293.7,575.9 306.2,579.7 316.7,586.0 273.1,587.5 328.5,587.5 310.6,584.6 369.7,572.9 323.0,576.7 285.0,585.4 290.9,572.6 268.5,573.7 297.3,584.8 272.5,582.5 271.3,579.9 351.6,587.6 269.2,584.7 352.4,584.3 293.4,578.9 372.8,587.8 278.9,565.8 285.8,578.0 355.1,583.7 304.8,574.8 307.2,573.3 268.2,585.7 297.8,581.8 286.8,587.1 310.9,582.7 372.1,586.5 306.0,576.8 289.0,583.3 372.9,570.6 315.1,586.2 323.8,581.4 333.5,584.8 311.0,584.3 335.6,582.0 348.8,587.0 273.2,575.5 318.9,587.6 306.5,580.2 365.9,521.5 338.4,586.0 293.5,571.3 332.8,581.8 363.1,582.0 280.7,576.9 372.6,561.5 298.7,585.2 319.8,585.1 318.8,583.4 270.3,572.9 285.7,581.8 311.7,581.4 315.4,585.1 272.4,580.2 339.0,577.8 298.7,583.5 347.4,586.6 325.5,584.0 285.4,581.3 339.4,581.3 320.5,583.6 312.0,585.5 288.2,577.0 328.1,579.2 371.1,587.1 319.8,572.3 377.1,582.2 304.3,581.2 319.2,584.4 357.9,570.7 337.5,583.7 311.4,587.5 309.5,582.4 365.1,582.9 299.2,563.1 369.6,586.8 344.9,574.9 374.4,586.9 372.8,585.6 338.1,584.7 291.6,583.2 348.2,585.9 359.9,565.3 351.6,585.1 311.0,586.1 313.7,586.0 378.8,585.0 297.7,579.8 338.4,580.2 288.0,581.9 290.4,581.1 284.5,582.8 299.2,578.9 374.0,581.2 268.7,585.1 279.7,568.7 285.3,585.8 334.1,585.9 272.4,581.6 318.7,582.7 297.1,577.1 374.1,587.2 371.4,573.2 358.7,580.4 351.8,586.5 353.7,587.3 345.1,582.8 296.5,586.7 359.1,573.7 373.7,581.7 284.3,581.5 317.9,585.3 311.6,584.1 309.8,583.1 368.4,579.7 363.9,575.5 372.6,578.7 335.4,581.4 375.6,578.2 363.2,585.6 326.3,587.3 358.6,563.3 347.8,582.2 339.8,587.0 342.7,585.9 292.3,579.3 272.9,583.1 364.0,558.0 319.3,579.8 377.1,567.0 280.9,572.5 337.7,584.5 345.8,571.6 313.4,584.6 335.6,587.1 282.2,587.4 346.3,582.7 334.5,584.1 361.3,585.0 376.7,586.8 310.3,583.7 356.8,585.1 335.5,583.3 371.9,573.7 279.2,586.8 296.9,586.1 268.6,582.3 280.3,577.5 286.2,581.6 360.7,563.0 304.3,569.1 335.0,575.2 298.4,587.5 329.6,582.8 354.9,577.1 356.1,587.0 296.8,587.1 289.9,580.6 277.9,582.3 340.1,566.7 342.6,586.3 300.7,569.8 376.8,583.2 288.1,586.9 280.8,566.1 360.7,581.0 367.5,568.2 320.6,584.7 365.2,587.3 314.4,577.4 367.7,571.5 289.2,583.8 355.8,582.7 307.2,584.7 312.9,585.3 326.5,582.8 360.0,581.8 287.3,586.0 375.8,585.4 269.0,584.6 298.6,575.2 329.1,582.8 298.5,580.8 284.0,579.3 272.7,585.3 306.4,583.6 375.7,581.9 347.9,575.7 336.6,586.9 322.1,582.8 370.3,565.0 363.6,578.0 286.6,587.1 293.1,584.7 287.5,580.2 347.1,574.2 345.5,585.5 344.8,579.3 355.5,583.4 281.9,586.6 319.0,578.0 351.0,580.3 376.9,575.9 281.2,586.1 329.1,587.0 303.2,578.8 359.4,583.7 314.9,585.0 365.5,567.3 301.0,579.2 319.2,581.1 284.2,585.0 346.7,576.3 303.6,583.1 293.5,586.0 342.8,575.5 274.4,583.3 369.4,577.8 365.5,586.6 300.4,583.6 342.1,572.7 359.2,563.5 279.4,583.8 343.5,579.2 273.8,587.1 332.9,574.2 297.2,586.5 327.9,576.4 334.5,586.8 281.6,574.4 329.8,577.2 309.3,579.9 302.4,582.0 336.6,582.4 325.4,587.2 280.8,583.1 340.3,580.2 303.4,586.6 309.0,573.2 280.6,570.7 334.7,586.6 321.7,584.3 373.3,563.5 296.3,587.7 284.0,581.7 279.6,586.5 286.0,585.6 376.1,580.2 356.9,583.2 324.7,582.5 289.9,569.9 371.1,585.7 345.0,578.2 295.0,580.0 289.0,581.3 348.5,582.6 320.1,586.4 355.6,585.4 290.7,583.3 269.8,582.5 315.7,574.7 340.6,586.6 268.4,585.4 326.1,585.4 342.7,571.2 311.9,586.0 285.7,583.9 296.0,583.8 364.0,541.3 315.7,584.0 330.9,587.5 308.3,585.9 295.9,585.2 337.3,586.7 276.1,584.5 372.7,583.2 275.1,578.6 377.2,585.2 330.1,585.8 373.8,587.4 333.4,586.4 320.5,576.3 269.5,586.3 333.6,586.4 372.9,577.4 310.8,585.4 287.6,587.1 350.0,581.7 355.2,579.5 366.4,580.6 271.4,585.1 273.2,582.6 321.2,573.9 304.5,586.4 376.2,585.7 324.6,585.3 269.7,583.4 298.6,584.5 352.4,581.1 334.0,577.1 323.4,580.3 304.7,579.3 367.1,560.9 304.5,578.5 278.6,576.5 356.6,569.4 321.3,584.4 328.3,575.7 360.4,584.3 301.5,585.0 300.8,567.4 362.0,551.1 300.3,583.8 308.0,581.7 339.4,587.0 347.1,581.6 315.2,587.0 339.7,582.1 335.2,581.5 365.1,578.2 268.8,585.2 285.4,582.1 286.3,582.2 338.8,579.8 305.5,587.4 338.0,580.3 279.8,586.4 348.9,587.4 360.8,579.7 286.6,583.8 345.3,587.6 316.4,586.2 280.1,576.8 330.0,587.6 300.7,584.2 312.4,582.6 372.9,576.4 351.0,581.9 346.0,582.9 307.8,572.0 343.0,587.5 350.8,587.5 357.0,587.7 332.1,568.0 374.6,569.2 311.8,585.3 312.3,586.5 367.7,581.4 354.3,585.4 286.7,587.4 315.8,582.0 274.8,587.2 300.7,586.8 348.5,575.1 308.4,577.5 373.8,586.3 376.8,583.5 365.0,582.8 286.3,587.4 277.2,577.7 336.0,583.2 289.2,573.8 319.0,585.6 340.2,586.3 273.7,583.0 295.6,584.4 372.5,565.3 283.8,581.8 305.5,586.2 308.9,583.9 366.5,531.4 294.9,577.7 356.4,582.3 352.4,583.1 309.1,578.2 323.1,570.3 293.4,584.2 345.9,582.6 279.7,586.0 319.7,578.7 315.6,569.3 309.2,575.4 334.3,583.9 367.5,550.7 323.9,569.4 359.4,585.5 342.2,577.1 371.1,564.5 354.6,586.6 303.1,566.6 359.3,580.9 334.5,584.6 315.4,583.0 304.1,575.3 280.2,586.5 283.1,578.1 301.7,584.6 324.6,582.9 352.6,567.9 356.5,582.9 330.2,582.4 283.7,583.8 377.4,583.9 361.3,565.8 323.1,586.7 318.7,587.1 330.8,587.4 301.6,587.1 299.0,581.3 290.6,585.3 348.2,583.2 276.6,574.8 279.8,586.9 359.0,587.5 333.8,581.9 317.1,585.4 331.0,587.7 297.2,574.9 325.2,582.6 343.4,571.7 276.8,583.0 269.5,587.8 364.3,570.3 326.6,582.0 323.1,579.8 277.1,584.8 327.0,585.1 359.4,555.0 322.0,572.7 329.1,587.5 307.8,584.9 304.6,587.5 277.6,583.0 296.1,569.3 324.0,580.7 274.8,582.2 308.0,580.6 349.4,585.6 325.7,582.6 271.4,583.3 344.4,586.0 296.9,587.6 278.0,584.5 376.8,585.7 356.0,583.4 352.5,568.6 342.8,585.7 328.7,585.9 277.6,584.8 340.0,584.1 338.8,583.7 360.8,586.9 282.6,572.8 374.0,576.5 314.3,587.1 280.2,581.5 332.3,587.3 353.6,577.4 371.9,576.3 363.1,582.3 378.8,582.8 335.0,587.3 293.9,580.5 289.5,581.7 292.4,586.0 344.8,575.3 290.7,570.7 295.1,581.3 365.4,542.6 345.6,568.4 370.7,585.5 342.4,584.2 364.6,572.8 268.7,585.7 322.3,580.5 349.1,575.0 364.2,585.7 304.0,579.0 344.8,566.2 315.8,580.3 371.4,581.5 276.2,584.4 284.9,576.2 350.5,573.8 319.7,587.4 351.6,579.2 336.5,584.5 276.5,575.7 316.5,587.7 372.6,585.4 378.3,584.0 305.3,581.3 277.5,576.2 271.6,585.5 282.9,585.3 324.1,581.3 348.1,581.3 341.9,572.4 330.8,581.6 284.0,586.1 329.6,583.1 356.4,583.6 280.7,579.7 307.3,572.4 336.1,581.9 299.0,566.2 304.6,583.2 371.8,583.4 331.6,583.9 348.1,587.4 352.6,577.9 327.1,579.3 302.5,587.1 276.2,579.7 304.2,584.1 359.6,585.2 300.5,568.6 281.0,575.5 305.8,582.8 317.1,578.3 378.6,586.7 346.8,584.6 363.8,574.6 332.0,585.6 326.6,577.1 335.9,586.2 280.5,576.4 278.0,587.8 348.9,581.3 308.9,571.5 310.6,577.5 356.9,582.4 339.9,585.6 313.2,584.7 286.0,583.7 378.0,581.3 343.2,582.4 281.8,574.0 291.6,579.0 371.8,577.4 275.6,586.5 353.9,584.7 313.9,587.0 358.8,585.9 332.3,586.3 295.8,584.5 307.5,584.4 362.4,583.9 271.6,585.0 289.8,575.7 283.5,575.8 309.7,579.8 321.9,579.1 349.9,585.0 376.3,585.2 354.8,587.0 365.6,583.4 374.8,574.8 292.9,585.1 268.4,585.8 316.8,586.0 333.0,579.5 275.2,581.1 360.7,580.9 348.4,571.8 313.4,583.7 274.7,578.8 345.9,568.3" fill="none" stroke="none" marker-start="url(#mn)" marker-mid="url(#mn)" marker-end="url(#mn)"/>
<circle cx="317.00" cy="537.75" r="1.95" fill="#ffa500" stroke="#000" stroke-width="0.35"/>
<circle cx="316.00" cy="539.86" r="1.95" fill="#006400" stroke="#000" stroke-width="0.35"/>
<circle cx="318.50" cy="541.27" r="1.95" fill="#ffa500" stroke="#000" stroke-width="0.35"/>
<circle cx="320.00" cy="538.45" r="1.95" fill="#ffa500" stroke="#000" stroke-width="0.35"/>
<circle cx="322.50" cy="537.04" r="1.95" fill="#006400" stroke="#000" stroke-width="0.35"/>
<circle cx="323.50" cy="539.15" r="1.95" fill="#006400" stroke="#000" stroke-width="0.35"/>
<circle cx="316.00" cy="545.50" r="1.95" fill="#006400" stroke="#000" stroke-width="0.35"/>
<circle cx="319.50" cy="543.38" r="1.95" fill="#ffa500" stroke="#000" stroke-width="0.35"/>
<circle cx="323.50" cy="545.50" r="1.95" fill="#006400" stroke="#000" stroke-width="0.35"/>
<circle cx="321.00" cy="534.92" r="1.95" fill="#ffa500" stroke="#000" stroke-width="0.35"/>
<circle cx="318.00" cy="563.83" r="1.95" fill="#87ceeb" stroke="#000" stroke-width="0.35"/>
<circle cx="321.00" cy="570.88" r="1.95" fill="#87ceeb" stroke="#000" stroke-width="0.35"/>
<path d="M321.00,529.81 L324.00,532.81 L321.00,535.81 L318.00,532.81Z" fill="#a020f0" stroke="#000" stroke-width="0.35"/>
<line x1="263.90" y1="519.20" x2="263.90" y2="590.40" stroke="#000" stroke-width="0.9"/>
<line x1="263.90" y1="590.40" x2="381.20" y2="590.40" stroke="#000" stroke-width="0.9"/>
<line x1="261.90" y1="587.80" x2="263.90" y2="587.80" stroke="#333" stroke-width="0.6"/>
<text x="260.70" y="590.20" font-size="6.8" text-anchor="end" fill="#4d4d4d">0</text>
<line x1="261.90" y1="573.70" x2="263.90" y2="573.70" stroke="#333" stroke-width="0.6"/>
<text x="260.70" y="576.10" font-size="6.8" text-anchor="end" fill="#4d4d4d">1</text>
<line x1="261.90" y1="559.60" x2="263.90" y2="559.60" stroke="#333" stroke-width="0.6"/>
<text x="260.70" y="562.00" font-size="6.8" text-anchor="end" fill="#4d4d4d">2</text>
<line x1="261.90" y1="545.50" x2="263.90" y2="545.50" stroke="#333" stroke-width="0.6"/>
<text x="260.70" y="547.90" font-size="6.8" text-anchor="end" fill="#4d4d4d">3</text>
<line x1="261.90" y1="531.40" x2="263.90" y2="531.40" stroke="#333" stroke-width="0.6"/>
<text x="260.70" y="533.80" font-size="6.8" text-anchor="end" fill="#4d4d4d">4</text>
<text x="251.60" y="554.60" font-size="7.6" text-anchor="middle" transform="rotate(-90 251.60 554.60)">AD GWAS − log<tspan font-size="5.32" dy="1.90">10</tspan><tspan dy="-1.90">(P)</tspan></text>
<text x="269.60" y="531.30" font-size="9.1">Max. SNP</text>
<text x="269.60" y="541.80" font-size="9.1">PIP=1</text>
<line x1="282.70" y1="590.40" x2="282.70" y2="592.40" stroke="#333" stroke-width="0.6"/>
<text x="282.70" y="598.90" font-size="6.8" text-anchor="middle" fill="#4d4d4d">156.0</text>
<line x1="307.90" y1="590.40" x2="307.90" y2="592.40" stroke="#333" stroke-width="0.6"/>
<text x="307.90" y="598.90" font-size="6.8" text-anchor="middle" fill="#4d4d4d">156.5</text>
<line x1="334.20" y1="590.40" x2="334.20" y2="592.40" stroke="#333" stroke-width="0.6"/>
<text x="334.20" y="598.90" font-size="6.8" text-anchor="middle" fill="#4d4d4d">157.0</text>
<line x1="361.50" y1="590.40" x2="361.50" y2="592.40" stroke="#333" stroke-width="0.6"/>
<text x="361.50" y="598.90" font-size="6.8" text-anchor="middle" fill="#4d4d4d">157.5</text>
<text x="323.00" y="607.20" font-size="7.8" text-anchor="middle">chr1 (Mb)</text>
<rect x="411.31" y="511.69" width="10.83" height="71.41" fill="#a6efc0" stroke="#222" stroke-width="0.7"/>
<rect x="423.47" y="426.78" width="10.83" height="156.32" fill="#49d978" stroke="#222" stroke-width="0.7"/>
<rect x="435.63" y="523.90" width="10.83" height="59.20" fill="#1a9e3f" stroke="#222" stroke-width="0.7"/>
<line x1="409.60" y1="559.05" x2="447.60" y2="559.05" stroke="#000" stroke-width="0.9" stroke-dasharray="3,2"/>
<rect x="409.60" y="419.60" width="38.00" height="170.40" fill="none" stroke="#111" stroke-width="0.9"/>
<line x1="407.60" y1="583.10" x2="409.60" y2="583.10" stroke="#333" stroke-width="0.6"/>
<text x="406.60" y="585.50" font-size="6.8" text-anchor="end" fill="#4d4d4d">0</text>
<line x1="407.60" y1="546.10" x2="409.60" y2="546.10" stroke="#333" stroke-width="0.6"/>
<text x="406.60" y="548.50" font-size="6.8" text-anchor="end" fill="#4d4d4d">2</text>
<line x1="407.60" y1="509.10" x2="409.60" y2="509.10" stroke="#333" stroke-width="0.6"/>
<text x="406.60" y="511.50" font-size="6.8" text-anchor="end" fill="#4d4d4d">4</text>
<line x1="407.60" y1="472.10" x2="409.60" y2="472.10" stroke="#333" stroke-width="0.6"/>
<text x="406.60" y="474.50" font-size="6.8" text-anchor="end" fill="#4d4d4d">6</text>
<line x1="407.60" y1="435.10" x2="409.60" y2="435.10" stroke="#333" stroke-width="0.6"/>
<text x="406.60" y="437.50" font-size="6.8" text-anchor="end" fill="#4d4d4d">8</text>
<line x1="416.73" y1="590.00" x2="416.73" y2="592.00" stroke="#333" stroke-width="0.6"/>
<text x="420.62" y="597.90" font-size="6.6" text-anchor="end" fill="#4d4d4d" transform="rotate(-45 420.62 597.90)">GenT</text>
<line x1="428.89" y1="590.00" x2="428.89" y2="592.00" stroke="#333" stroke-width="0.6"/>
<text x="432.79" y="597.90" font-size="6.6" text-anchor="end" fill="#4d4d4d" transform="rotate(-45 432.79 597.90)">xGenT</text>
<line x1="441.05" y1="590.00" x2="441.05" y2="592.00" stroke="#333" stroke-width="0.6"/>
<text x="444.94" y="597.90" font-size="6.6" text-anchor="end" fill="#4d4d4d" transform="rotate(-45 444.94 597.90)">MuGenT</text>
<text x="450.34" y="603.40" font-size="6.6" text-anchor="end" fill="#4d4d4d" transform="rotate(-45 450.34 603.40)">(eQTLs)</text>
<text x="395.50" y="505.5" font-size="8.2" text-anchor="middle" transform="rotate(-90 395.50 505.5)">-log<tspan font-size="5.7" dy="2.1">10</tspan><tspan dy="-2.1">(P-value)</tspan></text>
<text x="546.20" y="424.60" font-size="9.1" text-anchor="middle">RIOK1, Hippocampus tissue</text>
<path d="M512.9,502.9 501.4,495.9 593.9,498.5 513.0,492.7 590.7,501.3 533.8,499.7 494.8,500.9 533.3,500.8 510.1,498.8 582.9,493.8 577.5,498.8 497.9,502.3 564.5,502.3 564.7,494.0 567.5,496.1 499.4,499.6 550.2,500.8 594.1,501.9 494.1,501.3 554.4,491.2 551.2,499.6 521.5,492.3 601.0,497.8 520.4,499.6 494.4,498.2 518.7,500.5 519.3,500.9 549.7,502.5 525.1,502.9 596.8,502.3 560.8,500.2 558.0,502.2 583.2,491.7 566.2,497.7 536.8,500.8 588.0,503.0 592.2,502.7 563.5,502.4 598.3,501.5 586.6,496.6 556.4,490.0 595.9,499.4 600.8,499.7 503.2,501.0 537.9,502.3 579.2,501.6 543.5,501.0 518.4,486.2 595.7,502.7 550.8,491.8 539.8,502.0 588.1,502.8 560.5,493.4 552.3,495.6 498.4,499.9 526.8,502.9 542.3,495.3 570.4,499.2 502.0,497.3 520.6,501.8 537.5,489.9 494.6,497.9 515.1,498.8 587.0,499.8 559.6,487.9 526.3,500.8 543.4,497.0 587.2,501.3 539.8,498.7 596.8,501.7 519.2,501.9 551.2,501.8 530.5,502.0 544.8,503.0 551.2,496.6 531.5,502.6 549.8,500.8 510.2,501.6 567.9,502.7 556.1,499.1 597.5,496.2 540.1,502.2 527.8,498.9 504.0,502.7 600.9,500.1 508.6,502.6 600.5,502.0 495.3,502.8 574.7,500.0 528.7,493.1 576.4,497.4 531.2,501.3 558.2,501.0 507.0,498.8 558.8,500.3 503.6,502.2 589.7,501.2 561.4,498.4 511.3,500.6 578.5,500.2 591.4,498.4 543.4,498.1 552.6,494.7 520.4,496.0 555.5,501.4 584.4,492.1 496.1,500.7 503.7,499.7 511.2,501.6 599.2,492.4 549.1,501.6 517.9,500.3 554.9,496.8 553.9,498.7 566.3,501.5 600.7,501.0 582.5,501.2 545.6,496.1 589.5,502.7 552.0,502.7 602.3,493.7 538.6,501.1 534.5,500.7 566.0,497.0 591.1,500.4 570.1,499.1 495.8,502.8 518.5,501.4 505.3,501.1 560.7,493.4 594.9,498.0 512.3,501.7 570.7,494.4 521.6,496.5 562.2,498.7 594.7,500.9 571.2,495.1 546.0,499.0 557.7,499.3 569.1,496.1 520.7,501.3 495.5,500.9 585.8,498.3 542.6,501.0 504.8,500.7 551.5,502.3 586.1,500.8 511.1,500.1 530.0,502.7 502.5,502.3 527.7,502.4 599.5,500.2 599.7,500.5 540.3,498.2 550.9,487.6 577.6,501.7 527.3,498.7 529.1,498.1 536.8,500.6 581.0,492.3 567.7,502.4 597.1,502.7 493.5,500.5 592.7,503.0 561.1,500.4 515.5,500.2 587.7,500.5 543.4,490.4 578.7,497.9 594.5,501.8 565.6,500.6 554.5,501.0 588.1,501.8 571.4,502.6 494.6,501.5 577.6,495.8 498.0,501.0 590.0,498.3 508.2,501.2 497.0,499.9 560.1,501.4 510.6,502.8 558.2,500.6 537.4,500.8 509.8,502.4 550.5,499.3 532.4,497.8 504.4,493.7 533.8,502.5 523.3,499.2 548.5,501.8 590.1,500.8 542.5,498.4 547.3,500.0 602.6,502.7 554.4,499.9 535.3,498.0 507.6,501.6 532.5,497.2 575.9,499.2 518.7,500.5 500.7,502.8 535.5,499.6 532.4,502.9 545.4,502.5 571.8,497.5 529.2,500.3 566.3,502.9 550.2,498.8 494.6,502.7 569.0,502.8 504.4,499.0 588.2,502.4 579.5,502.8 559.2,500.2 501.7,499.2 526.6,501.7 596.7,498.5 595.5,499.5 540.2,500.8 584.5,491.3 582.4,495.2 541.7,501.8 538.6,492.8 555.5,499.7 515.5,502.7 582.0,491.4 600.7,502.7 507.3,502.3 563.7,498.6 602.8,502.6 525.9,501.5 515.1,489.6 564.7,500.0 582.2,502.2 537.2,500.7 601.7,503.0 494.8,491.9 543.1,493.5 578.9,502.6 494.9,501.0 513.4,502.8 603.6,502.0 524.6,500.3 551.3,500.1 557.3,495.7 505.3,491.0 549.9,498.6 518.8,498.9 547.9,500.8 528.4,502.6 513.2,502.5 590.0,501.3 580.4,500.8 594.8,498.6 568.5,490.6 537.8,495.1 599.2,502.2 522.6,497.6 512.4,496.1 528.7,502.8 560.5,502.5 578.6,499.7 562.2,498.6 527.6,500.3 603.1,499.3 550.2,497.6 496.6,502.5 547.3,500.9 594.4,501.3 502.9,500.9 530.8,503.0 582.8,490.0 510.5,501.7 549.6,502.1 551.2,501.3 523.3,498.6 514.4,501.9 565.1,501.4 565.2,494.4 508.8,500.7 540.6,502.2 584.0,500.4 525.7,496.6 583.9,494.8 513.6,501.0 527.3,500.1 512.1,502.9 557.3,498.8 573.3,497.7 563.1,496.6 548.0,493.4 554.7,502.1 557.1,493.3 603.4,501.1 498.7,500.8 508.3,502.3 506.8,500.3 501.1,500.7 510.2,502.8 527.0,494.2 532.3,501.8 580.3,501.8 512.3,501.3 526.4,500.2 575.7,502.5 531.8,502.7 522.6,498.4 580.4,501.4 532.8,502.3 589.5,500.2 524.5,501.9 577.7,501.9 570.7,497.9 549.1,502.5 507.6,497.5 559.4,493.4 499.9,502.8 547.5,501.3 571.4,500.5 515.3,500.3 552.3,498.5 596.5,498.4 509.0,497.3 602.1,496.7 592.8,500.8 506.5,502.3 508.9,500.5 529.8,502.6 584.0,501.4 523.2,500.7 535.5,502.0 554.1,502.4 499.9,499.3 523.9,493.2 579.0,502.9 530.4,502.8 577.4,501.3 591.3,501.1 584.7,498.9 550.0,501.0 556.6,495.1 561.0,501.0 529.6,499.1 574.5,499.3 530.8,493.5 529.5,500.9 517.3,497.7 531.5,501.1 508.2,497.4 528.3,500.6 512.1,502.3 558.0,495.5 493.8,499.2 567.3,502.8 572.3,502.3 562.9,502.3 574.9,502.7 581.8,500.3 513.3,502.8 536.5,499.7 534.0,501.7 562.7,499.4 531.5,492.7 599.2,497.4 547.5,498.5 508.9,502.3 496.2,500.5 507.0,501.9 589.4,478.0 502.4,501.9 518.5,496.3 493.5,501.7 554.2,501.8 593.4,499.0 573.3,502.8 539.1,499.9 549.4,491.1 502.0,502.9 538.6,500.8 522.2,502.3 525.3,501.4 547.5,494.9 546.6,502.7 537.1,500.4 503.7,501.6 583.2,496.2 503.3,501.6 569.0,501.8 501.7,501.8 499.4,502.8 554.6,492.5 511.6,500.2 565.1,498.9 550.7,501.7 529.6,491.3 515.1,502.5 517.6,495.8 563.6,498.6 509.2,497.0 554.3,497.2 597.7,498.5 603.9,498.3 573.5,502.5 527.9,501.8 593.3,498.7 494.5,495.4 500.2,502.4 522.5,489.6 565.5,498.0 588.0,500.7 531.4,500.7 548.0,500.3 494.4,501.5 502.1,498.1 586.0,493.8 579.1,497.5 528.7,502.3 575.0,499.2 597.6,498.2 553.5,501.4 561.9,500.2 498.9,502.4 561.9,497.1 553.5,494.2 560.8,501.1 603.3,499.3 554.8,498.5 573.7,502.4 542.2,500.2 547.1,498.9 566.7,498.8 545.9,499.8 513.2,502.4 514.4,495.5 503.4,493.9 582.0,502.5 541.2,495.8 581.3,502.3 588.6,496.8 502.7,494.4 538.4,502.1 599.0,491.7 593.7,500.9 565.5,499.9 591.3,499.9 599.9,500.3 590.9,497.3 580.4,500.7 511.6,498.9 562.3,497.3 543.9,491.9 522.0,491.6 548.1,500.4 569.7,497.0 599.1,502.8 568.4,495.8 563.9,498.4 512.2,502.4 521.6,498.9 535.8,500.8 527.3,499.0 547.3,499.8 560.4,495.1 577.2,502.4 519.5,502.4 585.4,502.8 595.3,492.4 572.2,500.8 500.1,499.5 545.4,498.4 548.9,493.5 581.4,494.1 599.9,502.5 541.2,499.9 556.8,501.2 530.2,501.8 549.0,500.2 602.6,498.8 496.4,502.2 593.1,498.6 505.8,502.1 595.5,502.5 515.4,500.6 575.3,499.4 568.5,501.0 525.7,499.6 593.8,502.4 595.5,500.0 521.9,499.7 523.5,501.9 575.7,500.6 598.4,499.1 556.0,502.2 515.7,502.4 509.0,502.2 578.4,502.0 559.2,499.0 574.1,501.4 519.6,495.8 530.2,501.4 586.6,491.4 552.8,502.5 497.7,500.6 519.8,496.6 512.1,502.6 545.6,499.6 555.5,499.5 536.6,500.7 513.3,501.1 532.7,501.9 511.3,503.0 502.4,502.8 550.0,500.0 524.9,501.6 559.7,490.7 577.6,497.2 510.0,502.6 549.7,501.0 523.6,501.2 505.8,500.0 559.3,493.3 555.7,492.2 541.8,497.2 506.2,502.2 556.6,498.0 549.9,495.2 521.9,500.3 560.2,502.5 596.5,497.7 591.7,498.9 513.1,500.6 495.2,502.8 601.4,496.2 599.0,502.1 575.3,499.9 594.3,499.5 511.2,500.0 536.4,501.9 589.8,502.2 582.9,489.7 595.7,500.9 576.5,501.9 515.5,501.3 545.1,501.2 545.1,501.7 602.6,497.6 594.3,500.6 579.4,501.7 565.9,501.6 562.9,501.4 567.5,500.8 513.7,499.8 559.0,499.4 581.1,501.7 564.4,497.4 577.3,501.2 542.3,494.4 507.0,502.6 598.8,497.3 575.9,501.8 497.0,498.8 539.3,493.2 578.5,498.0 554.4,493.2 516.9,497.6 584.0,499.4 518.2,499.7 558.7,499.1 586.2,501.4 536.8,497.9 590.8,500.0 531.7,500.4 534.5,502.2 540.0,500.0 518.0,502.7 556.6,498.2 598.4,500.9 499.6,501.0 565.6,500.9 507.5,501.2 584.2,499.2 572.4,499.7 599.6,496.2 555.7,500.8 528.0,501.9 523.2,492.9 533.4,502.3 536.8,490.2 548.4,503.0 591.2,501.1 545.8,501.4 555.9,502.4 567.9,495.2 516.0,501.9 507.2,502.0 545.5,496.0 583.0,501.0 498.4,499.7 527.9,499.2 514.1,500.8 594.6,502.4 562.0,500.5 525.8,499.0 568.3,496.8 561.5,502.5 494.9,501.9 558.7,499.0 544.5,502.3 538.4,500.4 502.6,500.0 494.8,500.5" fill="none" stroke="none" marker-start="url(#mn)" marker-mid="url(#mn)" marker-end="url(#mn)"/>
<circle cx="554.73" cy="457.38" r="1.95" fill="#ffa500" stroke="#000" stroke-width="0.35"/>
<circle cx="548.15" cy="453.11" r="1.95" fill="#ffa500" stroke="#000" stroke-width="0.35"/>
<circle cx="545.44" cy="453.55" r="1.95" fill="#ffa500" stroke="#000" stroke-width="0.35"/>
<circle cx="551.79" cy="455.12" r="1.95" fill="#ffa500" stroke="#000" stroke-width="0.35"/>
<circle cx="553.62" cy="455.31" r="1.95" fill="#ffa500" stroke="#000" stroke-width="0.35"/>
<circle cx="554.27" cy="446.81" r="1.95" fill="#ffa500" stroke="#000" stroke-width="0.35"/>
<circle cx="546.56" cy="444.21" r="1.95" fill="#ffa500" stroke="#000" stroke-width="0.35"/>
<circle cx="545.77" cy="452.42" r="1.95" fill="#ffa500" stroke="#000" stroke-width="0.35"/>
<circle cx="548.16" cy="444.55" r="1.95" fill="#ffa500" stroke="#000" stroke-width="0.35"/>
<circle cx="547.79" cy="457.81" r="1.95" fill="#ffa500" stroke="#000" stroke-width="0.35"/>
<circle cx="554.04" cy="447.85" r="1.95" fill="#ffa500" stroke="#000" stroke-width="0.35"/>
<circle cx="552.68" cy="460.35" r="1.95" fill="#ffa500" stroke="#000" stroke-width="0.35"/>
<circle cx="545.91" cy="458.01" r="1.95" fill="#ffa500" stroke="#000" stroke-width="0.35"/>
<circle cx="548.55" cy="447.10" r="1.95" fill="#ffa500" stroke="#000" stroke-width="0.35"/>
<circle cx="547.73" cy="456.64" r="1.95" fill="#ffa500" stroke="#000" stroke-width="0.35"/>
<circle cx="551.37" cy="444.28" r="1.95" fill="#ffa500" stroke="#000" stroke-width="0.35"/>
<circle cx="547.93" cy="460.99" r="1.95" fill="#ffa500" stroke="#000" stroke-width="0.35"/>
<circle cx="549.14" cy="447.56" r="1.95" fill="#ffa500" stroke="#000" stroke-width="0.35"/>
<circle cx="547.80" cy="434.12" r="1.95" fill="#ffa500" stroke="#000" stroke-width="0.35"/>
<circle cx="546.00" cy="455.44" r="1.95" fill="#ff0000" stroke="#000" stroke-width="0.35"/>
<circle cx="547.50" cy="457.08" r="1.95" fill="#ff0000" stroke="#000" stroke-width="0.35"/>
<circle cx="544.50" cy="462.00" r="1.95" fill="#ffa500" stroke="#000" stroke-width="0.35"/>
<circle cx="544.00" cy="475.94" r="1.95" fill="#006400" stroke="#000" stroke-width="0.35"/>
<circle cx="545.00" cy="473.48" r="1.95" fill="#87ceeb" stroke="#000" stroke-width="0.35"/>
<circle cx="548.00" cy="471.84" r="1.95" fill="#87ceeb" stroke="#000" stroke-width="0.35"/>
<circle cx="550.00" cy="471.02" r="1.95" fill="#87ceeb" stroke="#000" stroke-width="0.35"/>
<circle cx="547.00" cy="478.40" r="1.95" fill="#87ceeb" stroke="#000" stroke-width="0.35"/>
<circle cx="552.50" cy="479.22" r="1.95" fill="#006400" stroke="#000" stroke-width="0.35"/>
<circle cx="553.00" cy="481.68" r="1.95" fill="#87ceeb" stroke="#000" stroke-width="0.35"/>
<circle cx="545.00" cy="482.50" r="1.95" fill="#87ceeb" stroke="#000" stroke-width="0.35"/>
<circle cx="551.00" cy="471.43" r="1.95" fill="#87ceeb" stroke="#000" stroke-width="0.35"/>
<path d="M547.80,462.28 L550.80,465.28 L547.80,468.28 L544.80,465.28Z" fill="#a020f0" stroke="#000" stroke-width="0.35"/>
<line x1="489.10" y1="430.80" x2="489.10" y2="505.70" stroke="#000" stroke-width="0.9"/>
<line x1="489.10" y1="505.70" x2="607.30" y2="505.70" stroke="#000" stroke-width="0.9"/>
<line x1="487.10" y1="503.00" x2="489.10" y2="503.00" stroke="#333" stroke-width="0.6"/>
<text x="485.90" y="505.40" font-size="6.8" text-anchor="end" fill="#4d4d4d">0</text>
<line x1="487.10" y1="486.60" x2="489.10" y2="486.60" stroke="#333" stroke-width="0.6"/>
<text x="485.90" y="489.00" font-size="6.8" text-anchor="end" fill="#4d4d4d">2</text>
<line x1="487.10" y1="470.20" x2="489.10" y2="470.20" stroke="#333" stroke-width="0.6"/>
<text x="485.90" y="472.60" font-size="6.8" text-anchor="end" fill="#4d4d4d">4</text>
<line x1="487.10" y1="453.80" x2="489.10" y2="453.80" stroke="#333" stroke-width="0.6"/>
<text x="485.90" y="456.20" font-size="6.8" text-anchor="end" fill="#4d4d4d">6</text>
<line x1="487.10" y1="437.40" x2="489.10" y2="437.40" stroke="#333" stroke-width="0.6"/>
<text x="485.90" y="439.80" font-size="6.8" text-anchor="end" fill="#4d4d4d">8</text>
<rect x="582.40" y="439.80" width="10.60" height="5.90" fill="#ff0000" stroke="#000" stroke-width="0.6"/>
<rect x="582.40" y="445.70" width="10.60" height="5.90" fill="#ffa500" stroke="#000" stroke-width="0.6"/>
<rect x="582.40" y="451.60" width="10.60" height="5.90" fill="#006400" stroke="#000" stroke-width="0.6"/>
<rect x="582.40" y="457.50" width="10.60" height="5.90" fill="#87ceeb" stroke="#000" stroke-width="0.6"/>
<rect x="582.40" y="463.40" width="10.60" height="5.90" fill="#00007f" stroke="#000" stroke-width="0.6"/>
<text x="596.30" y="448.00" font-size="6.3">0.8</text>
<text x="596.30" y="453.90" font-size="6.3">0.6</text>
<text x="596.30" y="459.80" font-size="6.3">0.4</text>
<text x="596.30" y="465.70" font-size="6.3">0.2</text>
<text x="591.70" y="434.60" font-size="6.5">r<tspan font-size="4.6" dy="-2.6">2</tspan></text>
<text x="476.80" y="467.90" font-size="7.6" text-anchor="middle" transform="rotate(-90 476.80 467.90)">eQTL − log<tspan font-size="5.32" dy="1.90">10</tspan><tspan dy="-1.90">(P)</tspan></text>
<path d="M500.4,561.2 534.2,567.6 550.0,574.9 535.0,579.5 557.0,574.8 498.1,587.7 599.5,580.5 545.1,584.9 499.5,585.7 593.7,579.9 553.1,567.8 570.7,579.9 556.6,579.4 593.7,580.7 593.2,577.3 500.4,587.0 594.1,571.3 577.0,576.3 575.7,580.7 542.7,581.2 533.8,587.7 590.5,578.7 596.1,586.5 517.2,585.7 593.4,574.2 519.4,581.7 557.8,584.6 499.8,565.3 539.0,580.5 566.8,569.0 537.5,563.4 526.4,566.3 547.5,576.0 528.3,574.9 522.9,577.1 521.1,567.2 548.5,584.8 524.0,573.8 585.0,571.3 592.1,562.5 590.8,566.7 569.5,576.3 555.5,571.2 585.4,563.6 587.4,563.1 570.1,578.4 566.4,585.2 513.8,580.8 555.9,582.0 591.4,572.4 602.6,583.8 526.8,584.9 595.6,587.5 528.0,580.7 563.2,582.5 593.9,578.5 561.3,578.2 515.0,583.1 535.5,579.3 506.5,571.4 555.5,582.7 504.0,575.7 504.3,578.6 563.8,574.9 583.9,573.6 529.2,522.6 504.4,579.7 592.6,587.3 525.7,562.8 513.8,584.5 522.4,568.6 546.9,566.5 567.6,581.7 525.7,572.1 539.2,582.6 546.3,587.4 593.1,580.4 536.5,581.9 538.3,584.5 501.5,585.3 513.7,586.2 502.8,583.7 592.2,581.5 586.9,582.7 506.7,579.0 520.5,573.2 498.8,579.6 497.0,566.3 600.5,568.9 500.7,581.1 571.4,577.2 514.8,567.9 554.5,580.7 564.9,586.4 576.9,579.4 494.8,587.6 598.8,562.9 514.3,574.4 508.0,587.1 594.7,579.2 496.2,584.9 547.2,580.8 581.1,583.7 553.7,567.9 504.1,584.3 520.2,581.4 510.3,583.7 598.0,575.9 505.3,574.3 493.6,582.0 494.2,569.9 562.9,582.6 603.2,575.2 495.3,578.2 534.1,587.3 522.6,566.0 531.1,584.1 573.9,570.6 589.5,576.4 537.1,578.6 507.2,579.7 513.5,586.2 531.3,581.1 583.1,587.5 565.3,565.7 591.5,555.9 575.5,582.8 556.1,568.0 554.1,585.1 500.0,586.3 551.4,575.7 563.7,576.8 494.1,576.2 537.1,581.0 536.5,585.1 509.3,575.7 559.6,584.6 600.1,583.7 574.0,586.8 526.6,582.3 505.5,582.6 603.8,577.1 504.3,579.3 586.5,555.8 505.6,583.3 573.9,575.6 529.7,577.7 524.5,573.6 494.1,585.1 573.2,582.9 599.3,587.2 550.1,576.8 503.3,587.8 503.0,566.4 582.8,571.2 577.4,565.3 528.9,576.8 513.0,577.2 597.9,569.3 499.8,571.0 496.3,581.4 593.0,568.5 578.7,575.7 582.0,573.6 554.9,584.7 524.7,571.1 594.1,565.9 513.2,573.0 567.5,579.5 498.3,559.8 523.5,584.6 555.0,581.2 569.0,583.0 561.0,581.5 530.4,583.3 517.6,579.5 527.7,572.0 591.0,571.3 572.9,587.7 565.1,584.9 518.8,581.1 549.2,576.4 577.2,578.9 602.6,580.1 595.5,567.3 559.3,584.2 523.5,584.5 507.5,582.5 597.1,574.8 500.5,559.5 602.6,584.9 513.1,566.7 549.7,584.4 517.6,582.7 560.9,586.1 536.0,581.8 521.3,580.9 552.9,581.9 567.4,583.5 556.9,569.3 577.4,583.9 535.3,587.7 529.5,585.7 597.7,581.0 526.4,576.3 525.9,573.3 518.7,585.8 510.2,579.0 552.6,570.4 525.5,561.4 512.5,581.0 576.7,575.3 542.3,581.9 569.5,577.0 508.5,586.1 533.2,586.9 495.7,578.2 517.0,584.7 575.0,576.5 578.0,567.6 529.5,584.3 557.3,569.5 515.7,577.8 572.6,582.4 554.7,586.9 556.3,581.7 576.9,586.5 586.4,562.5 511.3,587.4 569.0,586.1 590.7,586.5 581.2,577.3 551.0,575.2 576.5,578.6 583.8,579.0 589.6,580.4 576.7,583.2 522.7,577.8 506.8,581.3 600.9,580.6 567.9,578.2 503.9,586.9 530.0,585.9 504.8,575.9 544.9,577.4 589.6,546.3 587.5,582.4 570.2,571.7 506.2,581.7 563.7,586.7 574.7,583.2 552.7,586.2 560.2,583.4 573.3,568.3 547.9,577.6 551.5,584.2 597.2,587.7 519.8,586.2 548.9,581.1 592.0,570.5 519.9,583.6 528.9,572.8 532.3,587.1 526.4,580.6 501.4,561.4 567.4,576.8 569.5,576.8 596.6,579.4 543.2,581.0 564.5,578.9 555.3,583.6 553.9,582.0 572.8,577.1 503.8,578.6 547.9,586.2 524.6,585.0 515.0,585.3 602.5,579.9 522.8,587.6 582.0,586.1 536.4,580.9 580.2,571.5 586.3,585.0 600.2,587.7 532.1,584.7 511.0,582.1 530.1,587.6 497.3,586.3 499.3,559.3 539.8,570.1 530.5,584.1 508.1,586.5 495.6,569.7 522.2,579.6 590.8,567.0 586.0,583.2 531.3,576.2 494.1,583.8 518.7,583.4 594.4,573.1 525.2,581.4 520.6,587.5 562.1,576.5 526.2,581.9 520.7,576.6 513.8,576.0 532.4,578.6 582.5,567.9 505.7,582.1 589.3,583.0 534.6,587.2 589.1,571.2 586.3,571.9 594.4,584.2 568.0,583.3 511.0,587.6 553.9,585.8 545.0,578.2 598.7,585.0 572.6,577.7 501.9,586.7 516.2,579.0 530.4,566.1 590.9,566.5 546.9,561.7 546.2,578.7 509.9,585.4 567.5,587.0 537.8,587.7 507.7,586.6 594.7,579.8 514.7,576.9 510.4,573.7 530.2,584.3 507.8,585.2 524.5,564.1 513.4,584.5 590.5,561.5 514.5,574.8 517.6,584.5 582.3,575.7 566.3,575.0 565.3,584.3 573.1,586.1 591.3,552.9 509.3,582.6 505.8,583.9 536.0,584.2 509.4,582.2 564.9,587.5 596.5,577.5 580.4,580.3 511.2,582.3 531.9,581.7 570.7,569.9 509.3,576.5 547.9,585.7 498.3,564.8 518.8,566.4 571.0,562.4 569.7,582.0 578.6,585.4 513.4,587.6 528.4,582.5 580.3,575.1 529.0,568.1 565.3,577.4 510.0,580.4 564.6,580.4 559.6,583.7 577.7,562.0 506.7,558.6 506.5,582.4 556.6,572.6 575.9,572.9 573.1,560.1 533.8,584.9 579.2,581.3 523.6,557.9 599.9,586.0 584.0,581.0 505.1,575.8 561.4,581.8 559.7,580.8 530.1,586.5 587.9,587.2 554.6,566.9 591.9,563.2 586.2,575.7 553.1,580.3 549.9,563.6 602.5,580.6 594.7,577.8 518.0,584.8 573.5,586.8 597.1,583.0 536.5,586.5 522.8,569.9 504.0,581.3 573.9,573.2 504.3,557.7 519.5,586.5 505.9,572.2 526.3,582.3 581.4,587.3 556.1,584.2 563.7,583.8 569.6,568.8 602.1,580.2 537.3,563.8 548.6,587.4 571.1,574.3 559.8,584.4 497.2,582.4 576.0,587.7 548.0,583.9 585.2,579.4 541.4,572.5 583.0,577.8 502.3,581.7 603.4,585.6 550.8,571.6 586.3,583.0 593.0,574.9 508.5,587.7 493.7,578.6 578.4,571.3 591.6,584.0 594.5,576.6 559.6,587.0 560.9,572.3 499.0,583.8 510.8,583.6 563.6,579.6 599.2,584.3 516.0,584.8 545.5,583.5 520.5,581.2 603.3,583.3 513.5,578.2 573.2,581.1 581.0,580.7 520.6,581.6 563.8,582.9 504.3,581.0 560.1,581.9 568.1,585.8 554.6,581.5 494.7,571.3 560.4,580.4 511.1,586.4 499.3,573.9 551.7,580.9 584.8,576.6 533.7,571.4 576.4,579.5 560.7,575.1 499.7,570.6 524.8,585.7 558.8,584.7 545.0,579.0 569.6,583.0 577.3,579.6 565.4,580.9 531.3,575.9 604.0,558.6 580.1,574.7 502.2,572.1 516.8,586.1 548.5,575.7 562.7,576.1 572.6,585.2 574.7,570.4 514.7,579.4 568.4,584.2 513.0,576.3 556.5,586.0 513.8,582.2 557.6,580.7 545.6,576.7 509.7,580.0 496.3,582.0 562.2,581.8 501.5,574.9 569.3,574.2 523.2,569.4 553.2,576.5 585.3,585.6 563.3,586.4 538.4,582.1 498.0,577.9 601.6,583.1 542.1,585.1 588.8,568.0 550.7,582.6 575.8,579.5 599.2,585.2 560.5,585.5 589.8,583.6 493.7,567.8 571.2,577.9 585.7,587.0 556.9,579.7 584.1,567.0 558.5,569.5 544.3,582.3 560.9,564.6 547.3,577.2 584.5,584.1 592.2,580.8 522.2,576.0 600.7,585.4 550.6,570.3 514.6,564.8 513.7,580.6 590.0,564.9 531.7,577.5 600.1,579.0 525.3,575.0 520.2,581.4 540.0,586.6 548.6,583.0 528.5,567.3 577.9,564.2 568.2,577.6 504.7,574.9 525.8,569.4 517.8,583.9 496.3,566.4 585.4,577.0 562.8,581.4 506.1,583.0 536.8,578.2 562.6,586.5 600.9,576.9 534.0,580.9 579.3,579.9 510.7,565.5 511.6,582.3 597.7,578.6 583.0,581.0 551.7,577.4 594.2,585.2 577.4,580.4 516.4,580.7 580.6,581.3 500.1,576.3 579.5,583.4 513.8,575.1 533.8,587.0 602.4,584.6 495.8,571.0 602.5,587.4 540.3,574.9 554.8,577.8 555.5,587.7 599.1,586.3 598.7,587.8 558.8,579.6 578.8,586.1 514.3,583.9 578.7,586.6 524.6,580.6 573.1,575.7 495.4,576.5 579.5,585.3 547.0,583.4 500.2,563.0 518.9,580.7 544.3,579.7 563.6,569.5 494.4,561.7 592.9,572.0 545.0,580.6 527.8,583.0 535.0,587.8 575.8,562.6 578.4,578.8 535.8,573.5 542.9,586.8 592.8,564.4 582.2,586.7 549.4,582.2 543.8,568.4 590.6,571.8 504.7,581.6 520.7,587.1 537.6,582.3 541.1,575.0 547.0,585.1 573.3,584.0 502.0,571.0 555.2,558.2 529.6,569.8 550.3,572.0 515.6,574.6 587.5,586.0 542.6,585.8 513.7,580.1 563.0,580.0 549.7,582.0 597.3,568.8 536.1,582.1 560.4,576.3 532.0,582.6 502.1,574.8 529.2,584.8 495.7,575.5 588.2,585.7 585.3,587.7 601.7,560.3 510.3,567.4 532.5,575.5 573.8,574.5 565.6,585.4 595.8,575.6 540.6,572.2 537.0,562.1 523.8,572.0 495.0,577.7 516.5,579.9 519.1,559.5 541.2,579.2 602.6,586.8 514.8,583.5 592.9,554.8 547.2,583.4 594.6,586.1 576.8,587.8 591.1,576.8 554.4,583.5 540.8,587.0 561.5,586.7 591.9,587.3 592.6,581.1 592.3,574.9 600.4,587.0 569.3,584.5 600.2,587.7 548.1,565.5 579.4,568.9 599.8,577.5 537.1,586.3 499.0,563.0 535.8,576.4 528.0,565.2 569.5,586.3 539.0,565.1 591.9,583.1 580.6,586.5 501.3,582.3 551.2,584.3 522.5,586.7 543.9,585.3 540.6,586.3 582.6,581.6 551.4,580.3 596.4,578.6 532.6,585.1 551.6,571.9 528.6,573.5 590.1,569.6 532.3,573.5 506.7,577.8 549.2,585.5 594.2,581.2 538.7,579.7 535.3,585.1 566.0,581.3 565.7,574.9 592.8,585.1 558.3,582.5 527.4,581.5 591.0,563.8 560.1,585.8 568.0,579.5 563.0,586.7 543.8,584.8 532.6,587.0 598.9,581.6 585.1,566.0 528.7,585.3 584.7,581.8 540.4,570.4 585.4,576.5 561.1,571.8 496.2,583.3 558.3,584.8 574.1,582.0 504.7,586.5 517.3,585.8 531.3,575.6 586.0,577.4 560.1,579.5 598.0,575.6 549.5,581.0 504.4,581.1 533.6,583.9 535.9,583.8 593.8,575.6 534.5,586.0 552.2,566.1 519.2,580.6 586.7,555.3 599.7,584.9 506.6,573.6 568.5,586.8 523.8,571.0 603.4,562.4 565.9,582.3 582.3,574.5 516.4,584.1 533.5,584.4 504.9,569.1 564.9,578.6 584.2,581.0 565.6,577.4 534.5,578.1 571.8,572.9 495.3,577.5 603.4,583.1 500.0,576.2 597.3,579.6 533.4,559.4 570.8,579.9 593.9,569.6 533.4,582.3 563.6,586.8 524.8,574.6 581.6,586.2 577.4,583.7 534.4,568.2 575.7,576.3 524.6,581.2 595.6,577.5 560.6,573.3 542.5,580.3 523.4,581.4 504.7,583.0 518.2,585.2 530.1,583.9 516.8,581.4 541.6,576.3 528.3,586.9 566.1,584.4 573.0,561.4 508.1,581.2 559.3,584.7 603.3,578.2 589.3,580.3 592.4,555.7 600.1,583.3 529.1,586.9 551.0,578.6 596.4,576.0 559.5,567.5 577.3,577.7 586.1,573.7 508.1,584.5 530.5,573.0 544.9,582.4 586.7,573.5 550.6,573.6 557.1,566.4 603.7,582.2 570.9,586.4 585.0,580.2 562.1,584.3 498.4,567.7 543.7,585.0 500.1,566.2 505.1,578.0 518.4,583.7 533.1,585.4 567.1,587.3 593.7,581.9 493.5,584.3 519.9,580.3 566.7,585.4 524.0,583.9 571.6,580.1 562.4,572.0 558.4,581.3 531.9,586.9 505.6,580.8 577.6,581.1 497.3,586.7 516.6,582.8 580.3,582.0 499.9,578.1 543.5,587.1 519.5,585.3 529.4,576.0 557.3,586.7 501.6,585.4 539.0,587.5 554.5,579.0 543.4,584.8 540.9,584.8 596.5,580.9 602.4,585.8 539.9,587.8 553.1,583.7 512.8,585.5 600.5,576.6 583.1,568.8 601.8,581.4 567.8,579.6 602.7,575.6 511.1,576.6 553.1,585.5 548.1,586.4 575.2,568.9 600.4,586.9 502.9,586.7 590.0,569.3 541.6,578.2 529.3,572.9 594.7,584.2 590.8,569.0 497.0,581.9 549.3,585.2 512.2,577.9 506.9,583.3 521.9,584.4 508.1,580.9 566.1,580.4 532.8,574.7 570.0,587.6 522.8,581.1 507.5,567.7 495.3,583.1 590.8,582.1 571.3,573.8 594.1,577.4 574.0,563.8 543.2,560.5 593.1,582.0 600.3,579.0 584.3,583.2 537.6,587.8 576.8,575.6 538.4,587.0 579.7,572.1 549.0,581.8 601.8,586.1 534.6,587.5 514.6,571.5 596.9,582.3 500.2,564.4 594.4,568.7 521.2,586.2 546.3,567.4 513.8,578.2 570.9,567.3 569.7,574.3 495.8,582.4 497.7,580.5 536.2,567.2 592.8,583.4 495.3,587.3 556.0,575.9 505.7,569.5 571.5,579.7 551.6,572.1 603.0,587.3 519.4,585.3 531.3,578.3 596.0,585.9 529.2,585.7 591.5,584.8 566.3,583.6 534.6,568.0 580.6,581.5 583.7,583.7 568.4,580.5 589.9,576.9 601.1,584.1 554.1,585.4 601.7,581.8 496.5,587.5 552.5,579.8 568.9,567.9 603.1,582.0 516.1,586.7 577.5,578.6 500.4,565.9 578.0,584.6 510.0,584.1 533.5,574.1 576.5,579.0 547.5,586.1 550.8,587.7 505.7,573.7 587.8,556.3 555.9,581.4 552.6,584.9 525.5,566.8 532.8,579.4 586.9,562.5 535.6,581.0 564.3,584.3 597.5,576.9 537.7,573.4 558.5,582.3 536.7,585.1 558.1,580.3 561.9,584.4 564.1,563.3 559.4,563.0 507.5,576.1" fill="none" stroke="none" marker-start="url(#mn)" marker-mid="url(#mn)" marker-end="url(#mn)"/>
<circle cx="547.02" cy="563.75" r="1.95" fill="#ffa500" stroke="#000" stroke-width="0.35"/>
<circle cx="547.64" cy="552.10" r="1.95" fill="#ffa500" stroke="#000" stroke-width="0.35"/>
<circle cx="550.16" cy="564.56" r="1.95" fill="#ffa500" stroke="#000" stroke-width="0.35"/>
<circle cx="545.82" cy="551.69" r="1.95" fill="#ffa500" stroke="#000" stroke-width="0.35"/>
<circle cx="547.44" cy="550.13" r="1.95" fill="#ffa500" stroke="#000" stroke-width="0.35"/>
<circle cx="549.22" cy="552.68" r="1.95" fill="#ffa500" stroke="#000" stroke-width="0.35"/>
<circle cx="547.59" cy="550.76" r="1.95" fill="#ffa500" stroke="#000" stroke-width="0.35"/>
<circle cx="546.94" cy="553.86" r="1.95" fill="#ffa500" stroke="#000" stroke-width="0.35"/>
<circle cx="551.41" cy="554.27" r="1.95" fill="#ffa500" stroke="#000" stroke-width="0.35"/>
<circle cx="544.44" cy="553.83" r="1.95" fill="#ffa500" stroke="#000" stroke-width="0.35"/>
<circle cx="551.36" cy="559.92" r="1.95" fill="#ffa500" stroke="#000" stroke-width="0.35"/>
<circle cx="552.37" cy="558.73" r="1.95" fill="#ffa500" stroke="#000" stroke-width="0.35"/>
<circle cx="551.91" cy="550.98" r="1.95" fill="#ffa500" stroke="#000" stroke-width="0.35"/>
<circle cx="546.09" cy="562.37" r="1.95" fill="#ffa500" stroke="#000" stroke-width="0.35"/>
<circle cx="549.24" cy="563.72" r="1.95" fill="#ffa500" stroke="#000" stroke-width="0.35"/>
<circle cx="551.47" cy="555.33" r="1.95" fill="#ffa500" stroke="#000" stroke-width="0.35"/>
<circle cx="547.00" cy="550.69" r="1.95" fill="#ff0000" stroke="#000" stroke-width="0.35"/>
<circle cx="544.50" cy="557.03" r="1.95" fill="#ff0000" stroke="#000" stroke-width="0.35"/>
<circle cx="544.00" cy="549.79" r="1.95" fill="#006400" stroke="#000" stroke-width="0.35"/>
<circle cx="552.00" cy="566.08" r="1.95" fill="#006400" stroke="#000" stroke-width="0.35"/>
<circle cx="549.00" cy="582.37" r="1.95" fill="#87ceeb" stroke="#000" stroke-width="0.35"/>
<path d="M547.80,543.17 L550.80,546.17 L547.80,549.17 L544.80,546.17Z" fill="#a020f0" stroke="#000" stroke-width="0.35"/>
<line x1="489.10" y1="519.20" x2="489.10" y2="590.40" stroke="#000" stroke-width="0.9"/>
<line x1="489.10" y1="590.40" x2="607.30" y2="590.40" stroke="#000" stroke-width="0.9"/>
<line x1="487.10" y1="587.80" x2="489.10" y2="587.80" stroke="#333" stroke-width="0.6"/>
<text x="485.90" y="590.20" font-size="6.8" text-anchor="end" fill="#4d4d4d">0</text>
<line x1="487.10" y1="569.70" x2="489.10" y2="569.70" stroke="#333" stroke-width="0.6"/>
<text x="485.90" y="572.10" font-size="6.8" text-anchor="end" fill="#4d4d4d">1</text>
<line x1="487.10" y1="551.60" x2="489.10" y2="551.60" stroke="#333" stroke-width="0.6"/>
<text x="485.90" y="554.00" font-size="6.8" text-anchor="end" fill="#4d4d4d">2</text>
<line x1="487.10" y1="533.50" x2="489.10" y2="533.50" stroke="#333" stroke-width="0.6"/>
<text x="485.90" y="535.90" font-size="6.8" text-anchor="end" fill="#4d4d4d">3</text>
<text x="476.80" y="554.60" font-size="7.6" text-anchor="middle" transform="rotate(-90 476.80 554.60)">AD GWAS − log<tspan font-size="5.32" dy="1.90">10</tspan><tspan dy="-1.90">(P)</tspan></text>
<text x="596.40" y="531.30" font-size="9.1" text-anchor="end">Max. SNP</text>
<text x="596.40" y="541.80" font-size="9.1" text-anchor="end">PIP=1</text>
<line x1="500.00" y1="590.40" x2="500.00" y2="592.40" stroke="#333" stroke-width="0.6"/>
<text x="500.00" y="598.90" font-size="6.8" text-anchor="middle" fill="#4d4d4d">6.5</text>
<line x1="527.00" y1="590.40" x2="527.00" y2="592.40" stroke="#333" stroke-width="0.6"/>
<text x="527.00" y="598.90" font-size="6.8" text-anchor="middle" fill="#4d4d4d">7.0</text>
<line x1="553.70" y1="590.40" x2="553.70" y2="592.40" stroke="#333" stroke-width="0.6"/>
<text x="553.70" y="598.90" font-size="6.8" text-anchor="middle" fill="#4d4d4d">7.5</text>
<line x1="580.40" y1="590.40" x2="580.40" y2="592.40" stroke="#333" stroke-width="0.6"/>
<text x="580.40" y="598.90" font-size="6.8" text-anchor="middle" fill="#4d4d4d">8.0</text>
<text x="548.20" y="607.20" font-size="7.8" text-anchor="middle">chr6 (Mb)</text>
<rect x="640.76" y="569.50" width="9.86" height="13.20" fill="#a6efc0" stroke="#222" stroke-width="0.7"/>
<rect x="651.83" y="427.55" width="9.86" height="155.15" fill="#49d978" stroke="#222" stroke-width="0.7"/>
<rect x="662.90" y="433.35" width="9.86" height="149.35" fill="#1a9e3f" stroke="#222" stroke-width="0.7"/>
<line x1="639.20" y1="573.28" x2="673.80" y2="573.28" stroke="#000" stroke-width="0.9" stroke-dasharray="3,2"/>
<rect x="639.20" y="419.60" width="34.60" height="170.40" fill="none" stroke="#111" stroke-width="0.9"/>
<line x1="637.20" y1="582.70" x2="639.20" y2="582.70" stroke="#333" stroke-width="0.6"/>
<text x="636.20" y="585.10" font-size="6.8" text-anchor="end" fill="#4d4d4d">0</text>
<line x1="637.20" y1="546.45" x2="639.20" y2="546.45" stroke="#333" stroke-width="0.6"/>
<text x="636.20" y="548.85" font-size="6.8" text-anchor="end" fill="#4d4d4d">5</text>
<line x1="637.20" y1="510.20" x2="639.20" y2="510.20" stroke="#333" stroke-width="0.6"/>
<text x="636.20" y="512.60" font-size="6.8" text-anchor="end" fill="#4d4d4d">10</text>
<line x1="637.20" y1="473.95" x2="639.20" y2="473.95" stroke="#333" stroke-width="0.6"/>
<text x="636.20" y="476.35" font-size="6.8" text-anchor="end" fill="#4d4d4d">15</text>
<line x1="637.20" y1="437.70" x2="639.20" y2="437.70" stroke="#333" stroke-width="0.6"/>
<text x="636.20" y="440.10" font-size="6.8" text-anchor="end" fill="#4d4d4d">20</text>
<line x1="645.69" y1="590.00" x2="645.69" y2="592.00" stroke="#333" stroke-width="0.6"/>
<text x="649.59" y="597.90" font-size="6.6" text-anchor="end" fill="#4d4d4d" transform="rotate(-45 649.59 597.90)">GenT</text>
<line x1="656.76" y1="590.00" x2="656.76" y2="592.00" stroke="#333" stroke-width="0.6"/>
<text x="660.66" y="597.90" font-size="6.6" text-anchor="end" fill="#4d4d4d" transform="rotate(-45 660.66 597.90)">xGenT</text>
<line x1="667.83" y1="590.00" x2="667.83" y2="592.00" stroke="#333" stroke-width="0.6"/>
<text x="671.73" y="597.90" font-size="6.6" text-anchor="end" fill="#4d4d4d" transform="rotate(-45 671.73 597.90)">MuGenT</text>
<text x="677.13" y="603.40" font-size="6.6" text-anchor="end" fill="#4d4d4d" transform="rotate(-45 677.13 603.40)">(eQTLs)</text>
<text x="620.50" y="505.5" font-size="8.2" text-anchor="middle" transform="rotate(-90 620.50 505.5)">-log<tspan font-size="5.7" dy="2.1">10</tspan><tspan dy="-2.1">(P-value)</tspan></text>
<text x="40.60" y="647.30" font-size="11" font-weight="bold">d</text>
<rect x="32.00" y="670.40" width="94.50" height="15.70" fill="#f4f1d8" stroke="#333" stroke-width="0.8"/>
<text x="79.25" y="681.15" font-size="8.1" text-anchor="middle" fill="#1a1a1a">AD</text>
<rect x="32.00" y="686.10" width="94.50" height="66.00" fill="#fff" stroke="none" stroke-width="1"/>
<line x1="32.00" y1="741.48" x2="126.50" y2="741.48" stroke="#f2f2f2" stroke-width="0.5"/>
<line x1="32.00" y1="725.04" x2="126.50" y2="725.04" stroke="#f2f2f2" stroke-width="0.5"/>
<line x1="32.00" y1="708.60" x2="126.50" y2="708.60" stroke="#f2f2f2" stroke-width="0.5"/>
<line x1="32.00" y1="692.16" x2="126.50" y2="692.16" stroke="#f2f2f2" stroke-width="0.5"/>
<line x1="56.98" y1="686.10" x2="56.98" y2="752.10" stroke="#f2f2f2" stroke-width="0.5"/>
<line x1="99.72" y1="686.10" x2="99.72" y2="752.10" stroke="#f2f2f2" stroke-width="0.5"/>
<line x1="32.00" y1="749.70" x2="126.50" y2="749.70" stroke="#e6e6e6" stroke-width="0.8"/>
<line x1="32.00" y1="733.26" x2="126.50" y2="733.26" stroke="#e6e6e6" stroke-width="0.8"/>
<line x1="32.00" y1="716.82" x2="126.50" y2="716.82" stroke="#e6e6e6" stroke-width="0.8"/>
<line x1="32.00" y1="700.38" x2="126.50" y2="700.38" stroke="#e6e6e6" stroke-width="0.8"/>
<line x1="35.60" y1="686.10" x2="35.60" y2="752.10" stroke="#e6e6e6" stroke-width="0.8"/>
<line x1="78.35" y1="686.10" x2="78.35" y2="752.10" stroke="#e6e6e6" stroke-width="0.8"/>
<line x1="121.10" y1="686.10" x2="121.10" y2="752.10" stroke="#e6e6e6" stroke-width="0.8"/>
<line x1="82.62" y1="686.10" x2="82.62" y2="752.10" stroke="#fccb00" stroke-width="2.5"/>
<line x1="32.00" y1="709.70" x2="126.50" y2="709.70" stroke="#333" stroke-width="1.0" stroke-dasharray="3.6,4.4"/>
<clipPath id="dc32670"><rect x="32" y="686.1" width="94.5" height="66.0"/></clipPath>
<g clip-path="url(#dc32670)">
<defs><marker id="d6a5acd" markerWidth="1" markerHeight="1" refX="0" refY="0" markerUnits="userSpaceOnUse" overflow="visible" orient="0"><circle cx="0" cy="0" r="2.3" fill="#6a5acd" stroke="none" stroke-width="0" fill-opacity="1"/></marker></defs>
<path d="M71.5,749.2 57.9,748.2 96.4,744.0 73.1,739.5 68.9,745.0 65.7,747.3 104.5,747.2 36.3,749.2 123.6,747.0 122.4,736.4 49.9,748.8 119.5,746.5 77.7,744.4 36.1,748.8 82.1,743.6 103.5,745.6 97.4,748.5 88.9,749.1 71.9,745.3 85.5,748.9 110.8,740.2 39.8,746.6 71.1,746.2 113.8,747.5 71.0,747.7 63.2,749.0 99.7,748.8 57.8,745.3 102.4,747.4 58.4,748.4 116.3,746.6 58.4,746.6 72.0,747.9 89.3,746.9 74.7,745.9 97.3,746.2 52.8,748.9 94.0,748.4 112.6,745.7 82.9,747.5 102.1,747.6 53.9,745.9 101.3,746.7 91.8,749.1 104.0,747.5 87.2,743.9 85.1,746.6 123.8,745.0 76.6,748.8 98.0,748.8 120.5,748.9 114.7,748.0 118.9,744.5 50.7,748.0 76.5,740.9 86.3,749.5 87.4,746.7 66.0,748.9 49.7,746.2 107.2,748.5 60.1,745.7 98.0,747.3 108.1,746.5 109.0,749.1 93.1,747.2 90.3,745.4 65.8,745.5 45.5,749.0 121.6,749.7 44.2,749.3 56.5,745.6 42.7,748.2 113.4,746.4 70.9,739.2 113.9,742.9 89.5,744.3 109.3,745.3 97.3,743.6 61.3,747.3 55.9,748.0 123.8,745.7 85.9,748.3 51.6,747.4 87.2,741.7 80.3,745.5 117.1,740.4 54.1,748.1 106.8,744.4 57.7,748.7 95.4,748.1 113.0,748.0 73.0,744.9 103.8,748.9 38.2,749.3 52.5,747.7 117.7,749.1 61.9,749.5 48.3,748.5 58.8,748.1 89.7,744.0 63.9,747.5 37.5,748.1 90.8,741.3 122.1,748.8 113.5,749.1 107.5,744.4 57.2,748.1 44.7,749.0 90.9,740.8 42.5,747.0 101.2,748.9 98.2,745.6 118.2,746.1 113.1,747.7 41.7,747.3 124.2,749.6 92.0,748.7 94.1,748.5 37.3,749.2 123.9,746.6 61.1,747.3 124.4,737.3 102.4,748.9 82.4,749.0 49.7,749.5 109.3,736.7 88.8,743.3 80.1,741.5 64.9,747.7 89.1,745.7 86.5,747.4 36.5,746.4 43.0,747.8 62.2,744.5 98.6,748.2 43.5,749.5 110.1,740.7 66.7,744.3 116.8,744.6 91.4,747.8 99.5,746.4 100.4,748.9 83.1,746.4 83.1,749.3 109.8,748.7 100.2,747.8 95.0,748.4 43.8,748.3 112.7,747.4 58.6,749.0 122.9,749.2 68.3,745.9 94.7,748.3 47.1,744.1 122.9,745.2 119.7,744.9 48.3,747.0 74.2,748.0 66.3,744.5 104.9,748.6 46.9,749.3 120.7,748.8 67.2,743.8 118.5,742.9 103.4,745.8 39.6,749.6 123.2,745.0 84.4,747.5 104.1,749.5 57.8,749.1 68.6,739.6 97.1,747.4 108.8,748.1 51.4,749.3 110.4,747.7 62.6,748.5 122.3,749.2 98.9,745.9 55.4,749.6 114.2,745.2 76.8,748.9 51.4,745.1 97.0,747.3 49.2,749.0 54.5,746.9 104.3,747.2 64.8,749.5 91.5,748.8 123.5,748.7 65.9,743.1 54.7,747.1 120.6,749.3 73.7,747.9 91.0,745.6 47.7,744.8 78.9,749.4 90.3,749.2 76.0,739.7 63.6,748.2 46.4,749.1 73.8,742.1 52.4,748.6 104.2,749.6 120.8,744.4 89.2,740.1 66.4,746.8 75.8,746.7 54.6,744.4 116.9,739.2 65.3,745.3 92.9,745.9 43.6,743.0 120.3,748.4 35.9,744.3 68.1,748.7 120.0,740.0 56.1,747.7 43.4,744.6 105.8,749.2 64.1,748.6 57.4,748.1 70.9,744.2 52.6,743.4 87.1,745.7 38.5,747.7 67.1,745.0 57.7,748.6 107.4,745.2 96.6,745.3 122.6,742.0 80.9,745.1 102.5,743.5 99.2,745.1 53.8,745.0 99.4,746.3 111.0,746.0 42.2,746.2 106.5,747.8 104.9,748.4 53.0,747.5 117.7,746.5 54.8,746.7 81.4,739.9 72.6,743.0 46.2,746.7 42.5,748.0 111.7,748.1 83.2,742.0 90.7,740.6 122.2,743.1 102.5,749.7 45.3,743.5 92.7,748.8 46.7,748.1 103.2,749.6 95.3,749.3 88.8,745.9 49.3,749.0 66.6,746.0 54.3,744.7 55.3,748.6 97.7,747.7 58.5,744.7 90.9,747.9 60.5,749.5 102.6,749.4 59.8,747.6 86.5,746.8 81.1,746.4 119.4,749.3 81.8,745.6 68.4,741.4 92.8,748.6 60.9,748.7 106.5,745.7 69.6,747.9 116.9,744.8 74.5,743.4 62.1,745.6 105.4,743.8 118.2,740.5 100.7,748.9 115.4,746.5 48.2,747.3 58.1,746.0 54.6,748.0 83.1,745.0 118.8,747.9 72.1,748.0 50.8,749.5 63.4,746.5 97.6,745.3 86.5,740.3 102.0,747.5 64.1,749.5 76.5,740.5 101.5,749.2 121.7,749.5 116.3,747.8 101.2,745.5 112.7,733.5 110.8,733.3" fill="none" stroke="none" marker-start="url(#d6a5acd)" marker-mid="url(#d6a5acd)" marker-end="url(#d6a5acd)"/>
<defs><marker id="d6dcf78" markerWidth="1" markerHeight="1" refX="0" refY="0" markerUnits="userSpaceOnUse" overflow="visible" orient="0"><circle cx="0" cy="0" r="2.3" fill="#6dcf78" stroke="none" stroke-width="0" fill-opacity="1"/></marker></defs>
<path d="M71.0,741.8 82.4,741.2 71.9,742.0 78.7,737.6 84.7,745.4 81.5,744.6 79.9,742.8 84.4,739.1 70.0,738.7 78.1,735.7 88.8,731.6 90.5,745.0 79.9,740.3 86.7,742.2 89.2,743.9 70.7,742.2 75.5,734.3 76.4,737.8 87.7,744.5 79.2,736.8 84.5,745.1 76.1,736.7" fill="none" stroke="none" marker-start="url(#d6dcf78)" marker-mid="url(#d6dcf78)" marker-end="url(#d6dcf78)"/>
<defs><marker id="d8fd31e" markerWidth="1" markerHeight="1" refX="0" refY="0" markerUnits="userSpaceOnUse" overflow="visible" orient="0"><circle cx="0" cy="0" r="2.3" fill="#8fd31e" stroke="none" stroke-width="0" fill-opacity="1"/></marker></defs>
<path d="M67.5,745.2 77.7,744.4 73.4,743.1 72.2,739.8 77.5,740.6 78.5,739.6 77.3,744.9 74.4,744.2 79.4,740.3 78.0,741.7" fill="none" stroke="none" marker-start="url(#d8fd31e)" marker-mid="url(#d8fd31e)" marker-end="url(#d8fd31e)"/>
<defs><marker id="dee7010" markerWidth="1" markerHeight="1" refX="0" refY="0" markerUnits="userSpaceOnUse" overflow="visible" orient="0"><circle cx="0" cy="0" r="2.3" fill="#ee7010" stroke="none" stroke-width="0" fill-opacity="1"/></marker></defs>
<path d="M87.1,732.6 90.7,727.7 85.3,734.8 88.8,732.9 88.0,730.1 87.3,734.5 87.8,727.5 87.5,734.1" fill="none" stroke="none" marker-start="url(#dee7010)" marker-mid="url(#dee7010)" marker-end="url(#dee7010)"/>
</g>
<text x="42.4" y="703.6" font-size="16" font-weight="bold" font-style="italic" fill="#e8c000" stroke="#111" stroke-width="1.5" paint-order="stroke">RIPK2</text>
<text x="80.00" y="724.30" font-size="9.7" text-anchor="middle" fill="#111">rs218938</text>
<rect x="32.00" y="686.10" width="94.50" height="66.00" fill="none" stroke="#1a1a1a" stroke-width="1.3"/>
<line x1="30.00" y1="749.70" x2="32.00" y2="749.70" stroke="#333" stroke-width="0.6"/>
<text x="28.50" y="752.60" font-size="8.2" text-anchor="end" fill="#4d4d4d">0</text>
<line x1="30.00" y1="733.26" x2="32.00" y2="733.26" stroke="#333" stroke-width="0.6"/>
<text x="28.50" y="736.16" font-size="8.2" text-anchor="end" fill="#4d4d4d">3</text>
<line x1="30.00" y1="716.82" x2="32.00" y2="716.82" stroke="#333" stroke-width="0.6"/>
<text x="28.50" y="719.72" font-size="8.2" text-anchor="end" fill="#4d4d4d">6</text>
<line x1="30.00" y1="700.38" x2="32.00" y2="700.38" stroke="#333" stroke-width="0.6"/>
<text x="28.50" y="703.28" font-size="8.2" text-anchor="end" fill="#4d4d4d">9</text>
<rect x="132.40" y="670.40" width="94.90" height="15.70" fill="#f4f1d8" stroke="#333" stroke-width="0.8"/>
<text x="179.85" y="681.15" font-size="8.1" text-anchor="middle" fill="#1a1a1a">Cerebellum eQTL</text>
<rect x="132.40" y="686.10" width="94.90" height="66.00" fill="#fff" stroke="none" stroke-width="1"/>
<line x1="132.40" y1="741.48" x2="227.30" y2="741.48" stroke="#f2f2f2" stroke-width="0.5"/>
<line x1="132.40" y1="725.04" x2="227.30" y2="725.04" stroke="#f2f2f2" stroke-width="0.5"/>
<line x1="132.40" y1="708.60" x2="227.30" y2="708.60" stroke="#f2f2f2" stroke-width="0.5"/>
<line x1="132.40" y1="692.16" x2="227.30" y2="692.16" stroke="#f2f2f2" stroke-width="0.5"/>
<line x1="157.57" y1="686.10" x2="157.57" y2="752.10" stroke="#f2f2f2" stroke-width="0.5"/>
<line x1="200.32" y1="686.10" x2="200.32" y2="752.10" stroke="#f2f2f2" stroke-width="0.5"/>
<line x1="132.40" y1="749.70" x2="227.30" y2="749.70" stroke="#e6e6e6" stroke-width="0.8"/>
<line x1="132.40" y1="733.26" x2="227.30" y2="733.26" stroke="#e6e6e6" stroke-width="0.8"/>
<line x1="132.40" y1="716.82" x2="227.30" y2="716.82" stroke="#e6e6e6" stroke-width="0.8"/>
<line x1="132.40" y1="700.38" x2="227.30" y2="700.38" stroke="#e6e6e6" stroke-width="0.8"/>
<line x1="136.20" y1="686.10" x2="136.20" y2="752.10" stroke="#e6e6e6" stroke-width="0.8"/>
<line x1="178.95" y1="686.10" x2="178.95" y2="752.10" stroke="#e6e6e6" stroke-width="0.8"/>
<line x1="221.70" y1="686.10" x2="221.70" y2="752.10" stroke="#e6e6e6" stroke-width="0.8"/>
<line x1="183.22" y1="686.10" x2="183.22" y2="752.10" stroke="#fccb00" stroke-width="2.5"/>
<line x1="132.40" y1="709.70" x2="227.30" y2="709.70" stroke="#333" stroke-width="1.0" stroke-dasharray="3.6,4.4"/>
<clipPath id="dc132670"><rect x="132.4" y="686.1" width="94.9" height="66.0"/></clipPath>
<g clip-path="url(#dc132670)">
<path d="M148.3,746.0 181.5,748.9 155.2,739.6 184.4,746.8 225.1,746.2 150.6,743.5 166.8,748.1 170.3,740.0 163.6,744.0 157.6,744.9 140.8,747.1 211.3,744.6 154.8,749.5 159.2,747.7 205.4,749.6 215.3,742.9 190.3,745.4 152.4,746.3 222.2,748.0 175.5,742.3 176.1,746.6 220.3,746.9 182.4,740.3 218.5,745.9 195.2,749.4 163.3,745.8 140.7,746.5 211.1,743.2 177.2,746.7 190.2,749.3 179.9,749.5 165.7,745.6 151.5,747.3 136.7,747.7 212.8,740.2 204.2,745.4 168.6,748.2 165.0,744.5 143.9,748.8 180.6,742.9 152.6,748.4 178.2,748.6 218.8,746.7 212.6,748.4 180.0,748.4 146.6,749.0 163.7,746.7 189.2,749.7 147.2,746.5 210.6,747.7 136.3,748.5 171.7,748.1 193.2,747.5 146.9,746.2 137.7,747.8 190.0,746.6 175.9,742.4 207.8,748.1 216.0,748.3 165.2,747.9 205.7,745.6 146.4,748.2 164.1,738.2 142.5,745.0 199.0,747.7 181.1,745.7 199.0,746.6 171.3,748.7 172.9,748.7 145.9,749.2 210.8,749.5 216.8,747.2 182.8,743.3 164.4,742.3 176.8,749.0 218.6,748.5 157.9,745.2 216.7,748.5 197.5,745.4 144.8,749.4 159.5,749.4 157.4,749.3 177.0,744.6 175.3,747.1 154.5,738.4 175.9,747.7 212.5,747.4 148.0,744.9 148.7,748.7 166.8,746.1 182.2,749.7 172.8,749.0 213.0,746.4 208.2,746.1 175.9,749.3 194.1,742.7 170.5,746.5 174.4,748.4 137.5,748.0 171.8,748.3 141.9,744.9 210.2,747.6 177.9,749.4 165.0,745.7 164.0,749.2 225.0,749.0 191.7,747.1 204.7,748.9 213.8,744.9 179.0,744.0 221.6,743.4 164.2,738.8 155.5,737.4 220.0,744.0 205.7,747.1 195.7,749.5 146.5,749.0 140.6,744.0 223.6,749.0 149.8,748.1 162.5,749.5 222.2,748.2 178.1,737.5 185.8,749.2 203.5,746.9 221.2,743.8 152.1,746.1 162.9,749.2 136.7,749.1 196.3,746.2 189.7,748.4 178.5,741.3 159.2,744.5 214.0,749.5 174.5,745.5 156.7,749.5 181.6,749.6 218.6,744.5 199.5,743.8 183.9,749.2 191.5,748.5 175.7,749.3 220.3,746.1 175.1,747.3 146.8,747.9 203.4,744.1 138.2,747.9 187.6,748.3 214.3,748.5 152.8,746.8 206.7,744.4 137.9,746.2 169.0,737.6 152.4,748.0 180.2,747.9 161.3,747.3 209.3,745.8 203.2,742.8 157.0,747.9 151.5,743.9 203.0,747.0 158.3,736.5 196.0,747.4 177.0,746.0 207.0,745.8 146.5,749.4 147.6,747.7 140.8,749.0 165.4,744.9 206.6,748.9 144.0,748.0 196.7,742.7 218.7,748.0 140.3,749.1 204.0,747.9 209.8,739.8 175.9,746.5 184.2,749.6 179.6,739.9 175.6,736.6 161.5,746.4 184.6,744.6 184.5,749.4 198.1,748.8 165.5,746.8 209.3,742.0 169.8,735.5 195.5,747.0 195.6,749.2 192.4,749.1 152.3,749.7 143.2,747.2 198.6,748.3 198.2,748.6 209.5,746.1 168.4,747.9 162.6,742.0 224.5,743.5 203.1,749.1 207.7,744.9 140.7,747.6 174.9,743.6 185.9,747.1 218.8,746.8 139.8,749.1 144.6,747.1 192.9,745.5 216.2,744.9 195.9,748.4 152.0,745.5 198.2,739.0 186.9,749.0 159.2,745.9 155.1,739.0 196.0,746.3 142.9,748.4 189.9,749.3 223.1,747.0 161.5,749.6 204.6,743.2 175.4,735.7 194.6,746.6 204.2,747.2 214.5,748.2 152.9,749.4 155.2,747.1 147.6,749.6 224.6,747.4 184.1,748.9 160.1,749.7 192.7,747.0 215.7,744.7 212.8,747.6 144.4,748.6 164.1,748.0 182.4,746.1 200.9,746.8 183.0,743.5 218.9,745.9 170.5,740.0 175.0,746.4 194.2,748.4 224.3,749.4 200.8,739.5 224.0,749.4 180.7,749.3 215.1,749.1 151.4,744.1 207.1,746.1 186.3,748.6 216.3,748.3 176.8,742.7 140.1,745.8 172.0,744.0 214.3,746.6 170.5,745.7 163.7,743.7 224.1,745.3 209.6,743.0 170.4,742.5 172.9,747.6 160.5,745.1 158.3,749.1 174.7,741.1 179.7,735.6 210.4,745.9 152.1,744.2 210.5,749.4 195.3,746.5 216.9,749.0 217.8,748.6 205.4,743.5 144.4,748.8 192.1,749.5 223.1,746.6 160.3,748.5 212.0,749.2 152.8,747.5 206.0,746.3 186.4,747.5 190.6,749.6 189.4,748.1 157.3,746.4 224.8,746.2 224.1,748.6 157.5,748.7 197.7,739.1 166.6,737.1 147.0,748.7 221.7,748.8 148.3,748.4 144.6,744.0 158.7,746.3 221.5,748.3 161.4,736.5 149.2,749.3 183.7,745.1 204.9,749.2 186.7,745.2 165.6,743.6" fill="none" stroke="none" marker-start="url(#d6a5acd)" marker-mid="url(#d6a5acd)" marker-end="url(#d6a5acd)"/>
<path d="M182.1,733.7 179.1,738.6 170.5,741.4 181.5,734.5 177.0,742.5 179.6,734.5 181.2,729.6 181.0,738.0 180.7,732.4 176.2,730.6 184.6,731.4 167.7,733.7 175.5,734.5 167.3,737.3 179.3,734.5 174.2,743.7 166.9,732.1 187.3,730.9 177.4,738.4 188.2,737.4 183.2,733.8 189.3,729.6 187.5,735.6 175.6,737.4" fill="none" stroke="none" marker-start="url(#d6dcf78)" marker-mid="url(#d6dcf78)" marker-end="url(#d6dcf78)"/>
<path d="M180.4,733.5 179.8,735.2 178.6,732.6 185.0,737.5 189.0,737.0 178.8,738.1 181.8,739.6 193.0,733.7 191.8,733.2 184.9,736.4" fill="none" stroke="none" marker-start="url(#d8fd31e)" marker-mid="url(#d8fd31e)" marker-end="url(#d8fd31e)"/>
<path d="M170.7,716.8 174.9,718.7 176.2,716.9 170.8,716.4 174.8,717.8 183.1,719.2 180.2,718.1 173.6,718.7 170.6,717.4" fill="none" stroke="none" marker-start="url(#dee7010)" marker-mid="url(#dee7010)" marker-end="url(#dee7010)"/>
</g>
<text x="150.60" y="696.10" font-size="8.7" text-anchor="middle" fill="#111">FDR</text>
<line x1="141.90" y1="697.20" x2="159.40" y2="697.20" stroke="#111" stroke-width="0.8"/>
<text x="150.60" y="705.80" font-size="8.7" text-anchor="middle" fill="#111">2E-10</text>
<rect x="132.40" y="686.10" width="94.90" height="66.00" fill="none" stroke="#1a1a1a" stroke-width="1.3"/>
<line x1="130.40" y1="749.70" x2="132.40" y2="749.70" stroke="#333" stroke-width="0.6"/>
<line x1="130.40" y1="733.26" x2="132.40" y2="733.26" stroke="#333" stroke-width="0.6"/>
<line x1="130.40" y1="716.82" x2="132.40" y2="716.82" stroke="#333" stroke-width="0.6"/>
<line x1="130.40" y1="700.38" x2="132.40" y2="700.38" stroke="#333" stroke-width="0.6"/>
<rect x="32.00" y="757.70" width="94.50" height="16.20" fill="#f4f1d8" stroke="#333" stroke-width="0.8"/>
<text x="79.25" y="768.70" font-size="8.1" text-anchor="middle" fill="#1a1a1a">Cortex eQTL</text>
<rect x="32.00" y="773.90" width="94.50" height="65.10" fill="#fff" stroke="none" stroke-width="1"/>
<line x1="32.00" y1="828.38" x2="126.50" y2="828.38" stroke="#f2f2f2" stroke-width="0.5"/>
<line x1="32.00" y1="811.94" x2="126.50" y2="811.94" stroke="#f2f2f2" stroke-width="0.5"/>
<line x1="32.00" y1="795.50" x2="126.50" y2="795.50" stroke="#f2f2f2" stroke-width="0.5"/>
<line x1="32.00" y1="779.06" x2="126.50" y2="779.06" stroke="#f2f2f2" stroke-width="0.5"/>
<line x1="56.98" y1="773.90" x2="56.98" y2="839.00" stroke="#f2f2f2" stroke-width="0.5"/>
<line x1="99.72" y1="773.90" x2="99.72" y2="839.00" stroke="#f2f2f2" stroke-width="0.5"/>
<line x1="32.00" y1="836.60" x2="126.50" y2="836.60" stroke="#e6e6e6" stroke-width="0.8"/>
<line x1="32.00" y1="820.16" x2="126.50" y2="820.16" stroke="#e6e6e6" stroke-width="0.8"/>
<line x1="32.00" y1="803.72" x2="126.50" y2="803.72" stroke="#e6e6e6" stroke-width="0.8"/>
<line x1="32.00" y1="787.28" x2="126.50" y2="787.28" stroke="#e6e6e6" stroke-width="0.8"/>
<line x1="35.60" y1="773.90" x2="35.60" y2="839.00" stroke="#e6e6e6" stroke-width="0.8"/>
<line x1="78.35" y1="773.90" x2="78.35" y2="839.00" stroke="#e6e6e6" stroke-width="0.8"/>
<line x1="121.10" y1="773.90" x2="121.10" y2="839.00" stroke="#e6e6e6" stroke-width="0.8"/>
<line x1="82.62" y1="773.90" x2="82.62" y2="839.00" stroke="#fccb00" stroke-width="2.5"/>
<line x1="32.00" y1="796.60" x2="126.50" y2="796.60" stroke="#333" stroke-width="1.0" stroke-dasharray="3.6,4.4"/>
<clipPath id="dc32757"><rect x="32" y="773.9" width="94.5" height="65.10000000000002"/></clipPath>
<g clip-path="url(#dc32757)">
<path d="M101.3,836.1 42.4,832.8 43.1,836.1 103.6,834.9 108.9,832.5 81.1,833.6 107.2,832.7 42.4,829.6 88.2,836.1 44.5,834.4 58.0,833.7 44.8,835.2 60.6,835.5 61.4,835.8 62.6,833.4 123.8,831.3 41.4,835.7 46.2,834.3 94.1,833.8 110.5,835.1 89.6,833.4 109.9,834.3 44.1,833.9 69.2,835.9 106.3,834.0 85.0,834.4 82.2,834.1 55.3,831.9 97.8,834.4 52.5,835.9 48.8,834.3 96.7,835.5 45.1,835.6 122.1,832.8 81.6,833.1 90.3,835.7 55.9,836.0 46.2,831.4 93.5,832.6 59.7,833.7 121.1,834.0 66.4,835.1 62.8,834.5 63.0,833.9 67.7,834.6 47.8,835.2 55.8,836.6 83.7,835.8 115.4,836.5 58.1,830.9 61.6,834.9 59.4,835.0 66.1,833.4 117.5,832.3 58.7,835.6 64.5,833.3 76.1,834.3 75.8,836.2 80.6,835.2 110.4,835.8 69.1,834.3 71.1,835.8 116.4,836.5 119.4,833.7 98.1,833.3 97.3,833.8 77.7,835.5 93.5,831.4 91.5,833.8 72.6,834.0 84.8,834.3 116.8,835.7 42.2,831.0 116.6,836.5 115.3,831.1 112.9,834.3 50.0,835.0 94.0,836.3 95.7,834.7 107.6,830.7 52.5,836.4 86.0,836.2 106.8,836.3 83.9,835.5 72.7,831.4 95.8,836.4 121.1,833.6 111.7,833.2 116.5,834.3 54.3,836.6 72.1,835.8 57.5,830.6 102.3,835.2 108.6,834.1 116.7,833.8 64.0,836.4 71.4,832.9 88.0,833.6 123.7,833.9 52.6,835.8 104.0,835.2 75.3,836.4 58.5,834.9 90.8,834.9 80.8,835.3 121.8,832.8 73.9,836.4 89.1,835.3 114.0,834.3 52.6,832.1 61.6,835.4 117.0,832.7 99.1,836.3 114.0,836.3 99.9,834.5 120.1,836.2 56.8,833.4 81.4,834.5 116.0,836.1 77.8,832.2 107.5,834.4 55.9,835.4 80.0,836.5 46.1,835.6 100.8,833.3 70.5,834.9 86.6,834.6 80.0,830.3 100.3,835.7 71.5,835.7 85.6,831.4 117.6,834.5 97.3,836.2 99.4,836.0 45.0,834.6 104.4,835.9 103.6,832.0 89.6,835.4 41.5,833.3 82.1,834.7 80.4,835.1 94.9,831.7 96.7,832.1 104.3,835.2 124.4,834.8 104.7,834.9 40.5,836.2 59.8,833.9 110.7,834.5 78.8,835.5 48.3,833.5 41.6,835.2 86.6,835.3 77.0,836.2 52.4,833.5 46.9,835.3 100.8,835.9 57.2,835.4 79.3,834.7 99.3,834.2 89.9,834.6 115.3,836.3 58.3,836.4 120.2,834.3 65.0,835.5 73.2,834.8 73.9,835.8 92.3,833.9 97.4,834.6 53.4,834.1 95.0,834.7 81.5,835.9 91.7,833.8 122.8,833.0 58.0,835.4 80.5,833.9 93.9,833.0 93.1,836.5 61.1,835.1 74.6,835.5 65.1,829.8 78.5,832.2 74.6,833.2 91.0,835.3 70.4,835.2 119.3,835.8 41.6,832.5 43.9,836.1 54.6,835.9 86.6,834.5 115.3,832.9 113.1,834.0 98.4,835.4 45.0,834.2 81.9,836.0 81.4,831.6 124.1,833.2 111.1,835.4 120.7,834.5 119.7,836.1 63.7,836.6 48.4,836.3 57.1,834.3 83.1,835.2 103.5,833.9 101.7,836.1 91.0,832.5 56.1,835.8 71.1,835.6 76.8,834.8 88.6,831.8 121.3,836.5 77.1,835.7 63.0,835.1 61.3,836.3 105.4,833.3 54.1,834.7 69.2,835.9 102.3,834.3 50.8,831.4 104.5,834.5 58.9,835.2 74.9,834.8 56.7,833.3 63.7,834.7 95.7,834.1 100.1,836.0 76.4,834.5 46.0,832.8 113.8,833.0 98.3,835.7 88.1,835.4 68.6,834.6 57.7,835.4 71.2,830.0 52.1,833.7 59.1,832.3 92.8,835.3 91.6,836.2 108.1,835.2 87.4,836.0 78.0,832.7 90.1,835.9 113.3,829.8 51.1,832.9 71.3,830.9 84.3,835.2 106.6,834.8 55.6,834.4 122.4,835.7 93.6,834.9 69.5,834.4 43.8,833.6 44.2,831.7 50.8,834.8 68.4,836.5 87.1,835.1 94.9,834.0 86.2,835.3 64.3,833.4 78.0,834.6 74.0,834.4 40.1,834.5 78.9,834.3 117.4,833.1 101.0,835.7 42.7,834.8 84.3,834.6 85.7,836.5 55.0,834.6 86.6,836.5 119.4,833.9 54.2,834.6 107.7,836.2 62.8,834.1 65.6,835.6 108.3,836.0 98.5,832.4 99.8,834.6 59.9,831.1" fill="none" stroke="none" marker-start="url(#d6a5acd)" marker-mid="url(#d6a5acd)" marker-end="url(#d6a5acd)"/>
<path d="M38.6,827.8 37.0,827.9 36.2,828.7 40.1,826.6 41.8,825.8 42.0,830.2 41.1,829.2 36.3,827.5 40.4,830.2 38.2,828.5" fill="none" stroke="none" marker-start="url(#d6dcf78)" marker-mid="url(#d6dcf78)" marker-end="url(#d6dcf78)"/>
</g>
<rect x="32.00" y="773.90" width="94.50" height="65.10" fill="none" stroke="#1a1a1a" stroke-width="1.3"/>
<line x1="30.00" y1="836.60" x2="32.00" y2="836.60" stroke="#333" stroke-width="0.6"/>
<text x="28.50" y="839.50" font-size="8.2" text-anchor="end" fill="#4d4d4d">0</text>
<line x1="30.00" y1="820.16" x2="32.00" y2="820.16" stroke="#333" stroke-width="0.6"/>
<text x="28.50" y="823.06" font-size="8.2" text-anchor="end" fill="#4d4d4d">3</text>
<line x1="30.00" y1="803.72" x2="32.00" y2="803.72" stroke="#333" stroke-width="0.6"/>
<text x="28.50" y="806.62" font-size="8.2" text-anchor="end" fill="#4d4d4d">6</text>
<line x1="30.00" y1="787.28" x2="32.00" y2="787.28" stroke="#333" stroke-width="0.6"/>
<text x="28.50" y="790.18" font-size="8.2" text-anchor="end" fill="#4d4d4d">9</text>
<line x1="35.60" y1="839.00" x2="35.60" y2="841.00" stroke="#333" stroke-width="0.6"/>
<text x="35.60" y="850.80" font-size="8.2" text-anchor="middle" fill="#4d4d4d">90.25</text>
<line x1="78.35" y1="839.00" x2="78.35" y2="841.00" stroke="#333" stroke-width="0.6"/>
<text x="78.35" y="850.80" font-size="8.2" text-anchor="middle" fill="#4d4d4d">90.75</text>
<line x1="121.10" y1="839.00" x2="121.10" y2="841.00" stroke="#333" stroke-width="0.6"/>
<text x="121.10" y="850.80" font-size="8.2" text-anchor="middle" fill="#4d4d4d">91.25</text>
<rect x="132.40" y="757.70" width="94.90" height="16.20" fill="#f4f1d8" stroke="#333" stroke-width="0.8"/>
<text x="179.85" y="768.70" font-size="8.1" text-anchor="middle" fill="#1a1a1a">Cortex pQTL</text>
<rect x="132.40" y="773.90" width="94.90" height="65.10" fill="#fff" stroke="none" stroke-width="1"/>
<line x1="132.40" y1="828.38" x2="227.30" y2="828.38" stroke="#f2f2f2" stroke-width="0.5"/>
<line x1="132.40" y1="811.94" x2="227.30" y2="811.94" stroke="#f2f2f2" stroke-width="0.5"/>
<line x1="132.40" y1="795.50" x2="227.30" y2="795.50" stroke="#f2f2f2" stroke-width="0.5"/>
<line x1="132.40" y1="779.06" x2="227.30" y2="779.06" stroke="#f2f2f2" stroke-width="0.5"/>
<line x1="157.57" y1="773.90" x2="157.57" y2="839.00" stroke="#f2f2f2" stroke-width="0.5"/>
<line x1="200.32" y1="773.90" x2="200.32" y2="839.00" stroke="#f2f2f2" stroke-width="0.5"/>
<line x1="132.40" y1="836.60" x2="227.30" y2="836.60" stroke="#e6e6e6" stroke-width="0.8"/>
<line x1="132.40" y1="820.16" x2="227.30" y2="820.16" stroke="#e6e6e6" stroke-width="0.8"/>
<line x1="132.40" y1="803.72" x2="227.30" y2="803.72" stroke="#e6e6e6" stroke-width="0.8"/>
<line x1="132.40" y1="787.28" x2="227.30" y2="787.28" stroke="#e6e6e6" stroke-width="0.8"/>
<line x1="136.20" y1="773.90" x2="136.20" y2="839.00" stroke="#e6e6e6" stroke-width="0.8"/>
<line x1="178.95" y1="773.90" x2="178.95" y2="839.00" stroke="#e6e6e6" stroke-width="0.8"/>
<line x1="221.70" y1="773.90" x2="221.70" y2="839.00" stroke="#e6e6e6" stroke-width="0.8"/>
<line x1="183.22" y1="773.90" x2="183.22" y2="839.00" stroke="#fccb00" stroke-width="2.5"/>
<line x1="132.40" y1="796.60" x2="227.30" y2="796.60" stroke="#333" stroke-width="1.0" stroke-dasharray="3.6,4.4"/>
<clipPath id="dc132757"><rect x="132.4" y="773.9" width="94.9" height="65.10000000000002"/></clipPath>
<g clip-path="url(#dc132757)">
<path d="M150.9,833.6 224.6,835.4 151.4,835.6 211.5,828.5 186.8,828.8 211.6,830.5 224.9,836.6 214.6,832.8 167.9,832.8 153.5,835.3 210.9,831.3 138.1,834.7 168.9,829.6 201.8,834.7 219.2,833.5 153.8,831.5 163.4,833.1 174.8,825.1 162.0,833.3 160.5,834.8 211.0,833.4 169.9,828.6 223.8,835.9 184.4,823.4 142.3,836.2 214.4,832.1 216.7,831.7 139.0,835.2 195.9,834.2 146.3,835.6 220.4,833.6 221.4,831.9 211.3,830.4 179.7,819.9 140.3,833.7 159.0,835.4 225.0,835.3 150.9,836.3 175.1,834.2 175.7,825.2 214.5,830.4 176.3,827.9 220.3,835.0 164.0,830.6 183.3,829.1 137.3,833.8 157.5,833.7 214.2,832.5 155.7,836.0 160.6,835.3 179.3,830.1 217.5,834.2 199.7,825.5 166.3,831.4 177.4,830.0 138.2,835.4 223.6,834.9 216.7,834.9 191.0,831.6 137.6,834.3 168.7,835.0 202.0,832.1 179.4,826.5 176.4,826.2 184.2,830.7 154.6,835.4 155.6,835.4 136.4,836.4 186.2,826.4 208.3,831.4 163.5,833.6 191.5,823.4 186.5,828.7 215.4,832.5 190.9,820.4 189.5,828.8 178.9,824.8 192.3,823.4 170.6,831.1 159.5,835.4 219.9,834.1 182.5,829.3 194.7,827.7 168.2,834.4 203.3,830.0 184.9,829.9 216.8,833.3 175.7,829.0 183.3,832.8 197.4,823.8 163.9,832.2 177.9,833.2 154.6,836.4 206.7,829.4 175.3,834.5 156.5,835.9 161.7,834.7 193.6,830.5 146.6,836.1 146.3,836.0 168.4,829.6 144.9,836.6 220.1,832.0 153.1,834.8 179.9,824.3 198.7,826.9 171.6,827.8 145.1,835.9 165.3,834.6 173.8,833.0 184.8,819.0 162.0,831.9 174.1,831.6 148.8,835.4 160.2,834.5 178.2,826.0 221.8,834.0 138.0,835.0 218.0,834.3 189.3,829.2 186.9,828.9 173.4,826.7 215.0,832.4 219.1,834.0 144.7,836.0 181.9,829.8 222.9,835.1 164.1,833.3 158.4,833.4 160.8,833.8 207.3,826.8 199.0,822.0 201.0,827.9 218.7,833.5 182.0,834.4 165.8,832.8 198.1,829.0 210.3,828.8 219.1,835.7 140.4,835.7 165.0,833.6 161.8,831.5 160.5,833.6 177.7,828.3 166.2,833.3 223.6,832.2 224.6,831.5 186.5,829.0 138.0,836.1 202.4,834.4 161.5,835.1 202.4,830.9 174.3,828.7 161.0,833.2 171.9,832.3 192.9,829.0 182.5,821.6 219.0,832.2 159.6,836.3 200.6,826.6 138.8,835.6 195.6,829.9 215.7,832.1 181.8,833.6 192.3,827.3 158.3,834.8 164.4,832.1 147.0,835.1 156.4,834.2 195.8,828.8 139.6,836.1 173.4,833.0 168.1,833.8 215.5,831.1 177.6,827.0 150.0,835.1 207.9,835.0 191.7,825.9 212.9,833.7 156.3,835.1 149.0,835.9 198.9,824.9 201.3,826.9 147.8,835.0 193.7,830.7 189.5,830.8 207.8,827.8 201.2,835.0 215.7,831.1 215.7,832.5 149.4,835.9 141.2,834.5 181.1,834.1 158.0,835.4 224.2,834.2 178.0,827.2 176.3,830.5 204.0,830.6 175.4,828.2 160.2,834.9 181.9,823.6 164.8,833.7 152.5,835.4 158.0,835.0 192.1,822.3 170.3,834.7 222.7,834.0 140.8,836.6 224.4,835.1 215.4,834.4 195.0,829.6 162.5,834.9 174.4,822.2 182.0,824.8 220.5,833.2 183.4,830.4 159.6,833.0 177.5,825.7 219.9,833.6 204.5,831.3 144.1,833.8 199.9,830.4 194.9,829.2 192.6,833.3 193.0,827.9 188.1,830.8 206.5,827.1 176.4,829.9 217.2,832.1 203.4,826.6 175.5,825.3 139.6,835.5 194.9,822.4 197.4,827.6 213.1,830.1 200.7,833.4 211.2,830.1 172.5,831.8 159.1,836.0 138.4,836.3 196.4,829.4 147.5,835.0 182.6,826.4 217.2,833.4 188.5,822.2 197.3,829.2 204.8,828.5 169.8,832.6 147.9,834.1 164.4,831.9 196.5,821.8 215.9,832.1 201.2,829.3 192.3,818.2 165.5,829.3 202.3,826.5 153.2,834.5 138.2,836.0 210.3,833.3 191.1,817.1 165.0,832.5 189.9,823.3 190.5,827.7 212.1,834.2 207.5,825.4 195.4,822.9 189.2,832.6 144.4,833.7 207.9,830.7 209.6,834.4 211.1,830.2 160.7,834.2 169.3,834.3 165.1,830.1 224.0,836.5 217.1,835.2 169.3,829.1 218.7,833.0 152.0,835.0 199.0,830.3 221.0,833.8 187.5,830.5 148.7,834.7 173.4,827.0 156.5,834.7 158.2,834.3 168.7,829.7 141.6,835.5 159.6,833.2 150.1,836.1 171.5,830.1 202.0,824.0 167.3,832.1 165.7,832.4 165.3,831.3 213.9,830.0 171.5,829.2 158.1,832.7 138.6,836.2 217.3,831.2 199.4,832.5 166.8,833.8 175.0,828.3 222.4,833.4 211.8,833.1 223.8,834.8 148.3,833.7 138.8,834.1 185.1,827.5 150.5,834.7 164.8,835.6 212.0,833.3 174.6,831.3 214.0,833.5 196.1,821.0 149.0,834.9 219.0,829.2 161.8,833.5 168.1,830.5 149.8,836.1 150.0,836.0 171.4,832.8 178.8,829.0 177.4,831.5 209.3,830.1 192.1,828.8 154.7,836.0 147.1,835.4 147.9,836.1 217.4,834.2 167.8,811.9 167.8,825.1 223.4,816.9" fill="none" stroke="none" marker-start="url(#d6a5acd)" marker-mid="url(#d6a5acd)" marker-end="url(#d6a5acd)"/>
<path d="M180.7,822.8 172.0,820.2 183.4,821.6 175.2,820.7 180.3,818.1 176.6,819.7 182.0,819.4 175.5,819.4 182.9,819.8 170.5,822.8 171.8,822.9 176.2,821.3 180.1,818.1 174.2,820.2 183.3,821.4 183.6,824.1 175.0,821.1 183.4,823.1 186.4,813.3 184.8,810.8 187.3,809.3 182.8,811.6 184.1,811.8" fill="none" stroke="none" marker-start="url(#d6dcf78)" marker-mid="url(#d6dcf78)" marker-end="url(#d6dcf78)"/>
<path d="M173.2,801.2 170.2,798.5 171.8,803.0 171.7,803.0 174.2,800.1 168.5,804.4 168.1,798.5 169.9,800.3 171.6,802.2 167.3,801.2 171.9,800.2 167.4,801.7 175.4,799.2 183.8,791.7 181.9,783.9 175.6,808.7 175.4,804.3 180.4,784.3 175.3,795.1 176.8,798.1" fill="none" stroke="none" marker-start="url(#d8fd31e)" marker-mid="url(#d8fd31e)" marker-end="url(#d8fd31e)"/>
<path d="M179.8,775.2 183.2,778.5 184.1,780.7 181.5,773.6" fill="none" stroke="none" marker-start="url(#dee7010)" marker-mid="url(#dee7010)" marker-end="url(#dee7010)"/>
</g>
<text x="149.60" y="782.60" font-size="8.7" text-anchor="middle" fill="#111">FDR</text>
<line x1="140.80" y1="783.70" x2="158.40" y2="783.70" stroke="#111" stroke-width="0.8"/>
<text x="149.10" y="793.10" font-size="8.7" text-anchor="middle" fill="#111">3.1E-4</text>
<rect x="132.40" y="773.90" width="94.90" height="65.10" fill="none" stroke="#1a1a1a" stroke-width="1.3"/>
<line x1="130.40" y1="836.60" x2="132.40" y2="836.60" stroke="#333" stroke-width="0.6"/>
<line x1="130.40" y1="820.16" x2="132.40" y2="820.16" stroke="#333" stroke-width="0.6"/>
<line x1="130.40" y1="803.72" x2="132.40" y2="803.72" stroke="#333" stroke-width="0.6"/>
<line x1="130.40" y1="787.28" x2="132.40" y2="787.28" stroke="#333" stroke-width="0.6"/>
<line x1="136.20" y1="839.00" x2="136.20" y2="841.00" stroke="#333" stroke-width="0.6"/>
<text x="136.20" y="850.80" font-size="8.2" text-anchor="middle" fill="#4d4d4d">90.25</text>
<line x1="178.95" y1="839.00" x2="178.95" y2="841.00" stroke="#333" stroke-width="0.6"/>
<text x="178.95" y="850.80" font-size="8.2" text-anchor="middle" fill="#4d4d4d">90.75</text>
<line x1="217.43" y1="839.00" x2="217.43" y2="841.00" stroke="#333" stroke-width="0.6"/>
<text x="217.43" y="850.80" font-size="8.2" text-anchor="middle" fill="#4d4d4d">91.2</text>
<text x="129.60" y="862.50" font-size="9.9" text-anchor="middle">Chromosome 8 (Mb)</text>
<text x="16.3" y="763.2" font-size="10.7" text-anchor="middle" transform="rotate(-90 16.3 763.2)">−log<tspan font-size="7.5" dy="2.7">10</tspan><tspan dy="-2.7">(P−value)</tspan></text>
<text x="256.90" y="652.30" font-size="11" font-weight="bold">e</text>
<clipPath id="ce1"><rect x="286.6" y="671.8" width="161.59999999999997" height="155.80000000000007"/></clipPath>
<g clip-path="url(#ce1)">
<ellipse cx="367.5" cy="750.1" rx="31.9" ry="30.5" fill="#dff5e6" fill-opacity="0.65" stroke="#3a9a50" stroke-width="0.9"/>
<line x1="286.60" y1="750.10" x2="448.20" y2="750.10" stroke="#444" stroke-width="0.9" stroke-dasharray="4,3"/>
<line x1="367.50" y1="671.80" x2="367.50" y2="827.60" stroke="#444" stroke-width="0.9" stroke-dasharray="4,3"/>
<path d="M331.0,712.5H360.4M345.7,727.5V697.5" stroke="#000" stroke-opacity="0.11" stroke-width="0.9" fill="none"/>
<path d="M339.1,715.7H365.1M352.1,732.2V699.2" stroke="#000" stroke-opacity="0.14" stroke-width="0.9" fill="none"/>
<path d="M338.8,718.9H367.0M352.9,733.8V704.0" stroke="#000" stroke-opacity="0.18" stroke-width="0.9" fill="none"/>
<path d="M326.7,722.1H351.9M339.3,732.5V711.7" stroke="#000" stroke-opacity="0.11" stroke-width="0.9" fill="none"/>
<path d="M328.4,719.7H364.6M346.5,732.5V706.9" stroke="#000" stroke-opacity="0.12" stroke-width="0.9" fill="none"/>
<path d="M346.8,732.1H375.2M361.0,747.1V717.1" stroke="#000" stroke-opacity="0.11" stroke-width="0.9" fill="none"/>
<path d="M337.7,736.1H376.9M357.3,747.1V725.1" stroke="#000" stroke-opacity="0.11" stroke-width="0.9" fill="none"/>
<path d="M345.6,739.8H379.6M362.6,752.8V726.8" stroke="#000" stroke-opacity="0.14" stroke-width="0.9" fill="none"/>
<path d="M322.0,741.9H356.6M339.3,759.5V724.3" stroke="#000" stroke-opacity="0.11" stroke-width="0.9" fill="none"/>
<path d="M334.4,753.4H358.6M346.5,768.6V738.2" stroke="#000" stroke-opacity="0.11" stroke-width="0.9" fill="none"/>
<path d="M348.7,755.0H378.1M363.4,769.8V740.2" stroke="#000" stroke-opacity="0.20" stroke-width="0.9" fill="none"/>
<path d="M349.5,747.8H386.9M368.2,757.2V738.4" stroke="#000" stroke-opacity="0.17" stroke-width="0.9" fill="none"/>
<path d="M362.5,751.0H386.7M374.6,763.0V739.0" stroke="#000" stroke-opacity="0.19" stroke-width="0.9" fill="none"/>
<path d="M365.6,755.8H386.8M376.2,767.2V744.4" stroke="#000" stroke-opacity="0.15" stroke-width="0.9" fill="none"/>
<path d="M344.3,766.3H372.7M358.5,775.5V757.1" stroke="#000" stroke-opacity="0.19" stroke-width="0.9" fill="none"/>
<path d="M354.0,764.7H388.8M371.4,780.0V749.4" stroke="#000" stroke-opacity="0.18" stroke-width="0.9" fill="none"/>
<path d="M375.2,751.0H403.0M389.1,762.3V739.7" stroke="#000" stroke-opacity="0.11" stroke-width="0.9" fill="none"/>
<path d="M382.7,757.4H406.7M394.7,769.5V745.3" stroke="#000" stroke-opacity="0.11" stroke-width="0.9" fill="none"/>
<path d="M382.3,747.8H408.7M395.5,757.9V737.7" stroke="#000" stroke-opacity="0.11" stroke-width="0.9" fill="none"/>
<path d="M369.6,772.7H407.0M388.3,782.9V762.5" stroke="#000" stroke-opacity="0.19" stroke-width="0.9" fill="none"/>
<path d="M385.1,777.5H405.9M395.5,787.7V767.3" stroke="#000" stroke-opacity="0.20" stroke-width="0.9" fill="none"/>
<path d="M388.5,773.5H408.9M398.7,789.8V757.2" stroke="#000" stroke-opacity="0.19" stroke-width="0.9" fill="none"/>
<path d="M362.6,779.1H399.4M381.0,790.2V768.0" stroke="#000" stroke-opacity="0.14" stroke-width="0.9" fill="none"/>
<path d="M369.4,787.2H408.6M389.0,802.9V771.5" stroke="#000" stroke-opacity="0.21" stroke-width="0.9" fill="none"/>
<path d="M369.2,783.1H397.6M383.4,792.2V774.0" stroke="#000" stroke-opacity="0.14" stroke-width="0.9" fill="none"/>
<path d="M347.5,742.0H384.5M366.0,755.8V728.2" stroke="#000" stroke-opacity="0.14" stroke-width="0.9" fill="none"/>
<path d="M357.7,745.0H382.3M370.0,762.6V727.4" stroke="#000" stroke-opacity="0.16" stroke-width="0.9" fill="none"/>
<path d="M366.3,760.0H393.7M380.0,769.9V750.1" stroke="#000" stroke-opacity="0.16" stroke-width="0.9" fill="none"/>
<path d="M377.1,775.0H406.9M392.0,791.0V759.0" stroke="#000" stroke-opacity="0.18" stroke-width="0.9" fill="none"/>
<path d="M374.6,776.0H397.4M386.0,787.7V764.3" stroke="#000" stroke-opacity="0.18" stroke-width="0.9" fill="none"/>
<path d="M387.6,776.0H414.4M401.0,793.0V759.0" stroke="#000" stroke-opacity="0.16" stroke-width="0.9" fill="none"/>
<circle cx="345.7" cy="712.5" r="2.6" fill="#000" fill-opacity="0.2"/>
<circle cx="352.1" cy="715.7" r="2.6" fill="#000" fill-opacity="0.35"/>
<circle cx="352.9" cy="718.9" r="2.6" fill="#000" fill-opacity="0.6"/>
<circle cx="339.3" cy="722.1" r="2.6" fill="#000" fill-opacity="0.18"/>
<circle cx="346.5" cy="719.7" r="2.6" fill="#000" fill-opacity="0.22"/>
<circle cx="361.0" cy="732.1" r="2.6" fill="#000" fill-opacity="0.2"/>
<circle cx="357.3" cy="736.1" r="2.6" fill="#000" fill-opacity="0.2"/>
<circle cx="362.6" cy="739.8" r="2.6" fill="#000" fill-opacity="0.35"/>
<circle cx="339.3" cy="741.9" r="2.6" fill="#000" fill-opacity="0.18"/>
<circle cx="346.5" cy="753.4" r="2.6" fill="#000" fill-opacity="0.2"/>
<circle cx="363.4" cy="755.0" r="2.6" fill="#000" fill-opacity="0.75"/>
<circle cx="368.2" cy="747.8" r="2.6" fill="#000" fill-opacity="0.55"/>
<circle cx="374.6" cy="751.0" r="2.6" fill="#000" fill-opacity="0.7"/>
<circle cx="376.2" cy="755.8" r="2.6" fill="#000" fill-opacity="0.45"/>
<circle cx="358.5" cy="766.3" r="2.6" fill="#000" fill-opacity="0.7"/>
<circle cx="371.4" cy="764.7" r="2.6" fill="#000" fill-opacity="0.65"/>
<circle cx="389.1" cy="751.0" r="2.6" fill="#000" fill-opacity="0.18"/>
<circle cx="394.7" cy="757.4" r="2.6" fill="#000" fill-opacity="0.2"/>
<circle cx="395.5" cy="747.8" r="2.6" fill="#000" fill-opacity="0.18"/>
<circle cx="388.3" cy="772.7" r="2.6" fill="#000" fill-opacity="0.7"/>
<circle cx="395.5" cy="777.5" r="2.6" fill="#000" fill-opacity="0.75"/>
<circle cx="398.7" cy="773.5" r="2.6" fill="#000" fill-opacity="0.7"/>
<circle cx="381.0" cy="779.1" r="2.6" fill="#000" fill-opacity="0.4"/>
<circle cx="389.0" cy="787.2" r="2.6" fill="#000" fill-opacity="0.8"/>
<circle cx="383.4" cy="783.1" r="2.6" fill="#000" fill-opacity="0.4"/>
<circle cx="366.0" cy="742.0" r="2.6" fill="#000" fill-opacity="0.4"/>
<circle cx="370.0" cy="745.0" r="2.6" fill="#000" fill-opacity="0.5"/>
<circle cx="380.0" cy="760.0" r="2.6" fill="#000" fill-opacity="0.5"/>
<circle cx="392.0" cy="775.0" r="2.6" fill="#000" fill-opacity="0.6"/>
<circle cx="386.0" cy="776.0" r="2.6" fill="#000" fill-opacity="0.6"/>
<circle cx="401.0" cy="776.0" r="2.6" fill="#000" fill-opacity="0.5"/>
<line x1="286.60" y1="695.30" x2="448.20" y2="805.00" stroke="#2b4de0" stroke-width="1.3"/>
<polyline points="286.60,687.10 290.64,690.23 294.68,693.36 298.72,696.48 302.76,699.61 306.80,702.74 310.84,705.87 314.88,708.99 318.92,712.12 322.96,715.25 327.00,718.37 331.04,721.50 335.08,724.62 339.12,727.75 343.16,730.87 347.20,733.99 351.24,737.10 355.28,740.21 359.32,743.31 363.36,746.39 367.40,749.41 371.44,752.29 375.48,754.95 379.52,757.44 383.56,759.86 387.60,762.25 391.64,764.63 395.68,767.00 399.72,769.37 403.76,771.73 407.80,774.09 411.84,776.46 415.88,778.82 419.92,781.17 423.96,783.53 428.00,785.89 432.04,788.25 436.08,790.61 440.12,792.96 444.16,795.32 448.20,797.68" fill="none" stroke="#2b4de0" stroke-width="0.9" stroke-dasharray="3.5,2.5"/>
<polyline points="286.60,703.50 290.64,705.86 294.68,708.21 298.72,710.57 302.76,712.93 306.80,715.28 310.84,717.64 314.88,720.00 318.92,722.36 322.96,724.72 327.00,727.08 331.04,729.44 335.08,731.80 339.12,734.16 343.16,736.52 347.20,738.89 351.24,741.26 355.28,743.63 359.32,746.02 363.36,748.43 367.40,750.89 371.44,753.49 375.48,756.32 379.52,759.31 383.56,762.38 387.60,765.47 391.64,768.58 395.68,771.69 399.72,774.81 403.76,777.93 407.80,781.06 411.84,784.18 415.88,787.30 419.92,790.43 423.96,793.56 428.00,796.68 432.04,799.81 436.08,802.94 440.12,806.07 444.16,809.19 448.20,812.32" fill="none" stroke="#2b4de0" stroke-width="0.9" stroke-dasharray="3.5,2.5"/>
</g>
<rect x="286.60" y="671.80" width="161.60" height="155.80" fill="none" stroke="#333" stroke-width="0.9"/>
<line x1="325.85" y1="827.60" x2="325.85" y2="832.00" stroke="#333" stroke-width="0.8"/>
<text x="325.85" y="849.20" font-size="9.6" text-anchor="middle" fill="#222">-5</text>
<line x1="281.60" y1="790.10" x2="286.60" y2="790.10" stroke="#333" stroke-width="0.8"/>
<text x="273.20" y="790.10" font-size="9.6" text-anchor="middle" fill="#222" transform="rotate(-90 273.20 790.10)">-5</text>
<line x1="367.50" y1="827.60" x2="367.50" y2="832.00" stroke="#333" stroke-width="0.8"/>
<text x="367.50" y="849.20" font-size="9.6" text-anchor="middle" fill="#222">0</text>
<line x1="281.60" y1="750.10" x2="286.60" y2="750.10" stroke="#333" stroke-width="0.8"/>
<text x="273.20" y="750.10" font-size="9.6" text-anchor="middle" fill="#222" transform="rotate(-90 273.20 750.10)">0</text>
<line x1="409.15" y1="827.60" x2="409.15" y2="832.00" stroke="#333" stroke-width="0.8"/>
<text x="409.15" y="849.20" font-size="9.6" text-anchor="middle" fill="#222">5</text>
<line x1="281.60" y1="710.10" x2="286.60" y2="710.10" stroke="#333" stroke-width="0.8"/>
<text x="273.20" y="710.10" font-size="9.6" text-anchor="middle" fill="#222" transform="rotate(-90 273.20 710.10)">5</text>
<text x="408.80" y="686.20" font-size="9.1" text-anchor="middle" fill="#2424f0">Causal estimate</text>
<text x="409.40" y="696.30" font-size="9.15" text-anchor="middle" fill="#2424f0">-0.71 (P=8.5E-42)</text>
<line x1="294.60" y1="788.70" x2="308.50" y2="788.70" stroke="#2b4de0" stroke-width="1.4"/>
<text x="314.30" y="791.30" font-size="7.2" fill="#222">MR effect</text>
<circle cx="301.6" cy="811.9" r="4.5" fill="#dff5e6" stroke="#3a9a50" stroke-width="0.8"/>
<text x="314.30" y="805.80" font-size="7.2" fill="#222">Null</text>
<text x="314.30" y="814.90" font-size="7.2" fill="#222">confidence</text>
<text x="314.30" y="823.40" font-size="7.2" fill="#222">ellipse</text>
<text x="249.80" y="749.70" font-size="9.95" text-anchor="middle" fill="#111" transform="rotate(-90 249.80 749.70)">Cerebellum eQTL marginal Z-statistic</text>
<text x="367.40" y="872.50" font-size="9.7" text-anchor="middle" fill="#111">AD marginal Z-statistic</text>
<clipPath id="ce2"><rect x="507.6" y="672.3" width="162.60000000000002" height="155.0"/></clipPath>
<g clip-path="url(#ce2)">
<ellipse cx="588.1" cy="750.1" rx="34.0" ry="32.8" fill="#dff5e6" fill-opacity="0.65" stroke="#3a9a50" stroke-width="0.9"/>
<line x1="507.60" y1="750.10" x2="670.20" y2="750.10" stroke="#444" stroke-width="0.9" stroke-dasharray="4,3"/>
<line x1="588.10" y1="672.30" x2="588.10" y2="827.30" stroke="#444" stroke-width="0.9" stroke-dasharray="4,3"/>
<path d="M560.9,702.1H580.7M570.8,719.7V684.5" stroke="#000" stroke-opacity="0.33" stroke-width="0.9" fill="none"/>
<path d="M556.8,713.3H589.8M573.2,727.7V698.9" stroke="#000" stroke-opacity="0.36" stroke-width="0.9" fill="none"/>
<path d="M548.5,721.3H584.8M566.6,735.7V706.9" stroke="#000" stroke-opacity="0.33" stroke-width="0.9" fill="none"/>
<path d="M545.2,739.7H570.0M557.6,751.7V727.7" stroke="#000" stroke-opacity="0.23" stroke-width="0.9" fill="none"/>
<path d="M555.9,708.5H582.3M569.1,720.5V696.5" stroke="#000" stroke-opacity="0.30" stroke-width="0.9" fill="none"/>
<path d="M554.3,725.3H595.5M574.9,734.9V715.7" stroke="#000" stroke-opacity="0.36" stroke-width="0.9" fill="none"/>
<path d="M603.8,803.7H623.6M613.7,819.7V787.7" stroke="#000" stroke-opacity="0.36" stroke-width="0.9" fill="none"/>
<path d="M606.2,758.9H636.0M621.1,771.7V746.1" stroke="#000" stroke-opacity="0.36" stroke-width="0.9" fill="none"/>
<path d="M593.1,794.9H619.5M606.2,807.7V782.1" stroke="#000" stroke-opacity="0.36" stroke-width="0.9" fill="none"/>
<path d="M603.8,790.1H630.2M617.0,802.9V777.3" stroke="#000" stroke-opacity="0.33" stroke-width="0.9" fill="none"/>
<path d="M566.6,774.1H591.4M579.0,786.1V762.1" stroke="#000" stroke-opacity="0.21" stroke-width="0.9" fill="none"/>
<path d="M563.4,765.3H588.1M575.7,777.3V753.3" stroke="#000" stroke-opacity="0.23" stroke-width="0.9" fill="none"/>
<path d="M594.7,766.1H637.6M616.1,777.3V754.9" stroke="#000" stroke-opacity="0.33" stroke-width="0.9" fill="none"/>
<path d="M584.6,732.5H614.6M599.6,755.1V710.0" stroke="#000" stroke-opacity="0.36" stroke-width="0.9" fill="none"/>
<path d="M566.9,728.2H613.2M590.0,741.7V714.7" stroke="#000" stroke-opacity="0.36" stroke-width="0.9" fill="none"/>
<path d="M572.6,732.4H619.4M596.0,749.7V715.1" stroke="#000" stroke-opacity="0.26" stroke-width="0.9" fill="none"/>
<path d="M574.2,737.5H613.4M593.8,753.5V721.5" stroke="#000" stroke-opacity="0.32" stroke-width="0.9" fill="none"/>
<path d="M560.5,725.0H591.5M576.0,738.0V711.9" stroke="#000" stroke-opacity="0.29" stroke-width="0.9" fill="none"/>
<path d="M582.3,724.5H614.9M598.6,738.0V711.0" stroke="#000" stroke-opacity="0.28" stroke-width="0.9" fill="none"/>
<path d="M574.0,725.8H614.9M594.4,741.2V710.4" stroke="#000" stroke-opacity="0.29" stroke-width="0.9" fill="none"/>
<path d="M567.3,744.8H610.2M588.7,771.0V718.7" stroke="#000" stroke-opacity="0.32" stroke-width="0.9" fill="none"/>
<path d="M579.6,737.0H624.2M601.9,750.8V723.2" stroke="#000" stroke-opacity="0.25" stroke-width="0.9" fill="none"/>
<path d="M574.4,722.9H627.6M601.0,744.2V701.5" stroke="#000" stroke-opacity="0.26" stroke-width="0.9" fill="none"/>
<path d="M565.9,732.6H608.9M587.4,755.8V709.5" stroke="#000" stroke-opacity="0.27" stroke-width="0.9" fill="none"/>
<path d="M567.2,730.1H621.6M594.4,750.6V709.6" stroke="#000" stroke-opacity="0.38" stroke-width="0.9" fill="none"/>
<path d="M565.1,739.6H607.4M586.2,759.9V719.4" stroke="#000" stroke-opacity="0.29" stroke-width="0.9" fill="none"/>
<path d="M580.0,731.3H606.7M593.4,752.9V709.6" stroke="#000" stroke-opacity="0.33" stroke-width="0.9" fill="none"/>
<path d="M573.3,735.9H604.6M588.9,750.8V721.0" stroke="#000" stroke-opacity="0.27" stroke-width="0.9" fill="none"/>
<path d="M565.7,721.7H610.4M588.1,746.4V697.0" stroke="#000" stroke-opacity="0.35" stroke-width="0.9" fill="none"/>
<path d="M574.6,723.1H613.4M594.0,741.5V704.8" stroke="#000" stroke-opacity="0.34" stroke-width="0.9" fill="none"/>
<path d="M576.5,735.4H613.7M595.1,758.8V711.9" stroke="#000" stroke-opacity="0.29" stroke-width="0.9" fill="none"/>
<path d="M568.0,735.8H613.9M590.9,759.6V712.1" stroke="#000" stroke-opacity="0.35" stroke-width="0.9" fill="none"/>
<path d="M560.7,722.9H592.2M576.4,742.0V703.9" stroke="#000" stroke-opacity="0.31" stroke-width="0.9" fill="none"/>
<path d="M582.1,739.7H607.2M594.6,756.9V722.5" stroke="#000" stroke-opacity="0.38" stroke-width="0.9" fill="none"/>
<path d="M573.1,734.6H620.8M596.9,750.0V719.2" stroke="#000" stroke-opacity="0.38" stroke-width="0.9" fill="none"/>
<path d="M584.7,744.9H611.6M598.1,770.3V719.4" stroke="#000" stroke-opacity="0.27" stroke-width="0.9" fill="none"/>
<path d="M569.1,737.2H622.6M595.9,756.7V717.7" stroke="#000" stroke-opacity="0.30" stroke-width="0.9" fill="none"/>
<path d="M565.3,730.9H605.4M585.3,747.8V713.9" stroke="#000" stroke-opacity="0.25" stroke-width="0.9" fill="none"/>
<path d="M574.4,727.8H619.1M596.8,742.5V713.0" stroke="#000" stroke-opacity="0.34" stroke-width="0.9" fill="none"/>
<path d="M586.1,729.9H611.7M598.9,755.8V704.1" stroke="#000" stroke-opacity="0.37" stroke-width="0.9" fill="none"/>
<path d="M566.9,726.3H618.9M592.9,740.3V712.2" stroke="#000" stroke-opacity="0.32" stroke-width="0.9" fill="none"/>
<path d="M572.9,730.4H616.4M594.6,753.0V707.8" stroke="#000" stroke-opacity="0.30" stroke-width="0.9" fill="none"/>
<path d="M582.4,728.1H607.2M594.8,742.0V714.2" stroke="#000" stroke-opacity="0.30" stroke-width="0.9" fill="none"/>
<path d="M561.1,736.0H610.5M585.8,760.6V711.4" stroke="#000" stroke-opacity="0.37" stroke-width="0.9" fill="none"/>
<path d="M555.1,736.4H608.0M581.6,752.6V720.2" stroke="#000" stroke-opacity="0.29" stroke-width="0.9" fill="none"/>
<path d="M563.6,738.1H612.2M587.9,754.9V721.2" stroke="#000" stroke-opacity="0.32" stroke-width="0.9" fill="none"/>
<path d="M575.1,720.0H611.1M593.1,738.4V701.6" stroke="#000" stroke-opacity="0.31" stroke-width="0.9" fill="none"/>
<path d="M563.1,715.5H609.3M586.2,730.4V700.5" stroke="#000" stroke-opacity="0.33" stroke-width="0.9" fill="none"/>
<path d="M575.7,730.2H620.9M598.3,746.2V714.2" stroke="#000" stroke-opacity="0.32" stroke-width="0.9" fill="none"/>
<path d="M568.3,737.3H609.9M589.1,763.6V711.0" stroke="#000" stroke-opacity="0.35" stroke-width="0.9" fill="none"/>
<path d="M568.1,732.8H601.6M584.9,748.5V717.0" stroke="#000" stroke-opacity="0.32" stroke-width="0.9" fill="none"/>
<path d="M563.6,750.3H618.6M591.1,776.2V724.5" stroke="#000" stroke-opacity="0.31" stroke-width="0.9" fill="none"/>
<path d="M568.6,731.1H613.6M591.1,753.7V708.6" stroke="#000" stroke-opacity="0.35" stroke-width="0.9" fill="none"/>
<path d="M572.8,734.4H616.7M594.7,749.3V719.5" stroke="#000" stroke-opacity="0.35" stroke-width="0.9" fill="none"/>
<path d="M586.6,735.8H619.3M602.9,760.0V711.5" stroke="#000" stroke-opacity="0.35" stroke-width="0.9" fill="none"/>
<path d="M561.3,740.2H615.5M588.4,764.3V716.0" stroke="#000" stroke-opacity="0.27" stroke-width="0.9" fill="none"/>
<path d="M576.0,745.6H602.9M589.5,759.5V731.7" stroke="#000" stroke-opacity="0.33" stroke-width="0.9" fill="none"/>
<path d="M568.9,727.3H624.4M596.7,751.9V702.7" stroke="#000" stroke-opacity="0.26" stroke-width="0.9" fill="none"/>
<path d="M575.4,737.8H609.4M592.4,763.4V712.1" stroke="#000" stroke-opacity="0.36" stroke-width="0.9" fill="none"/>
<path d="M584.1,735.5H612.2M598.1,749.5V721.5" stroke="#000" stroke-opacity="0.30" stroke-width="0.9" fill="none"/>
<path d="M562.9,737.2H613.4M588.1,752.8V721.6" stroke="#000" stroke-opacity="0.33" stroke-width="0.9" fill="none"/>
<path d="M570.9,726.2H601.0M585.9,750.3V702.0" stroke="#000" stroke-opacity="0.28" stroke-width="0.9" fill="none"/>
<path d="M574.9,738.7H621.7M598.3,762.0V715.5" stroke="#000" stroke-opacity="0.27" stroke-width="0.9" fill="none"/>
<path d="M580.0,742.5H612.1M596.0,754.8V730.1" stroke="#000" stroke-opacity="0.33" stroke-width="0.9" fill="none"/>
<path d="M578.6,727.7H616.5M597.6,746.9V708.5" stroke="#000" stroke-opacity="0.28" stroke-width="0.9" fill="none"/>
<path d="M568.4,727.4H608.3M588.4,749.7V705.1" stroke="#000" stroke-opacity="0.31" stroke-width="0.9" fill="none"/>
<path d="M564.0,733.1H617.3M590.6,747.9V718.2" stroke="#000" stroke-opacity="0.33" stroke-width="0.9" fill="none"/>
<path d="M566.0,732.3H606.0M586.0,758.6V706.0" stroke="#000" stroke-opacity="0.26" stroke-width="0.9" fill="none"/>
<path d="M574.2,752.1H607.3M590.7,766.8V737.3" stroke="#000" stroke-opacity="0.31" stroke-width="0.9" fill="none"/>
<path d="M575.4,735.2H603.8M589.6,748.0V722.5" stroke="#000" stroke-opacity="0.35" stroke-width="0.9" fill="none"/>
<path d="M578.4,743.8H605.7M592.1,763.1V724.5" stroke="#000" stroke-opacity="0.37" stroke-width="0.9" fill="none"/>
<path d="M556.9,734.3H608.1M582.5,756.5V712.1" stroke="#000" stroke-opacity="0.33" stroke-width="0.9" fill="none"/>
<path d="M567.0,741.0H607.0M587.0,761.8V720.2" stroke="#000" stroke-opacity="0.34" stroke-width="0.9" fill="none"/>
<path d="M558.7,749.3H612.9M585.8,769.8V728.9" stroke="#000" stroke-opacity="0.33" stroke-width="0.9" fill="none"/>
<path d="M564.8,738.2H616.3M590.6,765.7V710.8" stroke="#000" stroke-opacity="0.26" stroke-width="0.9" fill="none"/>
<path d="M572.3,738.3H605.8M589.0,758.9V717.8" stroke="#000" stroke-opacity="0.26" stroke-width="0.9" fill="none"/>
<path d="M569.9,734.5H616.4M593.2,751.2V717.7" stroke="#000" stroke-opacity="0.25" stroke-width="0.9" fill="none"/>
<path d="M570.9,751.6H615.6M593.2,773.6V729.7" stroke="#000" stroke-opacity="0.30" stroke-width="0.9" fill="none"/>
<path d="M569.6,739.5H613.3M591.5,761.5V717.5" stroke="#000" stroke-opacity="0.25" stroke-width="0.9" fill="none"/>
<path d="M563.0,731.3H605.7M584.4,757.9V704.7" stroke="#000" stroke-opacity="0.29" stroke-width="0.9" fill="none"/>
<path d="M567.7,748.2H619.4M593.6,770.6V725.9" stroke="#000" stroke-opacity="0.24" stroke-width="0.9" fill="none"/>
<path d="M580.2,723.1H641.0M610.6,745.0V701.2" stroke="#000" stroke-opacity="0.33" stroke-width="0.9" fill="none"/>
<path d="M547.1,740.2H607.5M577.3,768.4V712.0" stroke="#000" stroke-opacity="0.33" stroke-width="0.9" fill="none"/>
<path d="M568.3,750.2H625.5M596.9,779.9V720.4" stroke="#000" stroke-opacity="0.32" stroke-width="0.9" fill="none"/>
<path d="M561.8,748.2H620.5M591.1,776.4V719.9" stroke="#000" stroke-opacity="0.24" stroke-width="0.9" fill="none"/>
<path d="M574.5,750.6H611.9M593.2,772.6V728.6" stroke="#000" stroke-opacity="0.31" stroke-width="0.9" fill="none"/>
<path d="M580.7,750.8H619.6M600.2,770.8V730.8" stroke="#000" stroke-opacity="0.27" stroke-width="0.9" fill="none"/>
<path d="M570.0,757.3H590.4M580.2,779.3V735.3" stroke="#000" stroke-opacity="0.32" stroke-width="0.9" fill="none"/>
<path d="M573.1,760.2H597.8M585.5,772.0V748.4" stroke="#000" stroke-opacity="0.23" stroke-width="0.9" fill="none"/>
<path d="M575.3,745.1H605.0M590.1,768.7V721.4" stroke="#000" stroke-opacity="0.25" stroke-width="0.9" fill="none"/>
<path d="M565.9,746.6H590.3M578.1,768.2V725.0" stroke="#000" stroke-opacity="0.23" stroke-width="0.9" fill="none"/>
<path d="M582.1,751.9H612.6M597.3,769.1V734.8" stroke="#000" stroke-opacity="0.29" stroke-width="0.9" fill="none"/>
<path d="M581.4,741.8H601.6M591.5,763.1V720.6" stroke="#000" stroke-opacity="0.28" stroke-width="0.9" fill="none"/>
<path d="M560.9,747.1H603.1M582.0,768.0V726.3" stroke="#000" stroke-opacity="0.30" stroke-width="0.9" fill="none"/>
<path d="M581.5,734.0H609.2M595.4,743.7V724.4" stroke="#000" stroke-opacity="0.32" stroke-width="0.9" fill="none"/>
<path d="M576.3,737.6H600.5M588.4,752.0V723.1" stroke="#000" stroke-opacity="0.29" stroke-width="0.9" fill="none"/>
<path d="M569.2,743.3H610.4M589.8,756.2V730.4" stroke="#000" stroke-opacity="0.31" stroke-width="0.9" fill="none"/>
<path d="M574.0,747.9H607.7M590.8,770.2V725.6" stroke="#000" stroke-opacity="0.25" stroke-width="0.9" fill="none"/>
<path d="M563.1,744.0H601.4M582.3,754.7V733.2" stroke="#000" stroke-opacity="0.30" stroke-width="0.9" fill="none"/>
<path d="M571.0,757.3H606.3M588.6,778.8V735.9" stroke="#000" stroke-opacity="0.32" stroke-width="0.9" fill="none"/>
<path d="M568.5,753.6H595.5M582.0,773.9V733.4" stroke="#000" stroke-opacity="0.25" stroke-width="0.9" fill="none"/>
<path d="M605.5,776.1H647.8M626.6,790.8V761.4" stroke="#000" stroke-opacity="0.36" stroke-width="0.9" fill="none"/>
<path d="M599.6,790.4H633.3M616.5,810.3V770.5" stroke="#000" stroke-opacity="0.32" stroke-width="0.9" fill="none"/>
<path d="M591.8,775.0H618.1M604.9,789.7V760.3" stroke="#000" stroke-opacity="0.31" stroke-width="0.9" fill="none"/>
<path d="M593.4,775.4H634.1M613.8,787.6V763.1" stroke="#000" stroke-opacity="0.34" stroke-width="0.9" fill="none"/>
<path d="M596.0,781.1H622.8M609.4,798.2V764.0" stroke="#000" stroke-opacity="0.35" stroke-width="0.9" fill="none"/>
<path d="M585.6,770.6H623.6M604.6,787.0V754.1" stroke="#000" stroke-opacity="0.33" stroke-width="0.9" fill="none"/>
<path d="M597.0,783.5H635.2M616.1,805.5V761.5" stroke="#000" stroke-opacity="0.34" stroke-width="0.9" fill="none"/>
<path d="M600.9,799.2H640.2M620.5,822.6V775.8" stroke="#000" stroke-opacity="0.33" stroke-width="0.9" fill="none"/>
<path d="M586.1,779.8H618.9M602.5,794.9V764.7" stroke="#000" stroke-opacity="0.39" stroke-width="0.9" fill="none"/>
<path d="M592.3,796.3H622.7M607.5,810.3V782.3" stroke="#000" stroke-opacity="0.36" stroke-width="0.9" fill="none"/>
<path d="M575.5,788.8H623.6M599.5,810.2V767.5" stroke="#000" stroke-opacity="0.32" stroke-width="0.9" fill="none"/>
<path d="M593.9,780.9H634.3M614.1,803.4V758.5" stroke="#000" stroke-opacity="0.32" stroke-width="0.9" fill="none"/>
<path d="M598.6,777.6H641.4M620.0,801.1V754.1" stroke="#000" stroke-opacity="0.36" stroke-width="0.9" fill="none"/>
<path d="M593.0,774.9H618.3M605.6,792.3V757.5" stroke="#000" stroke-opacity="0.35" stroke-width="0.9" fill="none"/>
<path d="M593.9,769.0H626.0M609.9,781.4V756.6" stroke="#000" stroke-opacity="0.30" stroke-width="0.9" fill="none"/>
<path d="M592.2,782.0H616.1M604.1,802.0V762.1" stroke="#000" stroke-opacity="0.36" stroke-width="0.9" fill="none"/>
<path d="M603.2,789.1H630.7M616.9,801.4V776.8" stroke="#000" stroke-opacity="0.33" stroke-width="0.9" fill="none"/>
<path d="M604.3,787.2H635.8M620.0,808.5V766.0" stroke="#000" stroke-opacity="0.36" stroke-width="0.9" fill="none"/>
<path d="M584.9,785.7H633.5M609.2,802.5V768.8" stroke="#000" stroke-opacity="0.37" stroke-width="0.9" fill="none"/>
<path d="M583.9,775.7H627.0M605.4,787.3V764.0" stroke="#000" stroke-opacity="0.31" stroke-width="0.9" fill="none"/>
<path d="M585.1,794.6H630.2M607.7,807.2V782.0" stroke="#000" stroke-opacity="0.30" stroke-width="0.9" fill="none"/>
<path d="M590.7,775.4H634.6M612.7,797.5V753.3" stroke="#000" stroke-opacity="0.29" stroke-width="0.9" fill="none"/>
<path d="M590.0,778.5H639.4M614.7,792.7V764.3" stroke="#000" stroke-opacity="0.38" stroke-width="0.9" fill="none"/>
<path d="M592.2,784.9H620.4M606.3,798.7V771.1" stroke="#000" stroke-opacity="0.32" stroke-width="0.9" fill="none"/>
<path d="M594.3,784.5H637.6M616.0,799.2V769.7" stroke="#000" stroke-opacity="0.29" stroke-width="0.9" fill="none"/>
<path d="M593.6,788.9H635.1M614.4,805.8V772.0" stroke="#000" stroke-opacity="0.32" stroke-width="0.9" fill="none"/>
<path d="M598.2,780.5H633.3M615.7,792.9V768.1" stroke="#000" stroke-opacity="0.37" stroke-width="0.9" fill="none"/>
<path d="M585.6,793.9H626.5M606.1,815.4V772.4" stroke="#000" stroke-opacity="0.35" stroke-width="0.9" fill="none"/>
<path d="M572.7,745.5H601.5M587.1,758.6V732.4" stroke="#000" stroke-opacity="0.26" stroke-width="0.9" fill="none"/>
<path d="M561.5,735.9H601.1M581.3,749.2V722.7" stroke="#000" stroke-opacity="0.30" stroke-width="0.9" fill="none"/>
<path d="M578.7,739.2H617.9M598.3,758.0V720.3" stroke="#000" stroke-opacity="0.25" stroke-width="0.9" fill="none"/>
<path d="M552.6,734.0H596.5M574.6,745.8V722.3" stroke="#000" stroke-opacity="0.28" stroke-width="0.9" fill="none"/>
<path d="M561.5,731.6H594.9M578.2,751.7V711.5" stroke="#000" stroke-opacity="0.25" stroke-width="0.9" fill="none"/>
<path d="M571.5,749.4H596.6M584.1,763.3V735.5" stroke="#000" stroke-opacity="0.25" stroke-width="0.9" fill="none"/>
<path d="M553.1,740.7H580.2M566.7,757.7V723.6" stroke="#000" stroke-opacity="0.23" stroke-width="0.9" fill="none"/>
<path d="M565.7,748.8H598.3M582.0,764.9V732.7" stroke="#000" stroke-opacity="0.24" stroke-width="0.9" fill="none"/>
<path d="M590.6,748.9H620.3M605.5,762.3V735.5" stroke="#000" stroke-opacity="0.26" stroke-width="0.9" fill="none"/>
<path d="M594.7,756.9H626.2M610.4,771.8V742.1" stroke="#000" stroke-opacity="0.25" stroke-width="0.9" fill="none"/>
<path d="M597.1,762.1H623.5M610.3,772.3V751.9" stroke="#000" stroke-opacity="0.24" stroke-width="0.9" fill="none"/>
<path d="M593.7,752.3H612.9M603.3,763.9V740.6" stroke="#000" stroke-opacity="0.23" stroke-width="0.9" fill="none"/>
<path d="M594.7,762.0H618.3M606.5,778.9V745.0" stroke="#000" stroke-opacity="0.28" stroke-width="0.9" fill="none"/>
<path d="M586.9,754.8H622.1M604.5,769.8V739.8" stroke="#000" stroke-opacity="0.22" stroke-width="0.9" fill="none"/>
<circle cx="570.8" cy="702.1" r="2.4" fill="#000" fill-opacity="0.5"/>
<circle cx="573.2" cy="713.3" r="2.4" fill="#000" fill-opacity="0.6"/>
<circle cx="566.6" cy="721.3" r="2.4" fill="#000" fill-opacity="0.5"/>
<circle cx="557.6" cy="739.7" r="2.4" fill="#000" fill-opacity="0.2"/>
<circle cx="569.1" cy="708.5" r="2.4" fill="#000" fill-opacity="0.4"/>
<circle cx="574.9" cy="725.3" r="2.4" fill="#000" fill-opacity="0.6"/>
<circle cx="613.7" cy="803.7" r="2.4" fill="#000" fill-opacity="0.6"/>
<circle cx="621.1" cy="758.9" r="2.4" fill="#000" fill-opacity="0.6"/>
<circle cx="606.2" cy="794.9" r="2.4" fill="#000" fill-opacity="0.6"/>
<circle cx="617.0" cy="790.1" r="2.4" fill="#000" fill-opacity="0.5"/>
<circle cx="579.0" cy="774.1" r="2.4" fill="#000" fill-opacity="0.15"/>
<circle cx="575.7" cy="765.3" r="2.4" fill="#000" fill-opacity="0.2"/>
<circle cx="616.1" cy="766.1" r="2.4" fill="#000" fill-opacity="0.5"/>
<circle cx="599.6" cy="732.5" r="2.4" fill="#000" fill-opacity="0.59"/>
<circle cx="590.0" cy="728.2" r="2.4" fill="#000" fill-opacity="0.59"/>
<circle cx="596.0" cy="732.4" r="2.4" fill="#000" fill-opacity="0.28"/>
<circle cx="593.8" cy="737.5" r="2.4" fill="#000" fill-opacity="0.46"/>
<circle cx="576.0" cy="725.0" r="2.4" fill="#000" fill-opacity="0.37"/>
<circle cx="598.6" cy="724.5" r="2.4" fill="#000" fill-opacity="0.34"/>
<circle cx="594.4" cy="725.8" r="2.4" fill="#000" fill-opacity="0.39"/>
<circle cx="588.7" cy="744.8" r="2.4" fill="#000" fill-opacity="0.47"/>
<circle cx="601.9" cy="737.0" r="2.4" fill="#000" fill-opacity="0.27"/>
<circle cx="601.0" cy="722.9" r="2.4" fill="#000" fill-opacity="0.29"/>
<circle cx="587.4" cy="732.6" r="2.4" fill="#000" fill-opacity="0.31"/>
<circle cx="594.4" cy="730.1" r="2.4" fill="#000" fill-opacity="0.65"/>
<circle cx="586.2" cy="739.6" r="2.4" fill="#000" fill-opacity="0.38"/>
<circle cx="593.4" cy="731.3" r="2.4" fill="#000" fill-opacity="0.5"/>
<circle cx="588.9" cy="735.9" r="2.4" fill="#000" fill-opacity="0.32"/>
<circle cx="588.1" cy="721.7" r="2.4" fill="#000" fill-opacity="0.57"/>
<circle cx="594.0" cy="723.1" r="2.4" fill="#000" fill-opacity="0.53"/>
<circle cx="595.1" cy="735.4" r="2.4" fill="#000" fill-opacity="0.39"/>
<circle cx="590.9" cy="735.8" r="2.4" fill="#000" fill-opacity="0.55"/>
<circle cx="576.4" cy="722.9" r="2.4" fill="#000" fill-opacity="0.45"/>
<circle cx="594.6" cy="739.7" r="2.4" fill="#000" fill-opacity="0.64"/>
<circle cx="596.9" cy="734.6" r="2.4" fill="#000" fill-opacity="0.64"/>
<circle cx="598.1" cy="744.9" r="2.4" fill="#000" fill-opacity="0.32"/>
<circle cx="595.9" cy="737.2" r="2.4" fill="#000" fill-opacity="0.4"/>
<circle cx="585.3" cy="730.9" r="2.4" fill="#000" fill-opacity="0.26"/>
<circle cx="596.8" cy="727.8" r="2.4" fill="#000" fill-opacity="0.53"/>
<circle cx="598.9" cy="729.9" r="2.4" fill="#000" fill-opacity="0.63"/>
<circle cx="592.9" cy="726.3" r="2.4" fill="#000" fill-opacity="0.48"/>
<circle cx="594.6" cy="730.4" r="2.4" fill="#000" fill-opacity="0.42"/>
<circle cx="594.8" cy="728.1" r="2.4" fill="#000" fill-opacity="0.4"/>
<circle cx="585.8" cy="736.0" r="2.4" fill="#000" fill-opacity="0.62"/>
<circle cx="581.6" cy="736.4" r="2.4" fill="#000" fill-opacity="0.39"/>
<circle cx="587.9" cy="738.1" r="2.4" fill="#000" fill-opacity="0.46"/>
<circle cx="593.1" cy="720.0" r="2.4" fill="#000" fill-opacity="0.44"/>
<circle cx="586.2" cy="715.5" r="2.4" fill="#000" fill-opacity="0.51"/>
<circle cx="598.3" cy="730.2" r="2.4" fill="#000" fill-opacity="0.46"/>
<circle cx="589.1" cy="737.3" r="2.4" fill="#000" fill-opacity="0.56"/>
<circle cx="584.9" cy="732.8" r="2.4" fill="#000" fill-opacity="0.46"/>
<circle cx="591.1" cy="750.3" r="2.4" fill="#000" fill-opacity="0.44"/>
<circle cx="591.1" cy="731.1" r="2.4" fill="#000" fill-opacity="0.55"/>
<circle cx="594.7" cy="734.4" r="2.4" fill="#000" fill-opacity="0.56"/>
<circle cx="602.9" cy="735.8" r="2.4" fill="#000" fill-opacity="0.56"/>
<circle cx="588.4" cy="740.2" r="2.4" fill="#000" fill-opacity="0.32"/>
<circle cx="589.5" cy="745.6" r="2.4" fill="#000" fill-opacity="0.49"/>
<circle cx="596.7" cy="727.3" r="2.4" fill="#000" fill-opacity="0.29"/>
<circle cx="592.4" cy="737.8" r="2.4" fill="#000" fill-opacity="0.58"/>
<circle cx="598.1" cy="735.5" r="2.4" fill="#000" fill-opacity="0.41"/>
<circle cx="588.1" cy="737.2" r="2.4" fill="#000" fill-opacity="0.49"/>
<circle cx="585.9" cy="726.2" r="2.4" fill="#000" fill-opacity="0.35"/>
<circle cx="598.3" cy="738.7" r="2.4" fill="#000" fill-opacity="0.33"/>
<circle cx="596.0" cy="742.5" r="2.4" fill="#000" fill-opacity="0.5"/>
<circle cx="597.6" cy="727.7" r="2.4" fill="#000" fill-opacity="0.36"/>
<circle cx="588.4" cy="727.4" r="2.4" fill="#000" fill-opacity="0.43"/>
<circle cx="590.6" cy="733.1" r="2.4" fill="#000" fill-opacity="0.51"/>
<circle cx="586.0" cy="732.3" r="2.4" fill="#000" fill-opacity="0.28"/>
<circle cx="590.7" cy="752.1" r="2.4" fill="#000" fill-opacity="0.44"/>
<circle cx="589.6" cy="735.2" r="2.4" fill="#000" fill-opacity="0.55"/>
<circle cx="592.1" cy="743.8" r="2.4" fill="#000" fill-opacity="0.63"/>
<circle cx="582.5" cy="734.3" r="2.4" fill="#000" fill-opacity="0.51"/>
<circle cx="587.0" cy="741.0" r="2.4" fill="#000" fill-opacity="0.52"/>
<circle cx="585.8" cy="749.3" r="2.4" fill="#000" fill-opacity="0.5"/>
<circle cx="590.6" cy="738.2" r="2.4" fill="#000" fill-opacity="0.28"/>
<circle cx="589.0" cy="738.3" r="2.4" fill="#000" fill-opacity="0.29"/>
<circle cx="593.2" cy="734.5" r="2.4" fill="#000" fill-opacity="0.25"/>
<circle cx="593.2" cy="751.6" r="2.4" fill="#000" fill-opacity="0.4"/>
<circle cx="591.5" cy="739.5" r="2.4" fill="#000" fill-opacity="0.27"/>
<circle cx="584.4" cy="731.3" r="2.4" fill="#000" fill-opacity="0.38"/>
<circle cx="593.6" cy="748.2" r="2.4" fill="#000" fill-opacity="0.24"/>
<circle cx="610.6" cy="723.1" r="2.4" fill="#000" fill-opacity="0.5"/>
<circle cx="577.3" cy="740.2" r="2.4" fill="#000" fill-opacity="0.49"/>
<circle cx="596.9" cy="750.2" r="2.4" fill="#000" fill-opacity="0.47"/>
<circle cx="591.1" cy="748.2" r="2.4" fill="#000" fill-opacity="0.22"/>
<circle cx="593.2" cy="750.6" r="2.4" fill="#000" fill-opacity="0.43"/>
<circle cx="600.2" cy="750.8" r="2.4" fill="#000" fill-opacity="0.31"/>
<circle cx="580.2" cy="757.3" r="2.4" fill="#000" fill-opacity="0.47"/>
<circle cx="585.5" cy="760.2" r="2.4" fill="#000" fill-opacity="0.2"/>
<circle cx="590.1" cy="745.1" r="2.4" fill="#000" fill-opacity="0.27"/>
<circle cx="578.1" cy="746.6" r="2.4" fill="#000" fill-opacity="0.21"/>
<circle cx="597.3" cy="751.9" r="2.4" fill="#000" fill-opacity="0.37"/>
<circle cx="591.5" cy="741.8" r="2.4" fill="#000" fill-opacity="0.35"/>
<circle cx="582.0" cy="747.1" r="2.4" fill="#000" fill-opacity="0.4"/>
<circle cx="595.4" cy="734.0" r="2.4" fill="#000" fill-opacity="0.47"/>
<circle cx="588.4" cy="737.6" r="2.4" fill="#000" fill-opacity="0.38"/>
<circle cx="589.8" cy="743.3" r="2.4" fill="#000" fill-opacity="0.43"/>
<circle cx="590.8" cy="747.9" r="2.4" fill="#000" fill-opacity="0.26"/>
<circle cx="582.3" cy="744.0" r="2.4" fill="#000" fill-opacity="0.4"/>
<circle cx="588.6" cy="757.3" r="2.4" fill="#000" fill-opacity="0.47"/>
<circle cx="582.0" cy="753.6" r="2.4" fill="#000" fill-opacity="0.25"/>
<circle cx="626.6" cy="776.1" r="2.4" fill="#000" fill-opacity="0.59"/>
<circle cx="616.5" cy="790.4" r="2.4" fill="#000" fill-opacity="0.48"/>
<circle cx="604.9" cy="775.0" r="2.4" fill="#000" fill-opacity="0.44"/>
<circle cx="613.8" cy="775.4" r="2.4" fill="#000" fill-opacity="0.52"/>
<circle cx="609.4" cy="781.1" r="2.4" fill="#000" fill-opacity="0.56"/>
<circle cx="604.6" cy="770.6" r="2.4" fill="#000" fill-opacity="0.5"/>
<circle cx="616.1" cy="783.5" r="2.4" fill="#000" fill-opacity="0.53"/>
<circle cx="620.5" cy="799.2" r="2.4" fill="#000" fill-opacity="0.49"/>
<circle cx="602.5" cy="779.8" r="2.4" fill="#000" fill-opacity="0.69"/>
<circle cx="607.5" cy="796.3" r="2.4" fill="#000" fill-opacity="0.58"/>
<circle cx="599.5" cy="788.8" r="2.4" fill="#000" fill-opacity="0.47"/>
<circle cx="614.1" cy="780.9" r="2.4" fill="#000" fill-opacity="0.47"/>
<circle cx="620.0" cy="777.6" r="2.4" fill="#000" fill-opacity="0.58"/>
<circle cx="605.6" cy="774.9" r="2.4" fill="#000" fill-opacity="0.55"/>
<circle cx="609.9" cy="769.0" r="2.4" fill="#000" fill-opacity="0.42"/>
<circle cx="604.1" cy="782.0" r="2.4" fill="#000" fill-opacity="0.59"/>
<circle cx="616.9" cy="789.1" r="2.4" fill="#000" fill-opacity="0.49"/>
<circle cx="620.0" cy="787.2" r="2.4" fill="#000" fill-opacity="0.6"/>
<circle cx="609.2" cy="785.7" r="2.4" fill="#000" fill-opacity="0.62"/>
<circle cx="605.4" cy="775.7" r="2.4" fill="#000" fill-opacity="0.45"/>
<circle cx="607.7" cy="794.6" r="2.4" fill="#000" fill-opacity="0.4"/>
<circle cx="612.7" cy="775.4" r="2.4" fill="#000" fill-opacity="0.39"/>
<circle cx="614.7" cy="778.5" r="2.4" fill="#000" fill-opacity="0.64"/>
<circle cx="606.3" cy="784.9" r="2.4" fill="#000" fill-opacity="0.46"/>
<circle cx="616.0" cy="784.5" r="2.4" fill="#000" fill-opacity="0.38"/>
<circle cx="614.4" cy="788.9" r="2.4" fill="#000" fill-opacity="0.46"/>
<circle cx="615.7" cy="780.5" r="2.4" fill="#000" fill-opacity="0.61"/>
<circle cx="606.1" cy="793.9" r="2.4" fill="#000" fill-opacity="0.57"/>
<circle cx="587.1" cy="745.5" r="2.4" fill="#000" fill-opacity="0.29"/>
<circle cx="581.3" cy="735.9" r="2.4" fill="#000" fill-opacity="0.41"/>
<circle cx="598.3" cy="739.2" r="2.4" fill="#000" fill-opacity="0.26"/>
<circle cx="574.6" cy="734.0" r="2.4" fill="#000" fill-opacity="0.36"/>
<circle cx="578.2" cy="731.6" r="2.4" fill="#000" fill-opacity="0.25"/>
<circle cx="584.1" cy="749.4" r="2.4" fill="#000" fill-opacity="0.26"/>
<circle cx="566.7" cy="740.7" r="2.4" fill="#000" fill-opacity="0.21"/>
<circle cx="582.0" cy="748.8" r="2.4" fill="#000" fill-opacity="0.22"/>
<circle cx="605.5" cy="748.9" r="2.4" fill="#000" fill-opacity="0.3"/>
<circle cx="610.4" cy="756.9" r="2.4" fill="#000" fill-opacity="0.26"/>
<circle cx="610.3" cy="762.1" r="2.4" fill="#000" fill-opacity="0.23"/>
<circle cx="603.3" cy="752.3" r="2.4" fill="#000" fill-opacity="0.19"/>
<circle cx="606.5" cy="762.0" r="2.4" fill="#000" fill-opacity="0.35"/>
<circle cx="604.5" cy="754.8" r="2.4" fill="#000" fill-opacity="0.18"/>
<line x1="507.60" y1="703.60" x2="670.20" y2="796.50" stroke="#2b4de0" stroke-width="1.3"/>
<polyline points="507.60,699.50 511.67,702.01 515.73,704.52 519.80,707.04 523.86,709.55 527.93,712.06 531.99,714.57 536.06,717.08 540.12,719.59 544.19,722.10 548.25,724.61 552.32,727.12 556.38,729.63 560.45,732.13 564.51,734.64 568.58,737.14 572.64,739.64 576.71,742.13 580.77,744.61 584.84,747.07 588.90,749.50 592.97,751.87 597.03,754.18 601.10,756.42 605.16,758.61 609.23,760.79 613.29,762.95 617.36,765.10 621.42,767.25 625.49,769.39 629.55,771.53 633.62,773.67 637.68,775.80 641.75,777.94 645.81,780.07 649.88,782.21 653.94,784.34 658.01,786.48 662.07,788.61 666.13,790.74 670.20,792.88" fill="none" stroke="#2b4de0" stroke-width="0.9" stroke-dasharray="3.5,2.5"/>
<polyline points="507.60,707.70 511.67,709.83 515.73,711.97 519.80,714.10 523.86,716.23 527.93,718.36 531.99,720.50 536.06,722.63 540.12,724.77 544.19,726.90 548.25,729.04 552.32,731.17 556.38,733.31 560.45,735.45 564.51,737.59 568.58,739.74 572.64,741.88 576.71,744.04 580.77,746.20 584.84,748.39 588.90,750.60 592.97,752.87 597.03,755.21 601.10,757.62 605.16,760.07 609.23,762.54 613.29,765.02 617.36,767.52 621.42,770.01 625.49,772.52 629.55,775.02 633.62,777.53 637.68,780.04 641.75,782.55 645.81,785.06 649.88,787.57 653.94,790.08 658.01,792.59 662.07,795.10 666.13,797.61 670.20,800.12" fill="none" stroke="#2b4de0" stroke-width="0.9" stroke-dasharray="3.5,2.5"/>
</g>
<rect x="507.60" y="672.30" width="162.60" height="155.00" fill="none" stroke="#333" stroke-width="0.9"/>
<line x1="546.85" y1="827.30" x2="546.85" y2="831.70" stroke="#333" stroke-width="0.8"/>
<text x="546.85" y="849.20" font-size="9.6" text-anchor="middle" fill="#222">-5</text>
<line x1="502.60" y1="790.10" x2="507.60" y2="790.10" stroke="#333" stroke-width="0.8"/>
<text x="494.20" y="790.10" font-size="9.6" text-anchor="middle" fill="#222" transform="rotate(-90 494.20 790.10)">-5</text>
<line x1="588.10" y1="827.30" x2="588.10" y2="831.70" stroke="#333" stroke-width="0.8"/>
<text x="588.10" y="849.20" font-size="9.6" text-anchor="middle" fill="#222">0</text>
<line x1="502.60" y1="750.10" x2="507.60" y2="750.10" stroke="#333" stroke-width="0.8"/>
<text x="494.20" y="750.10" font-size="9.6" text-anchor="middle" fill="#222" transform="rotate(-90 494.20 750.10)">0</text>
<line x1="629.35" y1="827.30" x2="629.35" y2="831.70" stroke="#333" stroke-width="0.8"/>
<text x="629.35" y="849.20" font-size="9.6" text-anchor="middle" fill="#222">5</text>
<line x1="502.60" y1="710.10" x2="507.60" y2="710.10" stroke="#333" stroke-width="0.8"/>
<text x="494.20" y="710.10" font-size="9.6" text-anchor="middle" fill="#222" transform="rotate(-90 494.20 710.10)">5</text>
<text x="629.40" y="683.60" font-size="9.1" text-anchor="middle" fill="#2424f0">Causal estimate</text>
<text x="629.70" y="693.10" font-size="9.15" text-anchor="middle" fill="#2424f0">-0.60 (P=2.2E-114)</text>
<line x1="515.60" y1="788.70" x2="529.50" y2="788.70" stroke="#2b4de0" stroke-width="1.4"/>
<text x="535.30" y="791.30" font-size="7.2" fill="#222">MR effect</text>
<circle cx="522.6" cy="811.9" r="4.5" fill="#dff5e6" stroke="#3a9a50" stroke-width="0.8"/>
<text x="535.30" y="805.80" font-size="7.2" fill="#222">Null</text>
<text x="535.30" y="814.90" font-size="7.2" fill="#222">confidence</text>
<text x="535.30" y="823.40" font-size="7.2" fill="#222">ellipse</text>
<text x="470.70" y="749.70" font-size="9.95" text-anchor="middle" fill="#111" transform="rotate(-90 470.70 749.70)">Cortex pQTL marginal Z-statistic</text>
<text x="588.90" y="872.50" font-size="9.7" text-anchor="middle" fill="#111">AD marginal Z-statistic</text>
</svg></body></html>
